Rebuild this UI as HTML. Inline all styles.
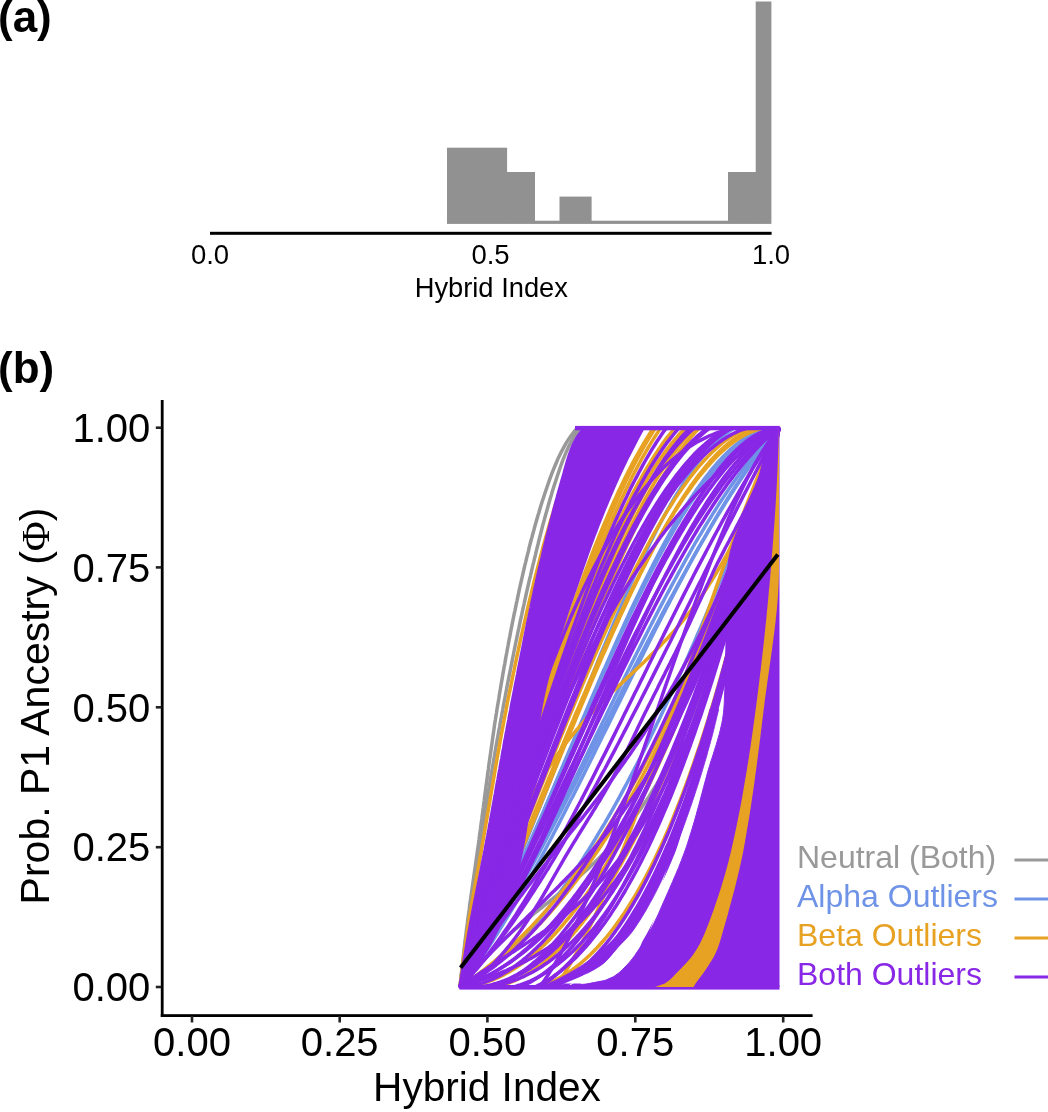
<!DOCTYPE html>
<html><head><meta charset="utf-8"><title>Genomic clines</title>
<style>
html,body{margin:0;padding:0;background:#fff;}
svg{display:block;font-family:"Liberation Sans",sans-serif;}
</style></head>
<body>
<svg width="1048" height="1112" viewBox="0 0 1048 1112">
<rect width="1048" height="1112" fill="#fff"/>
<text x="-2" y="31.5" font-size="44" text-anchor="start" fill="#000" font-weight="bold" >(a)</text>
<text x="-2" y="383" font-size="44" text-anchor="start" fill="#000" font-weight="bold" >(b)</text>
<rect x="447" y="147.7" width="60.1" height="76.20000000000002" fill="#919191"/>
<rect x="506.5" y="172" width="28.49999999999998" height="51.900000000000006" fill="#919191"/>
<rect x="534.4" y="220.7" width="25.700000000000024" height="3.200000000000017" fill="#919191"/>
<rect x="559.5" y="196.6" width="32.1" height="27.30000000000001" fill="#919191"/>
<rect x="591" y="220.7" width="137.6" height="3.200000000000017" fill="#919191"/>
<rect x="728" y="172" width="28.300000000000047" height="51.900000000000006" fill="#919191"/>
<rect x="755.7" y="1.5" width="15.699999999999909" height="222.4" fill="#919191"/>
<rect x="210" y="231.8" width="561.6" height="3" fill="#000"/>
<text x="210" y="264.3" font-size="27.5" text-anchor="middle" fill="#000" font-weight="normal" >0.0</text>
<text x="490.5" y="264.3" font-size="27.5" text-anchor="middle" fill="#000" font-weight="normal" >0.5</text>
<text x="771" y="264.3" font-size="27.5" text-anchor="middle" fill="#000" font-weight="normal" >1.0</text>
<text x="491.3" y="297" font-size="27.3" text-anchor="middle" fill="#000" font-weight="normal" >Hybrid Index</text>
<rect x="160.8" y="400" width="2.8" height="617" fill="#000"/>
<rect x="160.8" y="1014.2" width="651.8" height="2.8" fill="#000"/>
<rect x="155.8" y="426.4" width="5.5" height="2.6" fill="#222"/>
<text x="150.3" y="441.9" font-size="40" text-anchor="end" fill="#000" font-weight="normal" >1.00</text>
<rect x="155.8" y="566.1" width="5.5" height="2.6" fill="#222"/>
<text x="150.3" y="581.6" font-size="40" text-anchor="end" fill="#000" font-weight="normal" >0.75</text>
<rect x="155.8" y="706.0" width="5.5" height="2.6" fill="#222"/>
<text x="150.3" y="721.5" font-size="40" text-anchor="end" fill="#000" font-weight="normal" >0.50</text>
<rect x="155.8" y="845.9000000000001" width="5.5" height="2.6" fill="#222"/>
<text x="150.3" y="861.4000000000001" font-size="40" text-anchor="end" fill="#000" font-weight="normal" >0.25</text>
<rect x="155.8" y="985.7" width="5.5" height="2.6" fill="#222"/>
<text x="150.3" y="1001.2" font-size="40" text-anchor="end" fill="#000" font-weight="normal" >0.00</text>
<rect x="190.7" y="1016" width="2.6" height="6.5" fill="#222"/>
<text x="192" y="1056" font-size="40" text-anchor="middle" fill="#000" font-weight="normal" >0.00</text>
<rect x="338.4" y="1016" width="2.6" height="6.5" fill="#222"/>
<text x="339.7" y="1056" font-size="40" text-anchor="middle" fill="#000" font-weight="normal" >0.25</text>
<rect x="486.09999999999997" y="1016" width="2.6" height="6.5" fill="#222"/>
<text x="487.4" y="1056" font-size="40" text-anchor="middle" fill="#000" font-weight="normal" >0.50</text>
<rect x="634.0" y="1016" width="2.6" height="6.5" fill="#222"/>
<text x="635.3" y="1056" font-size="40" text-anchor="middle" fill="#000" font-weight="normal" >0.75</text>
<rect x="781.9000000000001" y="1016" width="2.6" height="6.5" fill="#222"/>
<text x="783.2" y="1056" font-size="40" text-anchor="middle" fill="#000" font-weight="normal" >1.00</text>
<text x="487.0" y="1101" font-size="40.6" text-anchor="middle" fill="#000" font-weight="normal" >Hybrid Index</text>
<text transform="translate(48.8,706) rotate(-90)" font-size="41" text-anchor="middle">Prob. P1 Ancestry (<tspan font-family="Liberation Serif, serif">Φ</tspan>)</text>
<text x="797" y="868.2" font-size="32" text-anchor="start" fill="#999999" font-weight="normal" >Neutral (Both)</text>
<rect x="1014.5" y="858.5" width="34" height="3" fill="#999999"/>
<text x="797" y="907.2" font-size="32" text-anchor="start" fill="#6f93e6" font-weight="normal" >Alpha Outliers</text>
<rect x="1014.5" y="897.5" width="34" height="3" fill="#6f93e6"/>
<text x="797" y="946.2" font-size="32" text-anchor="start" fill="#e8a223" font-weight="normal" >Beta Outliers</text>
<rect x="1014.5" y="936.5" width="34" height="3" fill="#e8a223"/>
<text x="797" y="985.2" font-size="32" text-anchor="start" fill="#8927e6" font-weight="normal" >Both Outliers</text>
<rect x="1014.5" y="975.5" width="34" height="3" fill="#8927e6"/>
<path d="M460.0,987.0 L460.4,983.5 L460.7,980.0 L461.1,976.5 L461.5,972.9 L461.9,969.4 L462.3,965.9 L462.7,962.4 L463.1,958.9 L463.5,955.4 L463.9,951.8 L464.3,948.3 L464.7,944.8 L465.1,941.3 L465.5,937.8 L466.0,934.3 L466.4,930.7 L466.8,927.2 L467.3,923.7 L467.7,920.2 L468.2,916.7 L468.7,913.2 L469.2,909.7 L469.6,906.1 L470.1,902.6 L470.6,899.1 L471.1,895.6 L471.6,892.1 L472.1,888.6 L472.6,885.0 L473.1,881.5 L473.6,878.0 L474.1,874.5 L474.6,871.0 L475.1,867.5 L475.6,863.9 L476.1,860.4 L476.6,856.9 L477.1,853.4 L477.6,849.9 L478.1,846.4 L478.6,842.9 L479.1,839.3 L479.5,835.8 L480.0,832.3 L480.5,828.8 L480.9,825.3 L481.4,821.8 L481.9,818.2 L482.3,814.7 L482.8,811.2 L483.3,807.7 L483.7,804.2 L484.2,800.7 L484.6,797.2 L485.1,793.6 L485.6,790.1 L486.0,786.6 L486.5,783.1 L487.0,779.6 L487.4,776.1 L487.9,772.5 L488.4,769.0 L488.8,765.5 L489.3,762.0 L489.8,758.5 L490.3,755.0 L490.8,751.4 L491.3,747.9 L491.8,744.4 L492.3,740.9 L492.8,737.4 L493.3,733.9 L493.8,730.4 L494.3,726.8 L494.8,723.3 L495.4,719.8 L495.9,716.3 L496.5,712.8 L497.0,709.3 L497.6,705.7 L498.2,702.2 L498.8,698.7 L499.3,695.2 L499.9,691.7 L500.5,688.2 L501.1,684.6 L501.7,681.1 L502.3,677.6 L502.9,674.1 L503.5,670.6 L504.1,667.1 L504.8,663.6 L505.4,660.0 L506.0,656.5 L506.7,653.0 L507.3,649.5 L508.0,646.0 L508.6,642.5 L509.3,638.9 L510.0,635.4 L510.6,631.9 L511.3,628.4 L512.0,624.9 L512.7,621.4 L513.4,617.8 L514.1,614.3 L514.9,610.8 L515.6,607.3 L516.3,603.8 L517.1,600.3 L517.8,596.8 L518.6,593.2 L519.3,589.7 L520.1,586.2 L520.9,582.7 L521.7,579.2 L522.5,575.7 L523.3,572.1 L524.1,568.6 L524.9,565.1 L525.8,561.6 L526.6,558.1 L527.5,554.6 L528.4,551.1 L529.2,547.5 L530.1,544.0 L531.0,540.5 L532.0,537.0 L532.9,533.5 L533.9,530.0 L534.8,526.4 L535.8,522.9 L536.8,519.4 L537.8,515.9 L538.9,512.4 L539.9,508.9 L541.0,505.3 L542.1,501.8 L543.3,498.3 L544.4,494.8 L545.6,491.3 L546.8,487.8 L548.0,484.3 L549.2,480.7 L550.5,477.2 L551.8,473.7 L553.2,470.2 L554.6,466.7 L556.1,463.2 L557.6,459.6 L559.3,456.1 L561.0,452.6 L562.8,449.1 L564.7,445.6 L566.7,442.1 L569.1,438.5 L571.6,435.0 L574.2,431.5 L577.0,428.0 L779.0,428.0" fill="none" stroke="#999999" stroke-width="3.5" stroke-linejoin="round"/>
<path d="M460.0,987.0 L460.4,983.5 L460.8,980.0 L461.2,976.5 L461.6,972.9 L462.0,969.4 L462.4,965.9 L462.9,962.4 L463.3,958.9 L463.7,955.4 L464.2,951.8 L464.6,948.3 L465.1,944.8 L465.5,941.3 L466.0,937.8 L466.4,934.3 L466.9,930.7 L467.4,927.2 L467.9,923.7 L468.3,920.2 L468.8,916.7 L469.3,913.2 L469.8,909.7 L470.4,906.1 L470.9,902.6 L471.4,899.1 L471.9,895.6 L472.5,892.1 L473.0,888.6 L473.5,885.0 L474.1,881.5 L474.6,878.0 L475.2,874.5 L475.7,871.0 L476.3,867.5 L476.8,863.9 L477.4,860.4 L477.9,856.9 L478.5,853.4 L479.0,849.9 L479.6,846.4 L480.2,842.9 L480.7,839.3 L481.3,835.8 L481.8,832.3 L482.4,828.8 L483.0,825.3 L483.5,821.8 L484.1,818.2 L484.7,814.7 L485.2,811.2 L485.8,807.7 L486.4,804.2 L486.9,800.7 L487.5,797.2 L488.1,793.6 L488.7,790.1 L489.3,786.6 L489.8,783.1 L490.4,779.6 L491.0,776.1 L491.6,772.5 L492.2,769.0 L492.8,765.5 L493.4,762.0 L494.0,758.5 L494.6,755.0 L495.2,751.4 L495.8,747.9 L496.4,744.4 L497.0,740.9 L497.7,737.4 L498.3,733.9 L498.9,730.4 L499.6,726.8 L500.2,723.3 L500.8,719.8 L501.5,716.3 L502.1,712.8 L502.8,709.3 L503.4,705.7 L504.1,702.2 L504.8,698.7 L505.4,695.2 L506.1,691.7 L506.8,688.2 L507.4,684.6 L508.1,681.1 L508.8,677.6 L509.5,674.1 L510.2,670.6 L510.9,667.1 L511.6,663.6 L512.3,660.0 L513.0,656.5 L513.7,653.0 L514.4,649.5 L515.1,646.0 L515.8,642.5 L516.6,638.9 L517.3,635.4 L518.0,631.9 L518.8,628.4 L519.5,624.9 L520.2,621.4 L521.0,617.8 L521.8,614.3 L522.5,610.8 L523.3,607.3 L524.1,603.8 L524.8,600.3 L525.6,596.8 L526.4,593.2 L527.2,589.7 L528.0,586.2 L528.8,582.7 L529.6,579.2 L530.5,575.7 L531.3,572.1 L532.1,568.6 L532.9,565.1 L533.8,561.6 L534.6,558.1 L535.5,554.6 L536.3,551.1 L537.2,547.5 L538.1,544.0 L538.9,540.5 L539.8,537.0 L540.7,533.5 L541.6,530.0 L542.5,526.4 L543.4,522.9 L544.4,519.4 L545.3,515.9 L546.3,512.4 L547.3,508.9 L548.3,505.3 L549.3,501.8 L550.3,498.3 L551.4,494.8 L552.4,491.3 L553.5,487.8 L554.6,484.3 L555.8,480.7 L556.9,477.2 L558.1,473.7 L559.3,470.2 L560.5,466.7 L561.8,463.2 L563.1,459.6 L564.5,456.1 L566.0,452.6 L567.6,449.1 L569.2,445.6 L571.0,442.1 L573.0,438.5 L575.3,435.0 L577.6,431.5 L580.0,428.0 L779.0,428.0" fill="none" stroke="#999999" stroke-width="3.5" stroke-linejoin="round"/>
<path d="M460.0,987.0 L462.0,984.4 L464.0,981.9 L466.0,979.4 L468.0,977.0 L470.0,974.6 L472.0,972.2 L474.0,969.9 L476.1,967.6 L478.1,965.3 L480.1,963.1 L482.1,961.0 L484.1,958.8 L486.1,956.7 L488.1,954.7 L490.1,952.6 L492.1,950.6 L494.1,948.6 L496.1,946.7 L498.1,944.8 L500.1,942.9 L502.1,941.0 L504.1,939.2 L506.1,937.3 L508.2,935.5 L510.2,933.7 L512.2,932.0 L514.2,930.2 L516.2,928.5 L518.2,926.8 L520.2,925.1 L522.2,923.4 L524.2,921.7 L526.2,920.1 L528.2,918.4 L530.2,916.8 L532.2,915.2 L534.2,913.5 L536.2,911.9 L538.2,910.3 L540.3,908.7 L542.3,907.1 L544.3,905.5 L546.3,903.9 L548.3,902.3 L550.3,900.7 L552.3,899.1 L554.3,897.4 L556.3,895.8 L558.3,894.2 L560.3,892.6 L562.3,890.9 L564.3,889.3 L566.3,887.6 L568.3,886.0 L570.3,884.3 L572.4,882.6 L574.4,880.9 L576.4,879.1 L578.4,877.4 L580.4,875.6 L582.4,873.8 L584.4,872.0 L586.4,870.2 L588.4,868.4 L590.4,866.5 L592.4,864.6 L594.4,862.7 L596.4,860.7 L598.4,858.8 L600.4,856.8 L602.4,854.7 L604.5,852.7 L606.5,850.6 L608.5,848.4 L610.5,846.3 L612.5,844.1 L614.5,841.8 L616.5,839.6 L618.5,837.2 L620.5,834.9 L622.5,832.5 L624.5,830.1 L626.5,827.6 L628.5,825.0 L630.5,822.5 L632.5,819.8 L634.5,817.2 L636.6,814.5 L638.6,811.7 L640.6,808.9 L642.6,806.0 L644.6,803.1 L646.6,800.1 L648.6,797.1 L650.6,794.0 L652.6,790.8 L654.6,787.6 L656.6,784.4 L658.6,781.0 L660.6,777.7 L662.6,774.2 L664.6,770.7 L666.6,767.1 L668.7,763.4 L670.7,759.7 L672.7,755.9 L674.7,752.1 L676.7,748.2 L678.7,744.2 L680.7,740.1 L682.7,735.9 L684.7,731.7 L686.7,727.4 L688.7,723.1 L690.7,718.6 L692.7,714.1 L694.7,709.5 L696.7,704.8 L698.7,700.0 L700.8,695.1 L702.8,690.2 L704.8,685.1 L706.8,680.0 L708.8,674.8 L710.8,669.5 L712.8,664.1 L714.8,658.6 L716.8,653.0 L718.8,647.4 L720.8,641.6 L722.8,635.7 L724.8,629.8 L726.8,623.7 L728.8,617.6 L730.8,611.3 L732.9,604.9 L734.9,598.5 L736.9,591.9 L738.9,585.2 L740.9,578.5 L742.9,571.6 L744.9,564.6 L746.9,557.5 L748.9,550.3 L750.9,542.9 L752.9,535.5 L754.9,527.9 L756.9,520.3 L758.9,512.5 L760.9,504.6 L762.9,496.6 L765.0,488.4 L767.0,480.2 L769.0,471.8 L771.0,463.3 L773.0,454.6 L775.0,445.9 L777.0,437.0 L779.0,428.0" fill="none" stroke="#999999" stroke-width="3.5" stroke-linejoin="round"/>
<path d="M460.0,987.0 L462.0,984.4 L464.0,981.9 L466.0,979.2 L468.0,976.6 L470.0,973.8 L472.0,971.1 L474.0,968.3 L476.1,965.5 L478.1,962.6 L480.1,959.7 L482.1,956.8 L484.1,953.8 L486.1,950.9 L488.1,947.8 L490.1,944.8 L492.1,941.7 L494.1,938.5 L496.1,935.4 L498.1,932.2 L500.1,928.9 L502.1,925.7 L504.1,922.4 L506.1,919.1 L508.2,915.8 L510.2,912.4 L512.2,909.0 L514.2,905.6 L516.2,902.1 L518.2,898.7 L520.2,895.2 L522.2,891.6 L524.2,888.1 L526.2,884.5 L528.2,880.9 L530.2,877.3 L532.2,873.7 L534.2,870.0 L536.2,866.3 L538.2,862.6 L540.3,858.9 L542.3,855.2 L544.3,851.4 L546.3,847.6 L548.3,843.8 L550.3,840.0 L552.3,836.2 L554.3,832.3 L556.3,828.5 L558.3,824.6 L560.3,820.7 L562.3,816.8 L564.3,812.9 L566.3,808.9 L568.3,805.0 L570.3,801.0 L572.4,797.1 L574.4,793.1 L576.4,789.1 L578.4,785.1 L580.4,781.1 L582.4,777.1 L584.4,773.1 L586.4,769.0 L588.4,765.0 L590.4,761.0 L592.4,756.9 L594.4,752.9 L596.4,748.8 L598.4,744.7 L600.4,740.7 L602.4,736.6 L604.5,732.5 L606.5,728.4 L608.5,724.4 L610.5,720.3 L612.5,716.2 L614.5,712.1 L616.5,708.0 L618.5,703.9 L620.5,699.9 L622.5,695.8 L624.5,691.7 L626.5,687.7 L628.5,683.6 L630.5,679.5 L632.5,675.5 L634.5,671.4 L636.6,667.4 L638.6,663.3 L640.6,659.3 L642.6,655.3 L644.6,651.2 L646.6,647.2 L648.6,643.2 L650.6,639.2 L652.6,635.3 L654.6,631.3 L656.6,627.3 L658.6,623.4 L660.6,619.4 L662.6,615.5 L664.6,611.6 L666.6,607.7 L668.7,603.8 L670.7,600.0 L672.7,596.1 L674.7,592.3 L676.7,588.5 L678.7,584.7 L680.7,580.9 L682.7,577.1 L684.7,573.4 L686.7,569.6 L688.7,565.9 L690.7,562.2 L692.7,558.6 L694.7,554.9 L696.7,551.3 L698.7,547.7 L700.8,544.1 L702.8,540.5 L704.8,537.0 L706.8,533.5 L708.8,530.0 L710.8,526.6 L712.8,523.1 L714.8,519.7 L716.8,516.3 L718.8,513.0 L720.8,509.7 L722.8,506.4 L724.8,503.1 L726.8,499.9 L728.8,496.7 L730.8,493.5 L732.9,490.4 L734.9,487.3 L736.9,484.2 L738.9,481.1 L740.9,478.1 L742.9,475.1 L744.9,472.2 L746.9,469.3 L748.9,466.4 L750.9,463.6 L752.9,460.8 L754.9,458.0 L756.9,455.3 L758.9,452.6 L760.9,450.0 L762.9,447.4 L765.0,444.8 L767.0,442.3 L769.0,439.8 L771.0,437.3 L773.0,434.9 L775.0,432.6 L777.0,430.3 L779.0,428.0" fill="none" stroke="#6f93e6" stroke-width="3.5" stroke-linejoin="round"/>
<path d="M460.0,987.0 L462.0,983.5 L464.0,979.9 L466.0,976.2 L468.0,972.6 L470.0,968.9 L472.0,965.1 L474.0,961.3 L476.1,957.5 L478.1,953.6 L480.1,949.7 L482.1,945.7 L484.1,941.7 L486.1,937.7 L488.1,933.7 L490.1,929.6 L492.1,925.5 L494.1,921.3 L496.1,917.1 L498.1,912.9 L500.1,908.6 L502.1,904.4 L504.1,900.1 L506.1,895.7 L508.2,891.4 L510.2,887.0 L512.2,882.6 L514.2,878.2 L516.2,873.7 L518.2,869.2 L520.2,864.7 L522.2,860.2 L524.2,855.7 L526.2,851.1 L528.2,846.6 L530.2,842.0 L532.2,837.4 L534.2,832.8 L536.2,828.1 L538.2,823.5 L540.3,818.8 L542.3,814.2 L544.3,809.5 L546.3,804.8 L548.3,800.1 L550.3,795.4 L552.3,790.7 L554.3,786.0 L556.3,781.3 L558.3,776.5 L560.3,771.8 L562.3,767.1 L564.3,762.3 L566.3,757.6 L568.3,752.9 L570.3,748.1 L572.4,743.4 L574.4,738.7 L576.4,733.9 L578.4,729.2 L580.4,724.5 L582.4,719.8 L584.4,715.1 L586.4,710.4 L588.4,705.7 L590.4,701.0 L592.4,696.4 L594.4,691.7 L596.4,687.1 L598.4,682.4 L600.4,677.8 L602.4,673.2 L604.5,668.6 L606.5,664.1 L608.5,659.5 L610.5,655.0 L612.5,650.5 L614.5,646.0 L616.5,641.5 L618.5,637.0 L620.5,632.6 L622.5,628.2 L624.5,623.8 L626.5,619.5 L628.5,615.1 L630.5,610.8 L632.5,606.6 L634.5,602.3 L636.6,598.1 L638.6,593.9 L640.6,589.8 L642.6,585.6 L644.6,581.5 L646.6,577.5 L648.6,573.5 L650.6,569.5 L652.6,565.5 L654.6,561.6 L656.6,557.7 L658.6,553.9 L660.6,550.1 L662.6,546.3 L664.6,542.6 L666.6,539.0 L668.7,535.3 L670.7,531.7 L672.7,528.2 L674.7,524.7 L676.7,521.3 L678.7,517.9 L680.7,514.5 L682.7,511.2 L684.7,508.0 L686.7,504.8 L688.7,501.6 L690.7,498.5 L692.7,495.5 L694.7,492.5 L696.7,489.6 L698.7,486.7 L700.8,483.9 L702.8,481.1 L704.8,478.4 L706.8,475.8 L708.8,473.2 L710.8,470.7 L712.8,468.2 L714.8,465.9 L716.8,463.5 L718.8,461.3 L720.8,459.1 L722.8,456.9 L724.8,454.9 L726.8,452.9 L728.8,451.0 L730.8,449.1 L732.9,447.3 L734.9,445.6 L736.9,444.0 L738.9,442.4 L740.9,440.9 L742.9,439.5 L744.9,438.2 L746.9,436.9 L748.9,435.8 L750.9,434.6 L752.9,433.6 L754.9,432.7 L756.9,431.8 L758.9,431.0 L760.9,430.4 L762.9,429.7 L765.0,429.2 L767.0,428.8 L769.0,428.4 L771.0,428.2 L773.0,428.0 L775.0,428.0 L777.0,428.0 L779.0,428.0" fill="none" stroke="#6f93e6" stroke-width="3.5" stroke-linejoin="round"/>
<path d="M460.0,987.0 L462.0,984.1 L464.0,981.2 L466.0,978.2 L468.0,975.2 L470.0,972.1 L472.0,969.1 L474.0,966.0 L476.1,962.8 L478.1,959.7 L480.1,956.4 L482.1,953.2 L484.1,949.9 L486.1,946.7 L488.1,943.3 L490.1,940.0 L492.1,936.6 L494.1,933.2 L496.1,929.8 L498.1,926.3 L500.1,922.8 L502.1,919.3 L504.1,915.7 L506.1,912.2 L508.2,908.6 L510.2,905.0 L512.2,901.4 L514.2,897.7 L516.2,894.0 L518.2,890.3 L520.2,886.6 L522.2,882.9 L524.2,879.1 L526.2,875.3 L528.2,871.5 L530.2,867.7 L532.2,863.9 L534.2,860.0 L536.2,856.2 L538.2,852.3 L540.3,848.4 L542.3,844.5 L544.3,840.5 L546.3,836.6 L548.3,832.6 L550.3,828.7 L552.3,824.7 L554.3,820.7 L556.3,816.7 L558.3,812.7 L560.3,808.7 L562.3,804.6 L564.3,800.6 L566.3,796.5 L568.3,792.5 L570.3,788.4 L572.4,784.3 L574.4,780.2 L576.4,776.2 L578.4,772.1 L580.4,768.0 L582.4,763.9 L584.4,759.8 L586.4,755.7 L588.4,751.6 L590.4,747.4 L592.4,743.3 L594.4,739.2 L596.4,735.1 L598.4,731.0 L600.4,726.9 L602.4,722.8 L604.5,718.7 L606.5,714.5 L608.5,710.4 L610.5,706.3 L612.5,702.2 L614.5,698.1 L616.5,694.1 L618.5,690.0 L620.5,685.9 L622.5,681.8 L624.5,677.8 L626.5,673.7 L628.5,669.7 L630.5,665.6 L632.5,661.6 L634.5,657.6 L636.6,653.5 L638.6,649.5 L640.6,645.6 L642.6,641.6 L644.6,637.6 L646.6,633.7 L648.6,629.7 L650.6,625.8 L652.6,621.9 L654.6,618.0 L656.6,614.1 L658.6,610.2 L660.6,606.4 L662.6,602.6 L664.6,598.8 L666.6,595.0 L668.7,591.2 L670.7,587.4 L672.7,583.7 L674.7,580.0 L676.7,576.3 L678.7,572.6 L680.7,569.0 L682.7,565.3 L684.7,561.7 L686.7,558.1 L688.7,554.6 L690.7,551.0 L692.7,547.5 L694.7,544.0 L696.7,540.6 L698.7,537.2 L700.8,533.8 L702.8,530.4 L704.8,527.0 L706.8,523.7 L708.8,520.4 L710.8,517.2 L712.8,513.9 L714.8,510.7 L716.8,507.6 L718.8,504.4 L720.8,501.3 L722.8,498.3 L724.8,495.2 L726.8,492.2 L728.8,489.3 L730.8,486.3 L732.9,483.4 L734.9,480.6 L736.9,477.8 L738.9,475.0 L740.9,472.2 L742.9,469.5 L744.9,466.9 L746.9,464.2 L748.9,461.6 L750.9,459.1 L752.9,456.6 L754.9,454.1 L756.9,451.7 L758.9,449.3 L760.9,447.0 L762.9,444.7 L765.0,442.5 L767.0,440.2 L769.0,438.1 L771.0,436.0 L773.0,433.9 L775.0,431.9 L777.0,429.9 L779.0,428.0" fill="none" stroke="#6f93e6" stroke-width="3.5" stroke-linejoin="round"/>
<path d="M460.0,987.0 L462.0,986.0 L464.0,985.0 L466.0,983.9 L468.0,982.8 L470.0,981.6 L472.0,980.4 L474.0,979.2 L476.1,977.9 L478.1,976.6 L480.1,975.2 L482.1,973.8 L484.1,972.4 L486.1,971.0 L488.1,969.5 L490.1,967.9 L492.1,966.4 L494.1,964.8 L496.1,963.1 L498.1,961.4 L500.1,959.7 L502.1,958.0 L504.1,956.2 L506.1,954.3 L508.2,952.5 L510.2,950.6 L512.2,948.6 L514.2,946.7 L516.2,944.7 L518.2,942.6 L520.2,940.6 L522.2,938.4 L524.2,936.3 L526.2,934.1 L528.2,931.9 L530.2,929.7 L532.2,927.4 L534.2,925.1 L536.2,922.7 L538.2,920.3 L540.3,917.9 L542.3,915.5 L544.3,913.0 L546.3,910.5 L548.3,907.9 L550.3,905.3 L552.3,902.7 L554.3,900.1 L556.3,897.4 L558.3,894.7 L560.3,891.9 L562.3,889.1 L564.3,886.3 L566.3,883.5 L568.3,880.6 L570.3,877.7 L572.4,874.8 L574.4,871.8 L576.4,868.8 L578.4,865.8 L580.4,862.7 L582.4,859.6 L584.4,856.5 L586.4,853.3 L588.4,850.1 L590.4,846.9 L592.4,843.7 L594.4,840.4 L596.4,837.1 L598.4,833.7 L600.4,830.4 L602.4,827.0 L604.5,823.6 L606.5,820.1 L608.5,816.6 L610.5,813.1 L612.5,809.6 L614.5,806.0 L616.5,802.4 L618.5,798.8 L620.5,795.1 L622.5,791.4 L624.5,787.7 L626.5,784.0 L628.5,780.2 L630.5,776.4 L632.5,772.6 L634.5,768.7 L636.6,764.9 L638.6,760.9 L640.6,757.0 L642.6,753.1 L644.6,749.1 L646.6,745.1 L648.6,741.0 L650.6,736.9 L652.6,732.9 L654.6,728.7 L656.6,724.6 L658.6,720.4 L660.6,716.2 L662.6,712.0 L664.6,707.8 L666.6,703.5 L668.7,699.2 L670.7,694.9 L672.7,690.5 L674.7,686.2 L676.7,681.8 L678.7,677.3 L680.7,672.9 L682.7,668.4 L684.7,663.9 L686.7,659.4 L688.7,654.9 L690.7,650.3 L692.7,645.7 L694.7,641.1 L696.7,636.5 L698.7,631.8 L700.8,627.1 L702.8,622.4 L704.8,617.7 L706.8,612.9 L708.8,608.2 L710.8,603.4 L712.8,598.6 L714.8,593.7 L716.8,588.9 L718.8,584.0 L720.8,579.1 L722.8,574.1 L724.8,569.2 L726.8,564.2 L728.8,559.2 L730.8,554.2 L732.9,549.2 L734.9,544.1 L736.9,539.1 L738.9,534.0 L740.9,528.9 L742.9,523.7 L744.9,518.6 L746.9,513.4 L748.9,508.2 L750.9,503.0 L752.9,497.8 L754.9,492.5 L756.9,487.2 L758.9,481.9 L760.9,476.6 L762.9,471.3 L765.0,466.0 L767.0,460.6 L769.0,455.2 L771.0,449.8 L773.0,444.4 L775.0,438.9 L777.0,433.5 L779.0,428.0" fill="none" stroke="#6f93e6" stroke-width="3.5" stroke-linejoin="round"/>
<path d="M460.0,987.0 L462.0,984.0 L464.0,981.0 L466.0,978.0 L468.0,975.0 L470.0,971.9 L472.0,968.8 L474.0,965.7 L476.1,962.5 L478.1,959.3 L480.1,956.1 L482.1,952.9 L484.1,949.6 L486.1,946.4 L488.1,943.1 L490.1,939.7 L492.1,936.4 L494.1,933.0 L496.1,929.6 L498.1,926.2 L500.1,922.8 L502.1,919.4 L504.1,915.9 L506.1,912.4 L508.2,908.9 L510.2,905.4 L512.2,901.8 L514.2,898.3 L516.2,894.7 L518.2,891.1 L520.2,887.5 L522.2,883.8 L524.2,880.2 L526.2,876.5 L528.2,872.9 L530.2,869.2 L532.2,865.5 L534.2,861.7 L536.2,858.0 L538.2,854.3 L540.3,850.5 L542.3,846.7 L544.3,842.9 L546.3,839.2 L548.3,835.3 L550.3,831.5 L552.3,827.7 L554.3,823.9 L556.3,820.0 L558.3,816.2 L560.3,812.3 L562.3,808.4 L564.3,804.6 L566.3,800.7 L568.3,796.8 L570.3,792.9 L572.4,789.0 L574.4,785.1 L576.4,781.1 L578.4,777.2 L580.4,773.3 L582.4,769.3 L584.4,765.4 L586.4,761.5 L588.4,757.5 L590.4,753.6 L592.4,749.6 L594.4,745.7 L596.4,741.7 L598.4,737.8 L600.4,733.8 L602.4,729.9 L604.5,725.9 L606.5,722.0 L608.5,718.0 L610.5,714.1 L612.5,710.1 L614.5,706.2 L616.5,702.2 L618.5,698.3 L620.5,694.4 L622.5,690.4 L624.5,686.5 L626.5,682.6 L628.5,678.6 L630.5,674.7 L632.5,670.8 L634.5,666.9 L636.6,663.0 L638.6,659.1 L640.6,655.2 L642.6,651.4 L644.6,647.5 L646.6,643.6 L648.6,639.8 L650.6,636.0 L652.6,632.1 L654.6,628.3 L656.6,624.5 L658.6,620.7 L660.6,616.9 L662.6,613.1 L664.6,609.4 L666.6,605.6 L668.7,601.9 L670.7,598.2 L672.7,594.5 L674.7,590.8 L676.7,587.1 L678.7,583.4 L680.7,579.8 L682.7,576.1 L684.7,572.5 L686.7,568.9 L688.7,565.3 L690.7,561.8 L692.7,558.2 L694.7,554.7 L696.7,551.2 L698.7,547.7 L700.8,544.2 L702.8,540.7 L704.8,537.3 L706.8,533.9 L708.8,530.5 L710.8,527.1 L712.8,523.8 L714.8,520.4 L716.8,517.1 L718.8,513.8 L720.8,510.6 L722.8,507.3 L724.8,504.1 L726.8,500.9 L728.8,497.8 L730.8,494.6 L732.9,491.5 L734.9,488.4 L736.9,485.4 L738.9,482.4 L740.9,479.4 L742.9,476.4 L744.9,473.4 L746.9,470.5 L748.9,467.6 L750.9,464.8 L752.9,461.9 L754.9,459.1 L756.9,456.3 L758.9,453.6 L760.9,450.9 L762.9,448.2 L765.0,445.6 L767.0,443.0 L769.0,440.4 L771.0,437.8 L773.0,435.3 L775.0,432.9 L777.0,430.4 L779.0,428.0" fill="none" stroke="#6f93e6" stroke-width="3.5" stroke-linejoin="round"/>
<path d="M460.0,987.0 L462.0,983.4 L464.0,979.7 L466.0,976.1 L468.0,972.3 L470.0,968.6 L472.0,964.8 L474.0,960.9 L476.1,957.0 L478.1,953.1 L480.1,949.2 L482.1,945.2 L484.1,941.2 L486.1,937.2 L488.1,933.1 L490.1,929.0 L492.1,924.8 L494.1,920.7 L496.1,916.5 L498.1,912.3 L500.1,908.0 L502.1,903.8 L504.1,899.5 L506.1,895.2 L508.2,890.8 L510.2,886.4 L512.2,882.1 L514.2,877.7 L516.2,873.2 L518.2,868.8 L520.2,864.3 L522.2,859.8 L524.2,855.3 L526.2,850.8 L528.2,846.3 L530.2,841.8 L532.2,837.2 L534.2,832.6 L536.2,828.0 L538.2,823.5 L540.3,818.8 L542.3,814.2 L544.3,809.6 L546.3,805.0 L548.3,800.3 L550.3,795.7 L552.3,791.1 L554.3,786.4 L556.3,781.7 L558.3,777.1 L560.3,772.4 L562.3,767.8 L564.3,763.1 L566.3,758.4 L568.3,753.8 L570.3,749.1 L572.4,744.4 L574.4,739.8 L576.4,735.1 L578.4,730.5 L580.4,725.8 L582.4,721.2 L584.4,716.6 L586.4,712.0 L588.4,707.4 L590.4,702.8 L592.4,698.2 L594.4,693.6 L596.4,689.0 L598.4,684.5 L600.4,679.9 L602.4,675.4 L604.5,670.9 L606.5,666.4 L608.5,661.9 L610.5,657.5 L612.5,653.0 L614.5,648.6 L616.5,644.2 L618.5,639.8 L620.5,635.4 L622.5,631.1 L624.5,626.8 L626.5,622.5 L628.5,618.2 L630.5,614.0 L632.5,609.8 L634.5,605.6 L636.6,601.5 L638.6,597.3 L640.6,593.2 L642.6,589.2 L644.6,585.1 L646.6,581.1 L648.6,577.1 L650.6,573.2 L652.6,569.3 L654.6,565.4 L656.6,561.6 L658.6,557.8 L660.6,554.1 L662.6,550.3 L664.6,546.7 L666.6,543.0 L668.7,539.4 L670.7,535.9 L672.7,532.3 L674.7,528.9 L676.7,525.4 L678.7,522.1 L680.7,518.7 L682.7,515.4 L684.7,512.2 L686.7,509.0 L688.7,505.9 L690.7,502.8 L692.7,499.7 L694.7,496.7 L696.7,493.8 L698.7,490.9 L700.8,488.1 L702.8,485.3 L704.8,482.6 L706.8,479.9 L708.8,477.3 L710.8,474.7 L712.8,472.2 L714.8,469.8 L716.8,467.4 L718.8,465.1 L720.8,462.9 L722.8,460.7 L724.8,458.5 L726.8,456.5 L728.8,454.5 L730.8,452.6 L732.9,450.7 L734.9,448.9 L736.9,447.2 L738.9,445.5 L740.9,443.9 L742.9,442.4 L744.9,440.9 L746.9,439.6 L748.9,438.3 L750.9,437.0 L752.9,435.9 L754.9,434.8 L756.9,433.8 L758.9,432.9 L760.9,432.0 L762.9,431.2 L765.0,430.5 L767.0,429.9 L769.0,429.4 L771.0,429.0 L773.0,428.6 L775.0,428.3 L777.0,428.1 L779.0,428.0" fill="none" stroke="#6f93e6" stroke-width="3.5" stroke-linejoin="round"/>
<path d="M460.0,987.0 L462.0,983.2 L464.0,979.4 L466.0,975.6 L468.0,971.7 L470.0,967.7 L472.0,963.7 L474.0,959.7 L476.1,955.6 L478.1,951.4 L480.1,947.2 L482.1,943.0 L484.1,938.7 L486.1,934.4 L488.1,930.0 L490.1,925.6 L492.1,921.2 L494.1,916.7 L496.1,912.2 L498.1,907.7 L500.1,903.1 L502.1,898.5 L504.1,893.9 L506.1,889.2 L508.2,884.5 L510.2,879.8 L512.2,875.0 L514.2,870.2 L516.2,865.4 L518.2,860.6 L520.2,855.7 L522.2,850.9 L524.2,846.0 L526.2,841.0 L528.2,836.1 L530.2,831.2 L532.2,826.2 L534.2,821.2 L536.2,816.2 L538.2,811.2 L540.3,806.2 L542.3,801.1 L544.3,796.1 L546.3,791.0 L548.3,786.0 L550.3,780.9 L552.3,775.8 L554.3,770.7 L556.3,765.7 L558.3,760.6 L560.3,755.5 L562.3,750.4 L564.3,745.3 L566.3,740.2 L568.3,735.1 L570.3,730.0 L572.4,725.0 L574.4,719.9 L576.4,714.8 L578.4,709.8 L580.4,704.7 L582.4,699.7 L584.4,694.7 L586.4,689.7 L588.4,684.7 L590.4,679.7 L592.4,674.7 L594.4,669.8 L596.4,664.8 L598.4,659.9 L600.4,655.0 L602.4,650.1 L604.5,645.3 L606.5,640.4 L608.5,635.6 L610.5,630.9 L612.5,626.1 L614.5,621.4 L616.5,616.7 L618.5,612.0 L620.5,607.4 L622.5,602.7 L624.5,598.2 L626.5,593.6 L628.5,589.1 L630.5,584.6 L632.5,580.2 L634.5,575.8 L636.6,571.5 L638.6,567.1 L640.6,562.9 L642.6,558.6 L644.6,554.4 L646.6,550.3 L648.6,546.2 L650.6,542.1 L652.6,538.1 L654.6,534.2 L656.6,530.2 L658.6,526.4 L660.6,522.6 L662.6,518.8 L664.6,515.1 L666.6,511.5 L668.7,507.9 L670.7,504.4 L672.7,500.9 L674.7,497.5 L676.7,494.1 L678.7,490.8 L680.7,487.6 L682.7,484.4 L684.7,481.3 L686.7,478.3 L688.7,475.3 L690.7,472.4 L692.7,469.6 L694.7,466.8 L696.7,464.1 L698.7,461.5 L700.8,458.9 L702.8,456.5 L704.8,454.1 L706.8,451.7 L708.8,449.5 L710.8,447.3 L712.8,445.2 L714.8,443.2 L716.8,441.3 L718.8,439.5 L720.8,437.7 L722.8,436.0 L724.8,434.5 L726.8,433.0 L728.8,431.5 L730.8,430.2 L732.9,429.0 L734.9,428.0 L736.9,428.0 L738.9,428.0 L740.9,428.0 L742.9,428.0 L744.9,428.0 L746.9,428.0 L748.9,428.0 L750.9,428.0 L752.9,428.0 L754.9,428.0 L756.9,428.0 L758.9,428.0 L760.9,428.0 L762.9,428.0 L765.0,428.0 L767.0,428.0 L769.0,428.0 L771.0,428.0 L773.0,428.0 L775.0,428.0 L777.0,428.0 L779.0,428.0" fill="none" stroke="#6f93e6" stroke-width="3.5" stroke-linejoin="round"/>
<path d="M460.0,987.0 L460.4,983.5 L460.8,980.0 L461.2,976.5 L461.7,972.9 L462.1,969.4 L462.5,965.9 L463.0,962.4 L463.5,958.9 L463.9,955.4 L464.4,951.8 L464.9,948.3 L465.4,944.8 L465.9,941.3 L466.4,937.8 L466.9,934.3 L467.4,930.7 L467.9,927.2 L468.5,923.7 L469.0,920.2 L469.6,916.7 L470.2,913.2 L470.8,909.7 L471.4,906.1 L472.0,902.6 L472.6,899.1 L473.2,895.6 L473.8,892.1 L474.5,888.6 L475.1,885.0 L475.7,881.5 L476.4,878.0 L477.0,874.5 L477.7,871.0 L478.3,867.5 L479.0,863.9 L479.6,860.4 L480.2,856.9 L480.9,853.4 L481.5,849.9 L482.1,846.4 L482.7,842.9 L483.3,839.3 L483.9,835.8 L484.5,832.3 L485.1,828.8 L485.7,825.3 L486.3,821.8 L486.9,818.2 L487.5,814.7 L488.1,811.2 L488.7,807.7 L489.3,804.2 L489.9,800.7 L490.5,797.2 L491.1,793.6 L491.7,790.1 L492.3,786.6 L492.9,783.1 L493.5,779.6 L494.1,776.1 L494.7,772.5 L495.3,769.0 L495.9,765.5 L496.5,762.0 L497.1,758.5 L497.7,755.0 L498.4,751.4 L499.0,747.9 L499.6,744.4 L500.2,740.9 L500.9,737.4 L501.5,733.9 L502.2,730.4 L502.8,726.8 L503.5,723.3 L504.1,719.8 L504.8,716.3 L505.5,712.8 L506.2,709.3 L506.8,705.7 L507.5,702.2 L508.2,698.7 L508.9,695.2 L509.6,691.7 L510.4,688.2 L511.1,684.6 L511.8,681.1 L512.5,677.6 L513.2,674.1 L514.0,670.6 L514.7,667.1 L515.4,663.6 L516.2,660.0 L516.9,656.5 L517.7,653.0 L518.4,649.5 L519.2,646.0 L519.9,642.5 L520.7,638.9 L521.5,635.4 L522.3,631.9 L523.1,628.4 L523.9,624.9 L524.7,621.4 L525.5,617.8 L526.3,614.3 L527.1,610.8 L527.9,607.3 L528.7,603.8 L529.6,600.3 L530.4,596.8 L531.3,593.2 L532.1,589.7 L533.0,586.2 L533.8,582.7 L534.7,579.2 L535.6,575.7 L536.5,572.1 L537.4,568.6 L538.3,565.1 L539.2,561.6 L540.1,558.1 L541.1,554.6 L542.0,551.1 L542.9,547.5 L543.9,544.0 L544.9,540.5 L545.9,537.0 L546.9,533.5 L547.9,530.0 L548.9,526.4 L549.9,522.9 L550.9,519.4 L552.0,515.9 L553.1,512.4 L554.1,508.9 L555.2,505.3 L556.3,501.8 L557.5,498.3 L558.6,494.8 L559.7,491.3 L560.9,487.8 L562.1,484.3 L563.2,480.7 L564.4,477.2 L565.6,473.7 L566.8,470.2 L567.9,466.7 L569.2,463.2 L570.5,459.6 L571.8,456.1 L573.3,452.6 L574.9,449.1 L576.7,445.6 L578.7,442.1 L581.2,438.5 L583.9,435.0 L586.9,431.5 L590.0,428.0 L779.0,428.0" fill="none" stroke="#e8a223" stroke-width="3.5" stroke-linejoin="round"/>
<path d="M460.0,987.0 L462.0,979.8 L464.0,972.6 L466.0,965.6 L468.0,958.8 L470.0,952.0 L472.0,945.4 L474.0,938.9 L476.1,932.5 L478.1,926.2 L480.1,920.1 L482.1,914.0 L484.1,908.1 L486.1,902.3 L488.1,896.6 L490.1,891.0 L492.1,885.5 L494.1,880.1 L496.1,874.8 L498.1,869.6 L500.1,864.5 L502.1,859.5 L504.1,854.6 L506.1,849.8 L508.2,845.1 L510.2,840.5 L512.2,836.0 L514.2,831.6 L516.2,827.2 L518.2,823.0 L520.2,818.8 L522.2,814.7 L524.2,810.7 L526.2,806.8 L528.2,802.9 L530.2,799.2 L532.2,795.5 L534.2,791.9 L536.2,788.3 L538.2,784.8 L540.3,781.4 L542.3,778.1 L544.3,774.8 L546.3,771.6 L548.3,768.4 L550.3,765.4 L552.3,762.3 L554.3,759.4 L556.3,756.5 L558.3,753.6 L560.3,750.8 L562.3,748.0 L564.3,745.3 L566.3,742.7 L568.3,740.1 L570.3,737.5 L572.4,735.0 L574.4,732.6 L576.4,730.1 L578.4,727.8 L580.4,725.4 L582.4,723.1 L584.4,720.8 L586.4,718.6 L588.4,716.4 L590.4,714.2 L592.4,712.0 L594.4,709.9 L596.4,707.8 L598.4,705.8 L600.4,703.7 L602.4,701.7 L604.5,699.7 L606.5,697.7 L608.5,695.7 L610.5,693.8 L612.5,691.8 L614.5,689.9 L616.5,688.0 L618.5,686.1 L620.5,684.2 L622.5,682.3 L624.5,680.4 L626.5,678.5 L628.5,676.6 L630.5,674.8 L632.5,672.9 L634.5,671.0 L636.6,669.1 L638.6,667.2 L640.6,665.3 L642.6,663.4 L644.6,661.5 L646.6,659.5 L648.6,657.6 L650.6,655.6 L652.6,653.6 L654.6,651.6 L656.6,649.6 L658.6,647.6 L660.6,645.5 L662.6,643.4 L664.6,641.3 L666.6,639.2 L668.7,637.0 L670.7,634.8 L672.7,632.6 L674.7,630.3 L676.7,628.0 L678.7,625.6 L680.7,623.3 L682.7,620.9 L684.7,618.4 L686.7,615.9 L688.7,613.3 L690.7,610.8 L692.7,608.1 L694.7,605.4 L696.7,602.7 L698.7,599.9 L700.8,597.1 L702.8,594.2 L704.8,591.2 L706.8,588.2 L708.8,585.1 L710.8,582.0 L712.8,578.8 L714.8,575.5 L716.8,572.2 L718.8,568.8 L720.8,565.3 L722.8,561.8 L724.8,558.2 L726.8,554.5 L728.8,550.8 L730.8,546.9 L732.9,543.0 L734.9,539.0 L736.9,535.0 L738.9,530.8 L740.9,526.6 L742.9,522.2 L744.9,517.8 L746.9,513.3 L748.9,508.7 L750.9,504.1 L752.9,499.3 L754.9,494.4 L756.9,489.4 L758.9,484.4 L760.9,479.2 L762.9,474.0 L765.0,468.6 L767.0,463.1 L769.0,457.5 L771.0,451.8 L773.0,446.1 L775.0,440.1 L777.0,434.1 L779.0,428.0" fill="none" stroke="#e8a223" stroke-width="3.5" stroke-linejoin="round"/>
<path d="M460.0,987.0 L462.0,983.0 L464.0,978.9 L466.0,974.8 L468.0,970.7 L470.0,966.5 L472.0,962.3 L474.0,958.1 L476.1,953.8 L478.1,949.5 L480.1,945.2 L482.1,940.8 L484.1,936.4 L486.1,932.0 L488.1,927.5 L490.1,923.1 L492.1,918.6 L494.1,914.1 L496.1,909.5 L498.1,904.9 L500.1,900.3 L502.1,895.7 L504.1,891.1 L506.1,886.5 L508.2,881.8 L510.2,877.1 L512.2,872.4 L514.2,867.7 L516.2,862.9 L518.2,858.2 L520.2,853.4 L522.2,848.6 L524.2,843.8 L526.2,839.0 L528.2,834.2 L530.2,829.4 L532.2,824.6 L534.2,819.7 L536.2,814.9 L538.2,810.0 L540.3,805.2 L542.3,800.3 L544.3,795.4 L546.3,790.6 L548.3,785.7 L550.3,780.8 L552.3,775.9 L554.3,771.1 L556.3,766.2 L558.3,761.3 L560.3,756.4 L562.3,751.6 L564.3,746.7 L566.3,741.9 L568.3,737.0 L570.3,732.2 L572.4,727.3 L574.4,722.5 L576.4,717.7 L578.4,712.9 L580.4,708.1 L582.4,703.3 L584.4,698.6 L586.4,693.8 L588.4,689.1 L590.4,684.3 L592.4,679.6 L594.4,674.9 L596.4,670.3 L598.4,665.6 L600.4,661.0 L602.4,656.4 L604.5,651.8 L606.5,647.2 L608.5,642.6 L610.5,638.1 L612.5,633.6 L614.5,629.1 L616.5,624.7 L618.5,620.3 L620.5,615.9 L622.5,611.5 L624.5,607.2 L626.5,602.9 L628.5,598.6 L630.5,594.3 L632.5,590.1 L634.5,586.0 L636.6,581.8 L638.6,577.7 L640.6,573.6 L642.6,569.6 L644.6,565.6 L646.6,561.7 L648.6,557.7 L650.6,553.9 L652.6,550.0 L654.6,546.2 L656.6,542.5 L658.6,538.8 L660.6,535.1 L662.6,531.5 L664.6,527.9 L666.6,524.4 L668.7,520.9 L670.7,517.5 L672.7,514.1 L674.7,510.8 L676.7,507.5 L678.7,504.3 L680.7,501.1 L682.7,498.0 L684.7,495.0 L686.7,491.9 L688.7,489.0 L690.7,486.1 L692.7,483.3 L694.7,480.5 L696.7,477.8 L698.7,475.1 L700.8,472.5 L702.8,470.0 L704.8,467.5 L706.8,465.1 L708.8,462.8 L710.8,460.5 L712.8,458.3 L714.8,456.1 L716.8,454.1 L718.8,452.1 L720.8,450.1 L722.8,448.3 L724.8,446.5 L726.8,444.7 L728.8,443.1 L730.8,441.5 L732.9,440.0 L734.9,438.6 L736.9,437.2 L738.9,436.0 L740.9,434.8 L742.9,433.7 L744.9,432.6 L746.9,431.7 L748.9,430.8 L750.9,430.0 L752.9,429.3 L754.9,428.7 L756.9,428.1 L758.9,428.0 L760.9,428.0 L762.9,428.0 L765.0,428.0 L767.0,428.0 L769.0,428.0 L771.0,428.0 L773.0,428.0 L775.0,428.0 L777.0,428.0 L779.0,428.0" fill="none" stroke="#e8a223" stroke-width="3.5" stroke-linejoin="round"/>
<path d="M460.0,987.0 L462.0,979.9 L464.0,972.8 L466.0,965.7 L468.0,958.6 L470.0,951.5 L472.0,944.4 L474.0,937.4 L476.1,930.3 L478.1,923.2 L480.1,916.2 L482.1,909.1 L484.1,902.1 L486.1,895.1 L488.1,888.0 L490.1,881.0 L492.1,874.1 L494.1,867.1 L496.1,860.1 L498.1,853.2 L500.1,846.3 L502.1,839.3 L504.1,832.5 L506.1,825.6 L508.2,818.7 L510.2,811.9 L512.2,805.1 L514.2,798.3 L516.2,791.6 L518.2,784.8 L520.2,778.1 L522.2,771.4 L524.2,764.8 L526.2,758.1 L528.2,751.5 L530.2,744.9 L532.2,738.4 L534.2,731.9 L536.2,725.4 L538.2,719.0 L540.3,712.5 L542.3,706.2 L544.3,699.8 L546.3,693.5 L548.3,687.2 L550.3,681.0 L552.3,674.8 L554.3,668.6 L556.3,662.5 L558.3,656.4 L560.3,650.4 L562.3,644.4 L564.3,638.5 L566.3,632.6 L568.3,626.7 L570.3,620.9 L572.4,615.1 L574.4,609.4 L576.4,603.7 L578.4,598.1 L580.4,592.5 L582.4,587.0 L584.4,581.5 L586.4,576.1 L588.4,570.8 L590.4,565.4 L592.4,560.2 L594.4,555.0 L596.4,549.9 L598.4,544.8 L600.4,539.7 L602.4,534.8 L604.5,529.9 L606.5,525.0 L608.5,520.2 L610.5,515.5 L612.5,510.9 L614.5,506.3 L616.5,501.7 L618.5,497.3 L620.5,492.9 L622.5,488.6 L624.5,484.3 L626.5,480.1 L628.5,476.0 L630.5,471.9 L632.5,468.0 L634.5,464.1 L636.6,460.2 L638.6,456.5 L640.6,452.8 L642.6,449.2 L644.6,445.7 L646.6,442.2 L648.6,438.8 L650.6,435.6 L652.6,432.3 L654.6,429.2 L656.6,428.0 L658.6,428.0 L660.6,428.0 L662.6,428.0 L664.6,428.0 L666.6,428.0 L668.7,428.0 L670.7,428.0 L672.7,428.0 L674.7,428.0 L676.7,428.0 L678.7,428.0 L680.7,428.0 L682.7,428.0 L684.7,428.0 L686.7,428.0 L688.7,428.0 L690.7,428.0 L692.7,428.0 L694.7,428.0 L696.7,428.0 L698.7,428.0 L700.8,428.0 L702.8,428.0 L704.8,428.0 L706.8,428.0 L708.8,428.0 L710.8,428.0 L712.8,428.0 L714.8,428.0 L716.8,428.0 L718.8,428.0 L720.8,428.0 L722.8,428.0 L724.8,428.0 L726.8,428.0 L728.8,428.0 L730.8,428.0 L732.9,428.0 L734.9,428.0 L736.9,428.0 L738.9,428.0 L740.9,428.0 L742.9,428.0 L744.9,428.0 L746.9,428.0 L748.9,428.0 L750.9,428.0 L752.9,428.0 L754.9,428.0 L756.9,428.0 L758.9,428.0 L760.9,428.0 L762.9,428.0 L765.0,428.0 L767.0,428.0 L769.0,428.0 L771.0,428.0 L773.0,428.0 L775.0,428.0 L777.0,428.0 L779.0,428.0" fill="none" stroke="#e8a223" stroke-width="3.5" stroke-linejoin="round"/>
<path d="M460.0,987.0 L462.0,985.7 L464.0,984.3 L466.0,982.9 L468.0,981.5 L470.0,980.1 L472.0,978.6 L474.0,977.2 L476.1,975.7 L478.1,974.2 L480.1,972.7 L482.1,971.1 L484.1,969.6 L486.1,968.0 L488.1,966.4 L490.1,964.8 L492.1,963.1 L494.1,961.5 L496.1,959.8 L498.1,958.1 L500.1,956.3 L502.1,954.6 L504.1,952.8 L506.1,951.0 L508.2,949.2 L510.2,947.4 L512.2,945.5 L514.2,943.6 L516.2,941.7 L518.2,939.8 L520.2,937.8 L522.2,935.8 L524.2,933.8 L526.2,931.8 L528.2,929.7 L530.2,927.7 L532.2,925.6 L534.2,923.4 L536.2,921.3 L538.2,919.1 L540.3,916.9 L542.3,914.7 L544.3,912.4 L546.3,910.2 L548.3,907.9 L550.3,905.5 L552.3,903.2 L554.3,900.8 L556.3,898.4 L558.3,896.0 L560.3,893.5 L562.3,891.0 L564.3,888.5 L566.3,886.0 L568.3,883.4 L570.3,880.8 L572.4,878.2 L574.4,875.5 L576.4,872.8 L578.4,870.1 L580.4,867.4 L582.4,864.6 L584.4,861.8 L586.4,859.0 L588.4,856.2 L590.4,853.3 L592.4,850.4 L594.4,847.4 L596.4,844.5 L598.4,841.5 L600.4,838.4 L602.4,835.4 L604.5,832.3 L606.5,829.2 L608.5,826.0 L610.5,822.8 L612.5,819.6 L614.5,816.4 L616.5,813.1 L618.5,809.8 L620.5,806.4 L622.5,803.1 L624.5,799.7 L626.5,796.2 L628.5,792.8 L630.5,789.3 L632.5,785.7 L634.5,782.2 L636.6,778.6 L638.6,774.9 L640.6,771.3 L642.6,767.6 L644.6,763.8 L646.6,760.1 L648.6,756.3 L650.6,752.4 L652.6,748.6 L654.6,744.6 L656.6,740.7 L658.6,736.7 L660.6,732.7 L662.6,728.7 L664.6,724.6 L666.6,720.5 L668.7,716.3 L670.7,712.1 L672.7,707.9 L674.7,703.7 L676.7,699.4 L678.7,695.0 L680.7,690.7 L682.7,686.2 L684.7,681.8 L686.7,677.3 L688.7,672.8 L690.7,668.2 L692.7,663.7 L694.7,659.0 L696.7,654.3 L698.7,649.6 L700.8,644.9 L702.8,640.1 L704.8,635.3 L706.8,630.4 L708.8,625.5 L710.8,620.6 L712.8,615.6 L714.8,610.6 L716.8,605.5 L718.8,600.4 L720.8,595.3 L722.8,590.1 L724.8,584.9 L726.8,579.6 L728.8,574.3 L730.8,569.0 L732.9,563.6 L734.9,558.1 L736.9,552.7 L738.9,547.2 L740.9,541.6 L742.9,536.0 L744.9,530.4 L746.9,524.7 L748.9,519.0 L750.9,513.2 L752.9,507.4 L754.9,501.6 L756.9,495.7 L758.9,489.8 L760.9,483.8 L762.9,477.8 L765.0,471.7 L767.0,465.6 L769.0,459.4 L771.0,453.2 L773.0,447.0 L775.0,440.7 L777.0,434.4 L779.0,428.0" fill="none" stroke="#e8a223" stroke-width="3.5" stroke-linejoin="round"/>
<path d="M460.0,987.0 L462.0,982.3 L464.0,977.5 L466.0,972.8 L468.0,968.0 L470.0,963.2 L472.0,958.4 L474.0,953.5 L476.1,948.7 L478.1,943.8 L480.1,938.9 L482.1,934.0 L484.1,929.1 L486.1,924.1 L488.1,919.2 L490.1,914.2 L492.1,909.3 L494.1,904.3 L496.1,899.3 L498.1,894.3 L500.1,889.3 L502.1,884.3 L504.1,879.2 L506.1,874.2 L508.2,869.2 L510.2,864.1 L512.2,859.1 L514.2,854.0 L516.2,849.0 L518.2,843.9 L520.2,838.9 L522.2,833.8 L524.2,828.8 L526.2,823.7 L528.2,818.6 L530.2,813.6 L532.2,808.5 L534.2,803.5 L536.2,798.4 L538.2,793.4 L540.3,788.3 L542.3,783.3 L544.3,778.3 L546.3,773.3 L548.3,768.3 L550.3,763.3 L552.3,758.3 L554.3,753.3 L556.3,748.3 L558.3,743.4 L560.3,738.4 L562.3,733.5 L564.3,728.6 L566.3,723.6 L568.3,718.8 L570.3,713.9 L572.4,709.0 L574.4,704.2 L576.4,699.4 L578.4,694.6 L580.4,689.8 L582.4,685.0 L584.4,680.3 L586.4,675.5 L588.4,670.8 L590.4,666.2 L592.4,661.5 L594.4,656.9 L596.4,652.3 L598.4,647.7 L600.4,643.1 L602.4,638.6 L604.5,634.1 L606.5,629.6 L608.5,625.2 L610.5,620.8 L612.5,616.4 L614.5,612.0 L616.5,607.7 L618.5,603.4 L620.5,599.2 L622.5,594.9 L624.5,590.8 L626.5,586.6 L628.5,582.5 L630.5,578.4 L632.5,574.4 L634.5,570.4 L636.6,566.4 L638.6,562.5 L640.6,558.6 L642.6,554.8 L644.6,551.0 L646.6,547.2 L648.6,543.5 L650.6,539.8 L652.6,536.2 L654.6,532.6 L656.6,529.1 L658.6,525.6 L660.6,522.2 L662.6,518.8 L664.6,515.4 L666.6,512.1 L668.7,508.9 L670.7,505.7 L672.7,502.5 L674.7,499.4 L676.7,496.4 L678.7,493.4 L680.7,490.5 L682.7,487.6 L684.7,484.8 L686.7,482.0 L688.7,479.3 L690.7,476.7 L692.7,474.1 L694.7,471.6 L696.7,469.1 L698.7,466.7 L700.8,464.3 L702.8,462.0 L704.8,459.8 L706.8,457.7 L708.8,455.6 L710.8,453.5 L712.8,451.6 L714.8,449.7 L716.8,447.8 L718.8,446.1 L720.8,444.4 L722.8,442.7 L724.8,441.2 L726.8,439.7 L728.8,438.3 L730.8,436.9 L732.9,435.7 L734.9,434.5 L736.9,433.3 L738.9,432.3 L740.9,431.3 L742.9,430.4 L744.9,429.6 L746.9,428.8 L748.9,428.2 L750.9,428.0 L752.9,428.0 L754.9,428.0 L756.9,428.0 L758.9,428.0 L760.9,428.0 L762.9,428.0 L765.0,428.0 L767.0,428.0 L769.0,428.0 L771.0,428.0 L773.0,428.0 L775.0,428.0 L777.0,428.0 L779.0,428.0" fill="none" stroke="#e8a223" stroke-width="3.5" stroke-linejoin="round"/>
<path d="M460.0,987.0 L462.0,980.1 L464.0,973.2 L466.0,966.3 L468.0,959.4 L470.0,952.5 L472.0,945.7 L474.0,938.8 L476.1,931.9 L478.1,925.0 L480.1,918.1 L482.1,911.3 L484.1,904.4 L486.1,897.6 L488.1,890.7 L490.1,883.9 L492.1,877.1 L494.1,870.3 L496.1,863.5 L498.1,856.7 L500.1,849.9 L502.1,843.2 L504.1,836.5 L506.1,829.7 L508.2,823.0 L510.2,816.3 L512.2,809.7 L514.2,803.0 L516.2,796.4 L518.2,789.8 L520.2,783.2 L522.2,776.7 L524.2,770.1 L526.2,763.6 L528.2,757.2 L530.2,750.7 L532.2,744.3 L534.2,737.9 L536.2,731.5 L538.2,725.2 L540.3,718.9 L542.3,712.6 L544.3,706.3 L546.3,700.1 L548.3,693.9 L550.3,687.8 L552.3,681.7 L554.3,675.6 L556.3,669.6 L558.3,663.6 L560.3,657.6 L562.3,651.7 L564.3,645.8 L566.3,640.0 L568.3,634.2 L570.3,628.5 L572.4,622.8 L574.4,617.1 L576.4,611.5 L578.4,605.9 L580.4,600.4 L582.4,594.9 L584.4,589.5 L586.4,584.1 L588.4,578.8 L590.4,573.6 L592.4,568.3 L594.4,563.2 L596.4,558.1 L598.4,553.0 L600.4,548.0 L602.4,543.1 L604.5,538.2 L606.5,533.4 L608.5,528.6 L610.5,523.9 L612.5,519.2 L614.5,514.7 L616.5,510.1 L618.5,505.7 L620.5,501.3 L622.5,496.9 L624.5,492.7 L626.5,488.5 L628.5,484.4 L630.5,480.3 L632.5,476.3 L634.5,472.4 L636.6,468.5 L638.6,464.7 L640.6,461.0 L642.6,457.4 L644.6,453.8 L646.6,450.4 L648.6,447.0 L650.6,443.6 L652.6,440.4 L654.6,437.2 L656.6,434.1 L658.6,431.1 L660.6,428.1 L662.6,428.0 L664.6,428.0 L666.6,428.0 L668.7,428.0 L670.7,428.0 L672.7,428.0 L674.7,428.0 L676.7,428.0 L678.7,428.0 L680.7,428.0 L682.7,428.0 L684.7,428.0 L686.7,428.0 L688.7,428.0 L690.7,428.0 L692.7,428.0 L694.7,428.0 L696.7,428.0 L698.7,428.0 L700.8,428.0 L702.8,428.0 L704.8,428.0 L706.8,428.0 L708.8,428.0 L710.8,428.0 L712.8,428.0 L714.8,428.0 L716.8,428.0 L718.8,428.0 L720.8,428.0 L722.8,428.0 L724.8,428.0 L726.8,428.0 L728.8,428.0 L730.8,428.0 L732.9,428.0 L734.9,428.0 L736.9,428.0 L738.9,428.0 L740.9,428.0 L742.9,428.0 L744.9,428.0 L746.9,428.0 L748.9,428.0 L750.9,428.0 L752.9,428.0 L754.9,428.0 L756.9,428.0 L758.9,428.0 L760.9,428.0 L762.9,428.0 L765.0,428.0 L767.0,428.0 L769.0,428.0 L771.0,428.0 L773.0,428.0 L775.0,428.0 L777.0,428.0 L779.0,428.0" fill="none" stroke="#e8a223" stroke-width="3.5" stroke-linejoin="round"/>
<path d="M460.0,987.0 L462.0,980.4 L464.0,973.8 L466.0,967.2 L468.0,960.6 L470.0,954.0 L472.0,947.5 L474.0,940.9 L476.1,934.3 L478.1,927.8 L480.1,921.3 L482.1,914.8 L484.1,908.3 L486.1,901.8 L488.1,895.3 L490.1,888.8 L492.1,882.4 L494.1,875.9 L496.1,869.5 L498.1,863.1 L500.1,856.7 L502.1,850.3 L504.1,844.0 L506.1,837.7 L508.2,831.4 L510.2,825.1 L512.2,818.8 L514.2,812.6 L516.2,806.3 L518.2,800.1 L520.2,794.0 L522.2,787.8 L524.2,781.7 L526.2,775.6 L528.2,769.5 L530.2,763.4 L532.2,757.4 L534.2,751.4 L536.2,745.5 L538.2,739.5 L540.3,733.6 L542.3,727.8 L544.3,721.9 L546.3,716.1 L548.3,710.3 L550.3,704.6 L552.3,698.9 L554.3,693.2 L556.3,687.5 L558.3,681.9 L560.3,676.4 L562.3,670.8 L564.3,665.3 L566.3,659.9 L568.3,654.5 L570.3,649.1 L572.4,643.7 L574.4,638.4 L576.4,633.2 L578.4,628.0 L580.4,622.8 L582.4,617.7 L584.4,612.6 L586.4,607.6 L588.4,602.6 L590.4,597.6 L592.4,592.7 L594.4,587.9 L596.4,583.1 L598.4,578.3 L600.4,573.6 L602.4,568.9 L604.5,564.3 L606.5,559.8 L608.5,555.3 L610.5,550.8 L612.5,546.4 L614.5,542.0 L616.5,537.8 L618.5,533.5 L620.5,529.3 L622.5,525.2 L624.5,521.1 L626.5,517.1 L628.5,513.2 L630.5,509.3 L632.5,505.4 L634.5,501.6 L636.6,497.9 L638.6,494.3 L640.6,490.7 L642.6,487.1 L644.6,483.7 L646.6,480.3 L648.6,476.9 L650.6,473.7 L652.6,470.4 L654.6,467.3 L656.6,464.2 L658.6,461.2 L660.6,458.3 L662.6,455.4 L664.6,452.6 L666.6,449.9 L668.7,447.2 L670.7,444.6 L672.7,442.1 L674.7,439.6 L676.7,437.3 L678.7,435.0 L680.7,432.7 L682.7,430.6 L684.7,428.5 L686.7,428.0 L688.7,428.0 L690.7,428.0 L692.7,428.0 L694.7,428.0 L696.7,428.0 L698.7,428.0 L700.8,428.0 L702.8,428.0 L704.8,428.0 L706.8,428.0 L708.8,428.0 L710.8,428.0 L712.8,428.0 L714.8,428.0 L716.8,428.0 L718.8,428.0 L720.8,428.0 L722.8,428.0 L724.8,428.0 L726.8,428.0 L728.8,428.0 L730.8,428.0 L732.9,428.0 L734.9,428.0 L736.9,428.0 L738.9,428.0 L740.9,428.0 L742.9,428.0 L744.9,428.0 L746.9,428.0 L748.9,428.0 L750.9,428.0 L752.9,428.0 L754.9,428.0 L756.9,428.0 L758.9,428.0 L760.9,428.0 L762.9,428.0 L765.0,428.0 L767.0,428.0 L769.0,428.0 L771.0,428.0 L773.0,428.0 L775.0,428.0 L777.0,428.0 L779.0,428.0" fill="none" stroke="#e8a223" stroke-width="3.5" stroke-linejoin="round"/>
<path d="M460.0,987.0 L462.0,985.9 L464.0,984.7 L466.0,983.5 L468.0,982.3 L470.0,981.1 L472.0,979.9 L474.0,978.6 L476.1,977.3 L478.1,976.0 L480.1,974.7 L482.1,973.3 L484.1,971.9 L486.1,970.5 L488.1,969.1 L490.1,967.6 L492.1,966.2 L494.1,964.7 L496.1,963.1 L498.1,961.6 L500.1,960.0 L502.1,958.4 L504.1,956.8 L506.1,955.2 L508.2,953.5 L510.2,951.8 L512.2,950.1 L514.2,948.3 L516.2,946.6 L518.2,944.8 L520.2,942.9 L522.2,941.1 L524.2,939.2 L526.2,937.3 L528.2,935.4 L530.2,933.4 L532.2,931.4 L534.2,929.4 L536.2,927.4 L538.2,925.3 L540.3,923.2 L542.3,921.1 L544.3,919.0 L546.3,916.8 L548.3,914.6 L550.3,912.3 L552.3,910.1 L554.3,907.8 L556.3,905.5 L558.3,903.1 L560.3,900.7 L562.3,898.3 L564.3,895.9 L566.3,893.4 L568.3,890.9 L570.3,888.4 L572.4,885.8 L574.4,883.2 L576.4,880.6 L578.4,878.0 L580.4,875.3 L582.4,872.6 L584.4,869.8 L586.4,867.0 L588.4,864.2 L590.4,861.4 L592.4,858.5 L594.4,855.6 L596.4,852.7 L598.4,849.7 L600.4,846.7 L602.4,843.7 L604.5,840.6 L606.5,837.5 L608.5,834.4 L610.5,831.2 L612.5,828.0 L614.5,824.7 L616.5,821.5 L618.5,818.2 L620.5,814.8 L622.5,811.5 L624.5,808.0 L626.5,804.6 L628.5,801.1 L630.5,797.6 L632.5,794.1 L634.5,790.5 L636.6,786.9 L638.6,783.2 L640.6,779.5 L642.6,775.8 L644.6,772.0 L646.6,768.2 L648.6,764.4 L650.6,760.5 L652.6,756.6 L654.6,752.6 L656.6,748.6 L658.6,744.6 L660.6,740.5 L662.6,736.4 L664.6,732.3 L666.6,728.1 L668.7,723.9 L670.7,719.7 L672.7,715.4 L674.7,711.0 L676.7,706.7 L678.7,702.3 L680.7,697.8 L682.7,693.3 L684.7,688.8 L686.7,684.2 L688.7,679.6 L690.7,675.0 L692.7,670.3 L694.7,665.5 L696.7,660.8 L698.7,656.0 L700.8,651.1 L702.8,646.2 L704.8,641.3 L706.8,636.3 L708.8,631.3 L710.8,626.2 L712.8,621.1 L714.8,616.0 L716.8,610.8 L718.8,605.5 L720.8,600.3 L722.8,595.0 L724.8,589.6 L726.8,584.2 L728.8,578.7 L730.8,573.3 L732.9,567.7 L734.9,562.1 L736.9,556.5 L738.9,550.9 L740.9,545.2 L742.9,539.4 L744.9,533.6 L746.9,527.8 L748.9,521.9 L750.9,515.9 L752.9,509.9 L754.9,503.9 L756.9,497.9 L758.9,491.7 L760.9,485.6 L762.9,479.4 L765.0,473.1 L767.0,466.8 L769.0,460.5 L771.0,454.1 L773.0,447.6 L775.0,441.1 L777.0,434.6 L779.0,428.0" fill="none" stroke="#e8a223" stroke-width="3.5" stroke-linejoin="round"/>
<path d="M460.0,987.0 L462.0,981.3 L464.0,975.6 L466.0,969.8 L468.0,964.1 L470.0,958.3 L472.0,952.6 L474.0,946.8 L476.1,941.0 L478.1,935.2 L480.1,929.3 L482.1,923.5 L484.1,917.7 L486.1,911.8 L488.1,906.0 L490.1,900.1 L492.1,894.3 L494.1,888.4 L496.1,882.6 L498.1,876.7 L500.1,870.8 L502.1,865.0 L504.1,859.1 L506.1,853.3 L508.2,847.4 L510.2,841.5 L512.2,835.7 L514.2,829.8 L516.2,824.0 L518.2,818.2 L520.2,812.3 L522.2,806.5 L524.2,800.7 L526.2,794.9 L528.2,789.1 L530.2,783.3 L532.2,777.6 L534.2,771.8 L536.2,766.1 L538.2,760.3 L540.3,754.6 L542.3,748.9 L544.3,743.3 L546.3,737.6 L548.3,732.0 L550.3,726.4 L552.3,720.8 L554.3,715.2 L556.3,709.6 L558.3,704.1 L560.3,698.6 L562.3,693.1 L564.3,687.7 L566.3,682.2 L568.3,676.8 L570.3,671.5 L572.4,666.1 L574.4,660.8 L576.4,655.5 L578.4,650.3 L580.4,645.1 L582.4,639.9 L584.4,634.7 L586.4,629.6 L588.4,624.5 L590.4,619.5 L592.4,614.5 L594.4,609.5 L596.4,604.6 L598.4,599.7 L600.4,594.8 L602.4,590.0 L604.5,585.3 L606.5,580.6 L608.5,575.9 L610.5,571.2 L612.5,566.7 L614.5,562.1 L616.5,557.6 L618.5,553.2 L620.5,548.8 L622.5,544.4 L624.5,540.2 L626.5,535.9 L628.5,531.7 L630.5,527.6 L632.5,523.5 L634.5,519.5 L636.6,515.5 L638.6,511.6 L640.6,507.7 L642.6,503.9 L644.6,500.2 L646.6,496.5 L648.6,492.9 L650.6,489.3 L652.6,485.8 L654.6,482.4 L656.6,479.0 L658.6,475.7 L660.6,472.5 L662.6,469.3 L664.6,466.2 L666.6,463.2 L668.7,460.2 L670.7,457.3 L672.7,454.5 L674.7,451.7 L676.7,449.1 L678.7,446.5 L680.7,443.9 L682.7,441.5 L684.7,439.1 L686.7,436.8 L688.7,434.6 L690.7,432.4 L692.7,430.3 L694.7,428.3 L696.7,428.0 L698.7,428.0 L700.8,428.0 L702.8,428.0 L704.8,428.0 L706.8,428.0 L708.8,428.0 L710.8,428.0 L712.8,428.0 L714.8,428.0 L716.8,428.0 L718.8,428.0 L720.8,428.0 L722.8,428.0 L724.8,428.0 L726.8,428.0 L728.8,428.0 L730.8,428.0 L732.9,428.0 L734.9,428.0 L736.9,428.0 L738.9,428.0 L740.9,428.0 L742.9,428.0 L744.9,428.0 L746.9,428.0 L748.9,428.0 L750.9,428.0 L752.9,428.0 L754.9,428.0 L756.9,428.0 L758.9,428.0 L760.9,428.0 L762.9,428.0 L765.0,428.0 L767.0,428.0 L769.0,428.0 L771.0,428.0 L773.0,428.0 L775.0,428.0 L777.0,428.0 L779.0,428.0" fill="none" stroke="#e8a223" stroke-width="3.5" stroke-linejoin="round"/>
<path d="M460.0,987.0 L462.0,987.0 L464.0,987.0 L466.0,987.0 L468.0,987.0 L470.0,987.0 L472.0,987.0 L474.0,987.0 L476.1,987.0 L478.1,987.0 L480.1,987.0 L482.1,987.0 L484.1,987.0 L486.1,987.0 L488.1,987.0 L490.1,987.0 L492.1,987.0 L494.1,987.0 L496.1,986.8 L498.1,986.4 L500.1,985.8 L502.1,985.3 L504.1,984.7 L506.1,984.0 L508.2,983.3 L510.2,982.5 L512.2,981.7 L514.2,980.9 L516.2,980.0 L518.2,979.0 L520.2,978.0 L522.2,977.0 L524.2,975.9 L526.2,974.7 L528.2,973.5 L530.2,972.3 L532.2,971.0 L534.2,969.6 L536.2,968.2 L538.2,966.8 L540.3,965.3 L542.3,963.8 L544.3,962.2 L546.3,960.5 L548.3,958.9 L550.3,957.1 L552.3,955.3 L554.3,953.5 L556.3,951.6 L558.3,949.7 L560.3,947.7 L562.3,945.7 L564.3,943.6 L566.3,941.5 L568.3,939.3 L570.3,937.0 L572.4,934.8 L574.4,932.4 L576.4,930.1 L578.4,927.6 L580.4,925.1 L582.4,922.6 L584.4,920.0 L586.4,917.4 L588.4,914.7 L590.4,912.0 L592.4,909.2 L594.4,906.4 L596.4,903.5 L598.4,900.6 L600.4,897.6 L602.4,894.6 L604.5,891.5 L606.5,888.4 L608.5,885.2 L610.5,882.0 L612.5,878.7 L614.5,875.4 L616.5,872.0 L618.5,868.5 L620.5,865.1 L622.5,861.5 L624.5,858.0 L626.5,854.3 L628.5,850.6 L630.5,846.9 L632.5,843.1 L634.5,839.3 L636.6,835.4 L638.6,831.5 L640.6,827.5 L642.6,823.4 L644.6,819.4 L646.6,815.2 L648.6,811.0 L650.6,806.8 L652.6,802.5 L654.6,798.2 L656.6,793.8 L658.6,789.3 L660.6,784.8 L662.6,780.3 L664.6,775.7 L666.6,771.0 L668.7,766.3 L670.7,761.6 L672.7,756.8 L674.7,751.9 L676.7,747.0 L678.7,742.1 L680.7,737.1 L682.7,732.0 L684.7,726.9 L686.7,721.7 L688.7,716.5 L690.7,711.2 L692.7,705.9 L694.7,700.6 L696.7,695.1 L698.7,689.7 L700.8,684.1 L702.8,678.6 L704.8,672.9 L706.8,667.3 L708.8,661.5 L710.8,655.7 L712.8,649.9 L714.8,644.0 L716.8,638.1 L718.8,632.1 L720.8,626.0 L722.8,620.0 L724.8,613.8 L726.8,607.6 L728.8,601.4 L730.8,595.0 L732.9,588.7 L734.9,582.3 L736.9,575.8 L738.9,569.3 L740.9,562.7 L742.9,556.1 L744.9,549.5 L746.9,542.7 L748.9,536.0 L750.9,529.1 L752.9,522.2 L754.9,515.3 L756.9,508.3 L758.9,501.3 L760.9,494.2 L762.9,487.1 L765.0,479.9 L767.0,472.6 L769.0,465.3 L771.0,458.0 L773.0,450.5 L775.0,443.1 L777.0,435.6 L779.0,428.0" fill="none" stroke="#e8a223" stroke-width="3.5" stroke-linejoin="round"/>
<path d="M460.0,987.0 L462.0,987.0 L464.0,987.0 L466.0,987.0 L468.0,987.0 L470.0,987.0 L472.0,987.0 L474.0,987.0 L476.1,987.0 L478.1,987.0 L480.1,987.0 L482.1,987.0 L484.1,987.0 L486.1,987.0 L488.1,987.0 L490.1,987.0 L492.1,987.0 L494.1,987.0 L496.1,987.0 L498.1,987.0 L500.1,987.0 L502.1,987.0 L504.1,987.0 L506.1,987.0 L508.2,987.0 L510.2,987.0 L512.2,987.0 L514.2,987.0 L516.2,987.0 L518.2,987.0 L520.2,987.0 L522.2,987.0 L524.2,987.0 L526.2,987.0 L528.2,987.0 L530.2,987.0 L532.2,987.0 L534.2,987.0 L536.2,987.0 L538.2,987.0 L540.3,986.5 L542.3,985.8 L544.3,985.0 L546.3,984.2 L548.3,983.4 L550.3,982.5 L552.3,981.6 L554.3,980.6 L556.3,979.6 L558.3,978.5 L560.3,977.4 L562.3,976.2 L564.3,975.0 L566.3,973.7 L568.3,972.4 L570.3,971.1 L572.4,969.7 L574.4,968.2 L576.4,966.7 L578.4,965.1 L580.4,963.5 L582.4,961.8 L584.4,960.0 L586.4,958.2 L588.4,956.4 L590.4,954.5 L592.4,952.5 L594.4,950.5 L596.4,948.4 L598.4,946.2 L600.4,944.0 L602.4,941.8 L604.5,939.4 L606.5,937.0 L608.5,934.6 L610.5,932.1 L612.5,929.5 L614.5,926.8 L616.5,924.1 L618.5,921.3 L620.5,918.5 L622.5,915.6 L624.5,912.6 L626.5,909.5 L628.5,906.4 L630.5,903.2 L632.5,900.0 L634.5,896.6 L636.6,893.2 L638.6,889.7 L640.6,886.2 L642.6,882.6 L644.6,878.9 L646.6,875.1 L648.6,871.2 L650.6,867.3 L652.6,863.3 L654.6,859.2 L656.6,855.1 L658.6,850.8 L660.6,846.5 L662.6,842.1 L664.6,837.6 L666.6,833.1 L668.7,828.4 L670.7,823.7 L672.7,818.9 L674.7,814.0 L676.7,809.0 L678.7,803.9 L680.7,798.8 L682.7,793.6 L684.7,788.2 L686.7,782.8 L688.7,777.3 L690.7,771.7 L692.7,766.1 L694.7,760.3 L696.7,754.4 L698.7,748.5 L700.8,742.4 L702.8,736.3 L704.8,730.1 L706.8,723.7 L708.8,717.3 L710.8,710.8 L712.8,704.2 L714.8,697.5 L716.8,690.7 L718.8,683.8 L720.8,676.8 L722.8,669.7 L724.8,662.5 L726.8,655.2 L728.8,647.8 L730.8,640.3 L732.9,632.7 L734.9,625.0 L736.9,617.1 L738.9,609.2 L740.9,601.2 L742.9,593.1 L744.9,584.8 L746.9,576.5 L748.9,568.1 L750.9,559.5 L752.9,550.8 L754.9,542.1 L756.9,533.2 L758.9,524.2 L760.9,515.1 L762.9,505.9 L765.0,496.5 L767.0,487.1 L769.0,477.5 L771.0,467.8 L773.0,458.1 L775.0,448.2 L777.0,438.1 L779.0,428.0" fill="none" stroke="#e8a223" stroke-width="3.5" stroke-linejoin="round"/>
<path d="M460.0,987.0 L462.0,980.3 L464.0,973.5 L466.0,966.8 L468.0,960.0 L470.0,953.3 L472.0,946.6 L474.0,939.9 L476.1,933.2 L478.1,926.5 L480.1,919.8 L482.1,913.1 L484.1,906.5 L486.1,899.8 L488.1,893.2 L490.1,886.5 L492.1,879.9 L494.1,873.3 L496.1,866.8 L498.1,860.2 L500.1,853.6 L502.1,847.1 L504.1,840.6 L506.1,834.1 L508.2,827.6 L510.2,821.2 L512.2,814.7 L514.2,808.3 L516.2,801.9 L518.2,795.6 L520.2,789.2 L522.2,782.9 L524.2,776.6 L526.2,770.4 L528.2,764.1 L530.2,757.9 L532.2,751.7 L534.2,745.6 L536.2,739.5 L538.2,733.4 L540.3,727.3 L542.3,721.3 L544.3,715.3 L546.3,709.3 L548.3,703.4 L550.3,697.5 L552.3,691.6 L554.3,685.8 L556.3,680.0 L558.3,674.2 L560.3,668.5 L562.3,662.8 L564.3,657.2 L566.3,651.6 L568.3,646.0 L570.3,640.5 L572.4,635.1 L574.4,629.6 L576.4,624.2 L578.4,618.9 L580.4,613.6 L582.4,608.3 L584.4,603.1 L586.4,598.0 L588.4,592.9 L590.4,587.8 L592.4,582.8 L594.4,577.8 L596.4,572.9 L598.4,568.0 L600.4,563.2 L602.4,558.5 L604.5,553.8 L606.5,549.1 L608.5,544.5 L610.5,540.0 L612.5,535.5 L614.5,531.1 L616.5,526.7 L618.5,522.4 L620.5,518.1 L622.5,513.9 L624.5,509.8 L626.5,505.7 L628.5,501.7 L630.5,497.8 L632.5,493.9 L634.5,490.0 L636.6,486.3 L638.6,482.6 L640.6,479.0 L642.6,475.4 L644.6,471.9 L646.6,468.5 L648.6,465.1 L650.6,461.9 L652.6,458.6 L654.6,455.5 L656.6,452.4 L658.6,449.4 L660.6,446.5 L662.6,443.6 L664.6,440.8 L666.6,438.1 L668.7,435.5 L670.7,433.0 L672.7,430.5 L674.7,428.1 L676.7,428.0 L678.7,428.0 L680.7,428.0 L682.7,428.0 L684.7,428.0 L686.7,428.0 L688.7,428.0 L690.7,428.0 L692.7,428.0 L694.7,428.0 L696.7,428.0 L698.7,428.0 L700.8,428.0 L702.8,428.0 L704.8,428.0 L706.8,428.0 L708.8,428.0 L710.8,428.0 L712.8,428.0 L714.8,428.0 L716.8,428.0 L718.8,428.0 L720.8,428.0 L722.8,428.0 L724.8,428.0 L726.8,428.0 L728.8,428.0 L730.8,428.0 L732.9,428.0 L734.9,428.0 L736.9,428.0 L738.9,428.0 L740.9,428.0 L742.9,428.0 L744.9,428.0 L746.9,428.0 L748.9,428.0 L750.9,428.0 L752.9,428.0 L754.9,428.0 L756.9,428.0 L758.9,428.0 L760.9,428.0 L762.9,428.0 L765.0,428.0 L767.0,428.0 L769.0,428.0 L771.0,428.0 L773.0,428.0 L775.0,428.0 L777.0,428.0 L779.0,428.0" fill="none" stroke="#e8a223" stroke-width="3.5" stroke-linejoin="round"/>
<path d="M460.0,987.0 L462.0,982.6 L464.0,978.2 L466.0,973.8 L468.0,969.4 L470.0,964.9 L472.0,960.4 L474.0,955.9 L476.1,951.3 L478.1,946.8 L480.1,942.2 L482.1,937.6 L484.1,933.0 L486.1,928.3 L488.1,923.7 L490.1,919.0 L492.1,914.3 L494.1,909.6 L496.1,904.9 L498.1,900.2 L500.1,895.4 L502.1,890.7 L504.1,885.9 L506.1,881.1 L508.2,876.3 L510.2,871.5 L512.2,866.7 L514.2,861.9 L516.2,857.1 L518.2,852.3 L520.2,847.4 L522.2,842.6 L524.2,837.7 L526.2,832.9 L528.2,828.0 L530.2,823.2 L532.2,818.3 L534.2,813.5 L536.2,808.6 L538.2,803.7 L540.3,798.9 L542.3,794.0 L544.3,789.2 L546.3,784.3 L548.3,779.4 L550.3,774.6 L552.3,769.8 L554.3,764.9 L556.3,760.1 L558.3,755.3 L560.3,750.5 L562.3,745.7 L564.3,740.9 L566.3,736.1 L568.3,731.3 L570.3,726.5 L572.4,721.8 L574.4,717.0 L576.4,712.3 L578.4,707.6 L580.4,702.9 L582.4,698.2 L584.4,693.6 L586.4,688.9 L588.4,684.3 L590.4,679.7 L592.4,675.1 L594.4,670.5 L596.4,665.9 L598.4,661.4 L600.4,656.9 L602.4,652.4 L604.5,647.9 L606.5,643.5 L608.5,639.1 L610.5,634.7 L612.5,630.3 L614.5,626.0 L616.5,621.7 L618.5,617.4 L620.5,613.1 L622.5,608.9 L624.5,604.7 L626.5,600.6 L628.5,596.4 L630.5,592.3 L632.5,588.3 L634.5,584.2 L636.6,580.2 L638.6,576.3 L640.6,572.3 L642.6,568.5 L644.6,564.6 L646.6,560.8 L648.6,557.0 L650.6,553.3 L652.6,549.6 L654.6,545.9 L656.6,542.3 L658.6,538.7 L660.6,535.2 L662.6,531.7 L664.6,528.3 L666.6,524.9 L668.7,521.5 L670.7,518.2 L672.7,515.0 L674.7,511.7 L676.7,508.6 L678.7,505.5 L680.7,502.4 L682.7,499.4 L684.7,496.4 L686.7,493.5 L688.7,490.7 L690.7,487.9 L692.7,485.1 L694.7,482.4 L696.7,479.8 L698.7,477.2 L700.8,474.7 L702.8,472.2 L704.8,469.8 L706.8,467.4 L708.8,465.2 L710.8,462.9 L712.8,460.8 L714.8,458.6 L716.8,456.6 L718.8,454.6 L720.8,452.7 L722.8,450.8 L724.8,449.1 L726.8,447.3 L728.8,445.7 L730.8,444.1 L732.9,442.6 L734.9,441.1 L736.9,439.7 L738.9,438.4 L740.9,437.2 L742.9,436.0 L744.9,434.9 L746.9,433.9 L748.9,432.9 L750.9,432.1 L752.9,431.3 L754.9,430.5 L756.9,429.9 L758.9,429.3 L760.9,428.8 L762.9,428.4 L765.0,428.1 L767.0,428.0 L769.0,428.0 L771.0,428.0 L773.0,428.0 L775.0,428.0 L777.0,428.0 L779.0,428.0" fill="none" stroke="#e8a223" stroke-width="3.5" stroke-linejoin="round"/>
<path d="M460.0,987.0 L462.0,986.9 L464.0,986.8 L466.0,986.6 L468.0,986.4 L470.0,986.1 L472.0,985.8 L474.0,985.4 L476.1,985.0 L478.1,984.5 L480.1,984.0 L482.1,983.5 L484.1,982.9 L486.1,982.3 L488.1,981.6 L490.1,980.9 L492.1,980.1 L494.1,979.3 L496.1,978.5 L498.1,977.6 L500.1,976.6 L502.1,975.6 L504.1,974.6 L506.1,973.5 L508.2,972.4 L510.2,971.2 L512.2,970.0 L514.2,968.8 L516.2,967.5 L518.2,966.1 L520.2,964.7 L522.2,963.3 L524.2,961.8 L526.2,960.3 L528.2,958.8 L530.2,957.1 L532.2,955.5 L534.2,953.8 L536.2,952.1 L538.2,950.3 L540.3,948.5 L542.3,946.6 L544.3,944.7 L546.3,942.7 L548.3,940.7 L550.3,938.7 L552.3,936.6 L554.3,934.5 L556.3,932.3 L558.3,930.1 L560.3,927.8 L562.3,925.5 L564.3,923.1 L566.3,920.7 L568.3,918.3 L570.3,915.8 L572.4,913.3 L574.4,910.7 L576.4,908.1 L578.4,905.5 L580.4,902.8 L582.4,900.1 L584.4,897.3 L586.4,894.4 L588.4,891.6 L590.4,888.7 L592.4,885.7 L594.4,882.7 L596.4,879.7 L598.4,876.6 L600.4,873.5 L602.4,870.3 L604.5,867.1 L606.5,863.8 L608.5,860.5 L610.5,857.2 L612.5,853.8 L614.5,850.4 L616.5,846.9 L618.5,843.4 L620.5,839.9 L622.5,836.3 L624.5,832.7 L626.5,829.0 L628.5,825.3 L630.5,821.5 L632.5,817.7 L634.5,813.8 L636.6,809.9 L638.6,806.0 L640.6,802.0 L642.6,798.0 L644.6,794.0 L646.6,789.9 L648.6,785.7 L650.6,781.5 L652.6,777.3 L654.6,773.0 L656.6,768.7 L658.6,764.4 L660.6,760.0 L662.6,755.6 L664.6,751.1 L666.6,746.6 L668.7,742.0 L670.7,737.4 L672.7,732.8 L674.7,728.1 L676.7,723.3 L678.7,718.6 L680.7,713.8 L682.7,708.9 L684.7,704.0 L686.7,699.1 L688.7,694.1 L690.7,689.1 L692.7,684.0 L694.7,678.9 L696.7,673.8 L698.7,668.6 L700.8,663.4 L702.8,658.1 L704.8,652.8 L706.8,647.5 L708.8,642.1 L710.8,636.7 L712.8,631.2 L714.8,625.7 L716.8,620.1 L718.8,614.6 L720.8,608.9 L722.8,603.3 L724.8,597.5 L726.8,591.8 L728.8,586.0 L730.8,580.2 L732.9,574.3 L734.9,568.4 L736.9,562.4 L738.9,556.4 L740.9,550.4 L742.9,544.3 L744.9,538.2 L746.9,532.0 L748.9,525.8 L750.9,519.6 L752.9,513.3 L754.9,507.0 L756.9,500.6 L758.9,494.2 L760.9,487.8 L762.9,481.3 L765.0,474.8 L767.0,468.2 L769.0,461.6 L771.0,455.0 L773.0,448.3 L775.0,441.6 L777.0,434.8 L779.0,428.0" fill="none" stroke="#e8a223" stroke-width="3.5" stroke-linejoin="round"/>
<path d="M460.0,987.0 L462.0,981.9 L464.0,976.7 L466.0,971.5 L468.0,966.2 L470.0,961.0 L472.0,955.7 L474.0,950.4 L476.1,945.0 L478.1,939.7 L480.1,934.3 L482.1,928.9 L484.1,923.5 L486.1,918.0 L488.1,912.5 L490.1,907.1 L492.1,901.6 L494.1,896.1 L496.1,890.5 L498.1,885.0 L500.1,879.4 L502.1,873.9 L504.1,868.3 L506.1,862.7 L508.2,857.1 L510.2,851.5 L512.2,845.9 L514.2,840.3 L516.2,834.7 L518.2,829.1 L520.2,823.4 L522.2,817.8 L524.2,812.2 L526.2,806.6 L528.2,800.9 L530.2,795.3 L532.2,789.7 L534.2,784.1 L536.2,778.4 L538.2,772.8 L540.3,767.2 L542.3,761.6 L544.3,756.1 L546.3,750.5 L548.3,744.9 L550.3,739.4 L552.3,733.8 L554.3,728.3 L556.3,722.8 L558.3,717.3 L560.3,711.8 L562.3,706.4 L564.3,700.9 L566.3,695.5 L568.3,690.1 L570.3,684.7 L572.4,679.3 L574.4,674.0 L576.4,668.7 L578.4,663.4 L580.4,658.1 L582.4,652.9 L584.4,647.7 L586.4,642.5 L588.4,637.4 L590.4,632.3 L592.4,627.2 L594.4,622.1 L596.4,617.1 L598.4,612.1 L600.4,607.2 L602.4,602.3 L604.5,597.4 L606.5,592.6 L608.5,587.8 L610.5,583.0 L612.5,578.3 L614.5,573.6 L616.5,569.0 L618.5,564.4 L620.5,559.9 L622.5,555.4 L624.5,551.0 L626.5,546.6 L628.5,542.2 L630.5,537.9 L632.5,533.7 L634.5,529.5 L636.6,525.4 L638.6,521.3 L640.6,517.3 L642.6,513.3 L644.6,509.4 L646.6,505.5 L648.6,501.7 L650.6,498.0 L652.6,494.3 L654.6,490.7 L656.6,487.1 L658.6,483.7 L660.6,480.2 L662.6,476.9 L664.6,473.6 L666.6,470.4 L668.7,467.2 L670.7,464.1 L672.7,461.1 L674.7,458.2 L676.7,455.3 L678.7,452.5 L680.7,449.8 L682.7,447.2 L684.7,444.6 L686.7,442.1 L688.7,439.7 L690.7,437.4 L692.7,435.1 L694.7,432.9 L696.7,430.8 L698.7,428.8 L700.8,428.0 L702.8,428.0 L704.8,428.0 L706.8,428.0 L708.8,428.0 L710.8,428.0 L712.8,428.0 L714.8,428.0 L716.8,428.0 L718.8,428.0 L720.8,428.0 L722.8,428.0 L724.8,428.0 L726.8,428.0 L728.8,428.0 L730.8,428.0 L732.9,428.0 L734.9,428.0 L736.9,428.0 L738.9,428.0 L740.9,428.0 L742.9,428.0 L744.9,428.0 L746.9,428.0 L748.9,428.0 L750.9,428.0 L752.9,428.0 L754.9,428.0 L756.9,428.0 L758.9,428.0 L760.9,428.0 L762.9,428.0 L765.0,428.0 L767.0,428.0 L769.0,428.0 L771.0,428.0 L773.0,428.0 L775.0,428.0 L777.0,428.0 L779.0,428.0" fill="none" stroke="#e8a223" stroke-width="3.5" stroke-linejoin="round"/>
<path d="M460.0,987.0 L462.0,979.5 L464.0,972.0 L466.0,964.5 L468.0,957.0 L470.0,949.6 L472.0,942.1 L474.0,934.7 L476.1,927.3 L478.1,919.9 L480.1,912.5 L482.1,905.2 L484.1,897.9 L486.1,890.6 L488.1,883.3 L490.1,876.0 L492.1,868.8 L494.1,861.6 L496.1,854.4 L498.1,847.2 L500.1,840.1 L502.1,833.0 L504.1,825.9 L506.1,818.9 L508.2,811.9 L510.2,804.9 L512.2,797.9 L514.2,791.0 L516.2,784.1 L518.2,777.2 L520.2,770.4 L522.2,763.6 L524.2,756.9 L526.2,750.1 L528.2,743.5 L530.2,736.8 L532.2,730.2 L534.2,723.6 L536.2,717.1 L538.2,710.6 L540.3,704.1 L542.3,697.7 L544.3,691.4 L546.3,685.0 L548.3,678.8 L550.3,672.5 L552.3,666.3 L554.3,660.2 L556.3,654.1 L558.3,648.0 L560.3,642.0 L562.3,636.0 L564.3,630.1 L566.3,624.3 L568.3,618.5 L570.3,612.7 L572.4,607.0 L574.4,601.3 L576.4,595.7 L578.4,590.2 L580.4,584.7 L582.4,579.3 L584.4,573.9 L586.4,568.5 L588.4,563.3 L590.4,558.1 L592.4,552.9 L594.4,547.8 L596.4,542.8 L598.4,537.8 L600.4,532.9 L602.4,528.1 L604.5,523.3 L606.5,518.6 L608.5,513.9 L610.5,509.3 L612.5,504.8 L614.5,500.3 L616.5,495.9 L618.5,491.6 L620.5,487.4 L622.5,483.2 L624.5,479.1 L626.5,475.0 L628.5,471.1 L630.5,467.2 L632.5,463.3 L634.5,459.6 L636.6,455.9 L638.6,452.3 L640.6,448.8 L642.6,445.3 L644.6,441.9 L646.6,438.6 L648.6,435.4 L650.6,432.3 L652.6,429.2 L654.6,428.0 L656.6,428.0 L658.6,428.0 L660.6,428.0 L662.6,428.0 L664.6,428.0 L666.6,428.0 L668.7,428.0 L670.7,428.0 L672.7,428.0 L674.7,428.0 L676.7,428.0 L678.7,428.0 L680.7,428.0 L682.7,428.0 L684.7,428.0 L686.7,428.0 L688.7,428.0 L690.7,428.0 L692.7,428.0 L694.7,428.0 L696.7,428.0 L698.7,428.0 L700.8,428.0 L702.8,428.0 L704.8,428.0 L706.8,428.0 L708.8,428.0 L710.8,428.0 L712.8,428.0 L714.8,428.0 L716.8,428.0 L718.8,428.0 L720.8,428.0 L722.8,428.0 L724.8,428.0 L726.8,428.0 L728.8,428.0 L730.8,428.0 L732.9,428.0 L734.9,428.0 L736.9,428.0 L738.9,428.0 L740.9,428.0 L742.9,428.0 L744.9,428.0 L746.9,428.0 L748.9,428.0 L750.9,428.0 L752.9,428.0 L754.9,428.0 L756.9,428.0 L758.9,428.0 L760.9,428.0 L762.9,428.0 L765.0,428.0 L767.0,428.0 L769.0,428.0 L771.0,428.0 L773.0,428.0 L775.0,428.0 L777.0,428.0 L779.0,428.0" fill="none" stroke="#e8a223" stroke-width="3.5" stroke-linejoin="round"/>
<path d="M460.0,987.0 L462.0,981.1 L464.0,975.2 L466.0,969.2 L468.0,963.3 L470.0,957.3 L472.0,951.3 L474.0,945.4 L476.1,939.4 L478.1,933.4 L480.1,927.4 L482.1,921.4 L484.1,915.3 L486.1,909.3 L488.1,903.3 L490.1,897.3 L492.1,891.3 L494.1,885.2 L496.1,879.2 L498.1,873.2 L500.1,867.2 L502.1,861.1 L504.1,855.1 L506.1,849.1 L508.2,843.1 L510.2,837.1 L512.2,831.1 L514.2,825.1 L516.2,819.1 L518.2,813.2 L520.2,807.2 L522.2,801.2 L524.2,795.3 L526.2,789.4 L528.2,783.5 L530.2,777.6 L532.2,771.7 L534.2,765.8 L536.2,760.0 L538.2,754.1 L540.3,748.3 L542.3,742.5 L544.3,736.8 L546.3,731.0 L548.3,725.3 L550.3,719.6 L552.3,713.9 L554.3,708.2 L556.3,702.6 L558.3,697.0 L560.3,691.4 L562.3,685.8 L564.3,680.3 L566.3,674.8 L568.3,669.3 L570.3,663.9 L572.4,658.5 L574.4,653.1 L576.4,647.8 L578.4,642.5 L580.4,637.2 L582.4,631.9 L584.4,626.7 L586.4,621.6 L588.4,616.5 L590.4,611.4 L592.4,606.3 L594.4,601.3 L596.4,596.4 L598.4,591.5 L600.4,586.6 L602.4,581.7 L604.5,577.0 L606.5,572.2 L608.5,567.5 L610.5,562.9 L612.5,558.3 L614.5,553.7 L616.5,549.2 L618.5,544.8 L620.5,540.4 L622.5,536.1 L624.5,531.8 L626.5,527.5 L628.5,523.4 L630.5,519.2 L632.5,515.2 L634.5,511.2 L636.6,507.2 L638.6,503.3 L640.6,499.5 L642.6,495.7 L644.6,492.0 L646.6,488.4 L648.6,484.8 L650.6,481.3 L652.6,477.8 L654.6,474.4 L656.6,471.1 L658.6,467.9 L660.6,464.7 L662.6,461.6 L664.6,458.5 L666.6,455.5 L668.7,452.6 L670.7,449.8 L672.7,447.0 L674.7,444.4 L676.7,441.8 L678.7,439.2 L680.7,436.8 L682.7,434.4 L684.7,432.1 L686.7,429.9 L688.7,428.0 L690.7,428.0 L692.7,428.0 L694.7,428.0 L696.7,428.0 L698.7,428.0 L700.8,428.0 L702.8,428.0 L704.8,428.0 L706.8,428.0 L708.8,428.0 L710.8,428.0 L712.8,428.0 L714.8,428.0 L716.8,428.0 L718.8,428.0 L720.8,428.0 L722.8,428.0 L724.8,428.0 L726.8,428.0 L728.8,428.0 L730.8,428.0 L732.9,428.0 L734.9,428.0 L736.9,428.0 L738.9,428.0 L740.9,428.0 L742.9,428.0 L744.9,428.0 L746.9,428.0 L748.9,428.0 L750.9,428.0 L752.9,428.0 L754.9,428.0 L756.9,428.0 L758.9,428.0 L760.9,428.0 L762.9,428.0 L765.0,428.0 L767.0,428.0 L769.0,428.0 L771.0,428.0 L773.0,428.0 L775.0,428.0 L777.0,428.0 L779.0,428.0" fill="none" stroke="#e8a223" stroke-width="3.5" stroke-linejoin="round"/>
<path d="M460.0,987.0 L462.0,987.0 L464.0,987.0 L466.0,987.0 L468.0,987.0 L470.0,987.0 L472.0,987.0 L474.0,987.0 L476.1,987.0 L478.1,987.0 L480.1,987.0 L482.1,987.0 L484.1,987.0 L486.1,987.0 L488.1,987.0 L490.1,987.0 L492.1,987.0 L494.1,987.0 L496.1,987.0 L498.1,987.0 L500.1,987.0 L502.1,987.0 L504.1,987.0 L506.1,987.0 L508.2,987.0 L510.2,987.0 L512.2,987.0 L514.2,987.0 L516.2,987.0 L518.2,987.0 L520.2,987.0 L522.2,987.0 L524.2,987.0 L526.2,987.0 L528.2,987.0 L530.2,987.0 L532.2,987.0 L534.2,987.0 L536.2,987.0 L538.2,987.0 L540.3,987.0 L542.3,987.0 L544.3,987.0 L546.3,987.0 L548.3,987.0 L550.3,987.0 L552.3,987.0 L554.3,987.0 L556.3,985.6 L558.3,982.8 L560.3,979.8 L562.3,976.8 L564.3,973.7 L566.3,970.4 L568.3,967.1 L570.3,963.8 L572.4,960.3 L574.4,956.7 L576.4,953.1 L578.4,949.4 L580.4,945.6 L582.4,941.8 L584.4,937.8 L586.4,933.8 L588.4,929.7 L590.4,925.6 L592.4,921.4 L594.4,917.1 L596.4,912.7 L598.4,908.3 L600.4,903.8 L602.4,899.3 L604.5,894.7 L606.5,890.0 L608.5,885.3 L610.5,880.5 L612.5,875.7 L614.5,870.8 L616.5,865.9 L618.5,860.9 L620.5,855.9 L622.5,850.8 L624.5,845.7 L626.5,840.6 L628.5,835.3 L630.5,830.1 L632.5,824.8 L634.5,819.5 L636.6,814.1 L638.6,808.7 L640.6,803.3 L642.6,797.8 L644.6,792.3 L646.6,786.8 L648.6,781.2 L650.6,775.7 L652.6,770.0 L654.6,764.4 L656.6,758.8 L658.6,753.1 L660.6,747.4 L662.6,741.7 L664.6,735.9 L666.6,730.2 L668.7,724.4 L670.7,718.7 L672.7,712.9 L674.7,707.1 L676.7,701.3 L678.7,695.5 L680.7,689.7 L682.7,683.8 L684.7,678.0 L686.7,672.2 L688.7,666.4 L690.7,660.6 L692.7,654.7 L694.7,648.9 L696.7,643.1 L698.7,637.3 L700.8,631.5 L702.8,625.8 L704.8,620.0 L706.8,614.2 L708.8,608.5 L710.8,602.8 L712.8,597.1 L714.8,591.4 L716.8,585.7 L718.8,580.1 L720.8,574.4 L722.8,568.8 L724.8,563.3 L726.8,557.7 L728.8,552.2 L730.8,546.7 L732.9,541.3 L734.9,535.9 L736.9,530.5 L738.9,525.1 L740.9,519.8 L742.9,514.6 L744.9,509.3 L746.9,504.1 L748.9,499.0 L750.9,493.9 L752.9,488.8 L754.9,483.8 L756.9,478.9 L758.9,474.0 L760.9,469.1 L762.9,464.3 L765.0,459.6 L767.0,454.9 L769.0,450.2 L771.0,445.7 L773.0,441.2 L775.0,436.7 L777.0,432.3 L779.0,428.0" fill="none" stroke="#e8a223" stroke-width="3.5" stroke-linejoin="round"/>
<path d="M460.0,987.0 L460.5,983.5 L461.1,980.0 L461.7,976.5 L462.2,972.9 L462.8,969.4 L463.4,965.9 L463.9,962.4 L464.5,958.9 L465.1,955.4 L465.7,951.8 L466.3,948.3 L466.9,944.8 L467.5,941.3 L468.1,937.8 L468.7,934.3 L469.4,930.7 L470.0,927.2 L470.6,923.7 L471.3,920.2 L472.0,916.7 L472.6,913.2 L473.3,909.7 L474.0,906.1 L474.7,902.6 L475.4,899.1 L476.1,895.6 L476.8,892.1 L477.5,888.6 L478.2,885.0 L478.9,881.5 L479.6,878.0 L480.3,874.5 L481.0,871.0 L481.7,867.5 L482.4,863.9 L483.1,860.4 L483.8,856.9 L484.5,853.4 L485.2,849.9 L485.8,846.4 L486.5,842.9 L487.1,839.3 L487.8,835.8 L488.4,832.3 L489.1,828.8 L489.7,825.3 L490.4,821.8 L491.0,818.2 L491.7,814.7 L492.3,811.2 L492.9,807.7 L493.6,804.2 L494.2,800.7 L494.8,797.2 L495.5,793.6 L496.1,790.1 L496.7,786.6 L497.3,783.1 L498.0,779.6 L498.6,776.1 L499.2,772.5 L499.9,769.0 L500.5,765.5 L501.1,762.0 L501.8,758.5 L502.4,755.0 L503.0,751.4 L503.7,747.9 L504.3,744.4 L504.9,740.9 L505.6,737.4 L506.2,733.9 L506.9,730.4 L507.5,726.8 L508.2,723.3 L508.9,719.8 L509.5,716.3 L510.2,712.8 L510.9,709.3 L511.5,705.7 L512.2,702.2 L512.9,698.7 L513.6,695.2 L514.3,691.7 L514.9,688.2 L515.6,684.6 L516.3,681.1 L517.0,677.6 L517.7,674.1 L518.3,670.6 L519.0,667.1 L519.7,663.6 L520.4,660.0 L521.1,656.5 L521.8,653.0 L522.5,649.5 L523.2,646.0 L523.9,642.5 L524.6,638.9 L525.3,635.4 L526.0,631.9 L526.7,628.4 L527.4,624.9 L528.1,621.4 L528.9,617.8 L529.6,614.3 L530.3,610.8 L531.1,607.3 L531.8,603.8 L532.5,600.3 L533.3,596.8 L534.1,593.2 L534.8,589.7 L535.6,586.2 L536.4,582.7 L537.1,579.2 L537.9,575.7 L538.7,572.1 L539.5,568.6 L540.3,565.1 L541.1,561.6 L542.0,558.1 L542.8,554.6 L543.6,551.1 L544.5,547.5 L545.3,544.0 L546.2,540.5 L547.0,537.0 L547.9,533.5 L548.8,530.0 L549.7,526.4 L550.6,522.9 L551.5,519.4 L552.4,515.9 L553.3,512.4 L554.2,508.9 L555.2,505.3 L556.1,501.8 L557.1,498.3 L558.0,494.8 L559.0,491.3 L560.0,487.8 L561.0,484.3 L562.0,480.7 L563.0,477.2 L564.0,473.7 L564.9,470.2 L565.9,466.7 L566.9,463.2 L568.0,459.6 L569.1,456.1 L570.3,452.6 L571.6,449.1 L573.0,445.6 L574.7,442.1 L576.7,438.5 L579.0,435.0 L581.5,431.5 L584.0,428.0 L779.0,428.0 L779.0,428.0 L643.0,428.0 L641.1,431.5 L639.2,435.0 L637.3,438.5 L635.4,442.1 L633.6,445.6 L631.8,449.1 L630.0,452.6 L628.2,456.1 L626.5,459.6 L624.7,463.2 L623.0,466.7 L621.3,470.2 L619.7,473.7 L618.0,477.2 L616.5,480.7 L614.9,484.3 L613.4,487.8 L611.9,491.3 L610.4,494.8 L608.9,498.3 L607.4,501.8 L606.0,505.3 L604.5,508.9 L603.1,512.4 L601.7,515.9 L600.3,519.4 L598.9,522.9 L597.5,526.4 L596.2,530.0 L594.8,533.5 L593.5,537.0 L592.2,540.5 L590.9,544.0 L589.6,547.5 L588.3,551.1 L587.0,554.6 L585.8,558.1 L584.6,561.6 L583.3,565.1 L582.1,568.6 L580.9,572.1 L579.7,575.7 L578.5,579.2 L577.3,582.7 L576.1,586.2 L574.9,589.7 L573.6,593.2 L572.4,596.8 L571.2,600.3 L570.0,603.8 L568.8,607.3 L567.6,610.8 L566.4,614.3 L565.3,617.8 L564.1,621.4 L562.9,624.9 L561.8,628.4 L560.6,631.9 L559.5,635.4 L558.4,638.9 L557.3,642.5 L556.2,646.0 L555.2,649.5 L554.1,653.0 L553.1,656.5 L552.1,660.0 L551.1,663.6 L550.1,667.1 L549.2,670.6 L548.3,674.1 L547.4,677.6 L546.5,681.1 L545.6,684.6 L544.8,688.2 L544.0,691.7 L543.2,695.2 L542.5,698.7 L541.8,702.2 L541.1,705.7 L540.5,709.3 L539.9,712.8 L539.3,716.3 L538.7,719.8 L538.2,723.3 L537.7,726.8 L537.2,730.4 L536.7,733.9 L536.2,737.4 L535.8,740.9 L535.3,744.4 L534.9,747.9 L534.5,751.4 L534.1,755.0 L533.7,758.5 L533.3,762.0 L533.0,765.5 L532.6,769.0 L532.2,772.5 L531.9,776.1 L531.5,779.6 L531.1,783.1 L530.7,786.6 L530.4,790.1 L530.0,793.6 L529.6,797.2 L529.2,800.7 L528.8,804.2 L528.3,807.7 L527.9,811.2 L527.4,814.7 L527.0,818.2 L526.5,821.8 L526.0,825.3 L525.4,828.8 L524.9,832.3 L524.3,835.8 L523.7,839.3 L523.1,842.9 L522.4,846.4 L521.7,849.9 L521.0,853.4 L520.2,856.9 L519.5,860.4 L518.6,863.9 L517.8,867.5 L516.9,871.0 L515.9,874.5 L514.9,878.0 L513.9,881.5 L512.9,885.0 L511.8,888.6 L510.7,892.1 L509.6,895.6 L508.4,899.1 L507.2,902.6 L505.9,906.1 L504.6,909.7 L503.3,913.2 L501.9,916.7 L500.6,920.2 L499.1,923.7 L497.7,927.2 L496.2,930.7 L494.6,934.3 L492.9,937.8 L491.1,941.3 L489.1,944.8 L487.1,948.3 L485.0,951.8 L482.8,955.4 L480.5,958.9 L478.1,962.4 L475.7,965.9 L473.2,969.4 L470.6,972.9 L468.0,976.5 L465.4,980.0 L462.7,983.5 L460.0,987.0Z" fill="#8927e6" stroke="#8927e6" stroke-width="3.5" stroke-linejoin="round"/>
<path d="M460.0,987.0 L462.0,983.6 L464.0,980.2 L466.0,976.7 L468.0,973.3 L470.0,969.7 L472.0,966.2 L474.0,962.6 L476.1,959.0 L478.1,955.4 L480.1,951.8 L482.1,948.1 L484.1,944.4 L486.1,940.6 L488.1,936.9 L490.1,933.1 L492.1,929.3 L494.1,925.5 L496.1,921.6 L498.1,917.8 L500.1,913.9 L502.1,910.0 L504.1,906.0 L506.1,902.1 L508.2,898.1 L510.2,894.2 L512.2,890.1 L514.2,886.1 L516.2,882.1 L518.2,878.0 L520.2,874.0 L522.2,869.9 L524.2,865.8 L526.2,861.7 L528.2,857.6 L530.2,853.4 L532.2,849.3 L534.2,845.1 L536.2,840.9 L538.2,836.8 L540.3,832.6 L542.3,828.4 L544.3,824.2 L546.3,820.0 L548.3,815.7 L550.3,811.5 L552.3,807.3 L554.3,803.0 L556.3,798.8 L558.3,794.5 L560.3,790.3 L562.3,786.0 L564.3,781.7 L566.3,777.5 L568.3,773.2 L570.3,768.9 L572.4,764.7 L574.4,760.4 L576.4,756.1 L578.4,751.9 L580.4,747.6 L582.4,743.3 L584.4,739.1 L586.4,734.8 L588.4,730.6 L590.4,726.3 L592.4,722.1 L594.4,717.8 L596.4,713.6 L598.4,709.4 L600.4,705.2 L602.4,701.0 L604.5,696.8 L606.5,692.6 L608.5,688.4 L610.5,684.2 L612.5,680.0 L614.5,675.9 L616.5,671.8 L618.5,667.6 L620.5,663.5 L622.5,659.4 L624.5,655.3 L626.5,651.3 L628.5,647.2 L630.5,643.2 L632.5,639.1 L634.5,635.1 L636.6,631.1 L638.6,627.2 L640.6,623.2 L642.6,619.3 L644.6,615.4 L646.6,611.5 L648.6,607.6 L650.6,603.8 L652.6,599.9 L654.6,596.1 L656.6,592.3 L658.6,588.6 L660.6,584.9 L662.6,581.1 L664.6,577.5 L666.6,573.8 L668.7,570.2 L670.7,566.6 L672.7,563.0 L674.7,559.4 L676.7,555.9 L678.7,552.4 L680.7,549.0 L682.7,545.5 L684.7,542.1 L686.7,538.8 L688.7,535.4 L690.7,532.1 L692.7,528.9 L694.7,525.6 L696.7,522.4 L698.7,519.3 L700.8,516.1 L702.8,513.1 L704.8,510.0 L706.8,507.0 L708.8,504.0 L710.8,501.1 L712.8,498.2 L714.8,495.3 L716.8,492.5 L718.8,489.7 L720.8,486.9 L722.8,484.2 L724.8,481.6 L726.8,479.0 L728.8,476.4 L730.8,473.9 L732.9,471.4 L734.9,469.0 L736.9,466.6 L738.9,464.2 L740.9,461.9 L742.9,459.7 L744.9,457.5 L746.9,455.3 L748.9,453.2 L750.9,451.2 L752.9,449.2 L754.9,447.2 L756.9,445.3 L758.9,443.5 L760.9,441.7 L762.9,439.9 L765.0,438.3 L767.0,436.6 L769.0,435.0 L771.0,433.5 L773.0,432.1 L775.0,430.6 L777.0,429.3 L779.0,428.0" fill="none" stroke="#8927e6" stroke-width="3.5" stroke-linejoin="round"/>
<path d="M460.0,987.0 L462.0,983.5 L464.0,980.0 L466.0,976.5 L468.0,972.9 L470.0,969.3 L472.0,965.7 L474.0,962.0 L476.1,958.3 L478.1,954.5 L480.1,950.8 L482.1,947.0 L484.1,943.1 L486.1,939.3 L488.1,935.4 L490.1,931.4 L492.1,927.5 L494.1,923.5 L496.1,919.5 L498.1,915.5 L500.1,911.4 L502.1,907.3 L504.1,903.2 L506.1,899.1 L508.2,895.0 L510.2,890.8 L512.2,886.6 L514.2,882.4 L516.2,878.2 L518.2,873.9 L520.2,869.7 L522.2,865.4 L524.2,861.1 L526.2,856.8 L528.2,852.5 L530.2,848.1 L532.2,843.8 L534.2,839.4 L536.2,835.0 L538.2,830.6 L540.3,826.2 L542.3,821.8 L544.3,817.4 L546.3,813.0 L548.3,808.5 L550.3,804.1 L552.3,799.6 L554.3,795.2 L556.3,790.7 L558.3,786.3 L560.3,781.8 L562.3,777.3 L564.3,772.8 L566.3,768.4 L568.3,763.9 L570.3,759.4 L572.4,754.9 L574.4,750.5 L576.4,746.0 L578.4,741.5 L580.4,737.1 L582.4,732.6 L584.4,728.1 L586.4,723.7 L588.4,719.2 L590.4,714.8 L592.4,710.4 L594.4,705.9 L596.4,701.5 L598.4,697.1 L600.4,692.7 L602.4,688.3 L604.5,684.0 L606.5,679.6 L608.5,675.2 L610.5,670.9 L612.5,666.6 L614.5,662.3 L616.5,658.0 L618.5,653.7 L620.5,649.5 L622.5,645.2 L624.5,641.0 L626.5,636.8 L628.5,632.6 L630.5,628.5 L632.5,624.4 L634.5,620.2 L636.6,616.2 L638.6,612.1 L640.6,608.0 L642.6,604.0 L644.6,600.0 L646.6,596.1 L648.6,592.1 L650.6,588.2 L652.6,584.3 L654.6,580.5 L656.6,576.7 L658.6,572.9 L660.6,569.1 L662.6,565.4 L664.6,561.7 L666.6,558.0 L668.7,554.4 L670.7,550.8 L672.7,547.3 L674.7,543.7 L676.7,540.2 L678.7,536.8 L680.7,533.4 L682.7,530.0 L684.7,526.7 L686.7,523.4 L688.7,520.2 L690.7,517.0 L692.7,513.8 L694.7,510.7 L696.7,507.6 L698.7,504.6 L700.8,501.6 L702.8,498.6 L704.8,495.7 L706.8,492.9 L708.8,490.1 L710.8,487.4 L712.8,484.7 L714.8,482.0 L716.8,479.4 L718.8,476.9 L720.8,474.4 L722.8,471.9 L724.8,469.5 L726.8,467.2 L728.8,464.9 L730.8,462.7 L732.9,460.6 L734.9,458.4 L736.9,456.4 L738.9,454.4 L740.9,452.5 L742.9,450.6 L744.9,448.8 L746.9,447.0 L748.9,445.4 L750.9,443.7 L752.9,442.2 L754.9,440.7 L756.9,439.2 L758.9,437.9 L760.9,436.6 L762.9,435.4 L765.0,434.2 L767.0,433.1 L769.0,432.1 L771.0,431.1 L773.0,430.2 L775.0,429.4 L777.0,428.7 L779.0,428.0" fill="none" stroke="#8927e6" stroke-width="3.5" stroke-linejoin="round"/>
<path d="M460.0,987.0 L462.0,986.4 L464.0,985.8 L466.0,985.2 L468.0,984.5 L470.0,983.7 L472.0,983.0 L474.0,982.2 L476.1,981.4 L478.1,980.5 L480.1,979.6 L482.1,978.7 L484.1,977.7 L486.1,976.7 L488.1,975.6 L490.1,974.6 L492.1,973.4 L494.1,972.3 L496.1,971.1 L498.1,969.9 L500.1,968.6 L502.1,967.3 L504.1,966.0 L506.1,964.6 L508.2,963.2 L510.2,961.8 L512.2,960.3 L514.2,958.8 L516.2,957.3 L518.2,955.7 L520.2,954.1 L522.2,952.4 L524.2,950.7 L526.2,949.0 L528.2,947.2 L530.2,945.4 L532.2,943.6 L534.2,941.7 L536.2,939.8 L538.2,937.8 L540.3,935.8 L542.3,933.8 L544.3,931.8 L546.3,929.7 L548.3,927.5 L550.3,925.4 L552.3,923.2 L554.3,920.9 L556.3,918.6 L558.3,916.3 L560.3,914.0 L562.3,911.6 L564.3,909.1 L566.3,906.7 L568.3,904.2 L570.3,901.6 L572.4,899.0 L574.4,896.4 L576.4,893.8 L578.4,891.1 L580.4,888.4 L582.4,885.6 L584.4,882.8 L586.4,880.0 L588.4,877.1 L590.4,874.2 L592.4,871.2 L594.4,868.2 L596.4,865.2 L598.4,862.1 L600.4,859.0 L602.4,855.9 L604.5,852.7 L606.5,849.5 L608.5,846.3 L610.5,843.0 L612.5,839.6 L614.5,836.3 L616.5,832.9 L618.5,829.4 L620.5,825.9 L622.5,822.4 L624.5,818.9 L626.5,815.3 L628.5,811.6 L630.5,808.0 L632.5,804.3 L634.5,800.5 L636.6,796.7 L638.6,792.9 L640.6,789.0 L642.6,785.1 L644.6,781.2 L646.6,777.2 L648.6,773.2 L650.6,769.1 L652.6,765.1 L654.6,760.9 L656.6,756.8 L658.6,752.5 L660.6,748.3 L662.6,744.0 L664.6,739.7 L666.6,735.3 L668.7,730.9 L670.7,726.5 L672.7,722.0 L674.7,717.5 L676.7,712.9 L678.7,708.3 L680.7,703.7 L682.7,699.0 L684.7,694.3 L686.7,689.5 L688.7,684.7 L690.7,679.9 L692.7,675.0 L694.7,670.1 L696.7,665.2 L698.7,660.2 L700.8,655.2 L702.8,650.1 L704.8,645.0 L706.8,639.8 L708.8,634.7 L710.8,629.4 L712.8,624.2 L714.8,618.9 L716.8,613.5 L718.8,608.1 L720.8,602.7 L722.8,597.2 L724.8,591.7 L726.8,586.2 L728.8,580.6 L730.8,575.0 L732.9,569.3 L734.9,563.6 L736.9,557.9 L738.9,552.1 L740.9,546.3 L742.9,540.4 L744.9,534.5 L746.9,528.6 L748.9,522.6 L750.9,516.6 L752.9,510.5 L754.9,504.4 L756.9,498.3 L758.9,492.1 L760.9,485.8 L762.9,479.6 L765.0,473.3 L767.0,466.9 L769.0,460.5 L771.0,454.1 L773.0,447.6 L775.0,441.1 L777.0,434.6 L779.0,428.0" fill="none" stroke="#8927e6" stroke-width="3.5" stroke-linejoin="round"/>
<path d="M460.0,987.0 L462.0,986.4 L464.0,985.7 L466.0,985.1 L468.0,984.4 L470.0,983.8 L472.0,983.1 L474.0,982.5 L476.1,981.8 L478.1,981.1 L480.1,980.4 L482.1,979.7 L484.1,979.0 L486.1,978.3 L488.1,977.6 L490.1,976.9 L492.1,976.1 L494.1,975.3 L496.1,974.6 L498.1,973.8 L500.1,973.0 L502.1,972.1 L504.1,971.3 L506.1,970.5 L508.2,969.6 L510.2,968.7 L512.2,967.8 L514.2,966.9 L516.2,965.9 L518.2,965.0 L520.2,964.0 L522.2,963.0 L524.2,961.9 L526.2,960.9 L528.2,959.8 L530.2,958.7 L532.2,957.6 L534.2,956.4 L536.2,955.2 L538.2,954.0 L540.3,952.8 L542.3,951.5 L544.3,950.3 L546.3,948.9 L548.3,947.6 L550.3,946.2 L552.3,944.8 L554.3,943.4 L556.3,941.9 L558.3,940.4 L560.3,938.8 L562.3,937.3 L564.3,935.6 L566.3,934.0 L568.3,932.3 L570.3,930.6 L572.4,928.8 L574.4,927.0 L576.4,925.2 L578.4,923.3 L580.4,921.4 L582.4,919.5 L584.4,917.5 L586.4,915.4 L588.4,913.4 L590.4,911.2 L592.4,909.1 L594.4,906.9 L596.4,904.6 L598.4,902.3 L600.4,899.9 L602.4,897.6 L604.5,895.1 L606.5,892.6 L608.5,890.1 L610.5,887.5 L612.5,884.8 L614.5,882.2 L616.5,879.4 L618.5,876.6 L620.5,873.8 L622.5,870.9 L624.5,867.9 L626.5,864.9 L628.5,861.8 L630.5,858.7 L632.5,855.5 L634.5,852.3 L636.6,849.0 L638.6,845.7 L640.6,842.3 L642.6,838.8 L644.6,835.3 L646.6,831.7 L648.6,828.0 L650.6,824.3 L652.6,820.5 L654.6,816.7 L656.6,812.8 L658.6,808.8 L660.6,804.8 L662.6,800.7 L664.6,796.5 L666.6,792.3 L668.7,787.9 L670.7,783.6 L672.7,779.1 L674.7,774.6 L676.7,770.0 L678.7,765.4 L680.7,760.7 L682.7,755.9 L684.7,751.0 L686.7,746.0 L688.7,741.0 L690.7,735.9 L692.7,730.8 L694.7,725.5 L696.7,720.2 L698.7,714.8 L700.8,709.3 L702.8,703.8 L704.8,698.1 L706.8,692.4 L708.8,686.6 L710.8,680.7 L712.8,674.8 L714.8,668.7 L716.8,662.6 L718.8,656.4 L720.8,650.1 L722.8,643.7 L724.8,637.3 L726.8,630.7 L728.8,624.1 L730.8,617.4 L732.9,610.5 L734.9,603.6 L736.9,596.6 L738.9,589.6 L740.9,582.4 L742.9,575.1 L744.9,567.8 L746.9,560.3 L748.9,552.8 L750.9,545.1 L752.9,537.4 L754.9,529.6 L756.9,521.7 L758.9,513.6 L760.9,505.5 L762.9,497.3 L765.0,489.0 L767.0,480.6 L769.0,472.1 L771.0,463.5 L773.0,454.7 L775.0,445.9 L777.0,437.0 L779.0,428.0" fill="none" stroke="#8927e6" stroke-width="3.5" stroke-linejoin="round"/>
<path d="M460.0,987.0 L462.0,983.9 L464.0,980.7 L466.0,977.6 L468.0,974.3 L470.0,971.1 L472.0,967.8 L474.0,964.5 L476.1,961.2 L478.1,957.8 L480.1,954.4 L482.1,951.0 L484.1,947.5 L486.1,944.0 L488.1,940.5 L490.1,936.9 L492.1,933.4 L494.1,929.8 L496.1,926.1 L498.1,922.5 L500.1,918.8 L502.1,915.1 L504.1,911.4 L506.1,907.6 L508.2,903.9 L510.2,900.1 L512.2,896.3 L514.2,892.4 L516.2,888.6 L518.2,884.7 L520.2,880.8 L522.2,876.9 L524.2,873.0 L526.2,869.0 L528.2,865.1 L530.2,861.1 L532.2,857.1 L534.2,853.1 L536.2,849.1 L538.2,845.0 L540.3,841.0 L542.3,836.9 L544.3,832.9 L546.3,828.8 L548.3,824.7 L550.3,820.6 L552.3,816.5 L554.3,812.3 L556.3,808.2 L558.3,804.1 L560.3,799.9 L562.3,795.7 L564.3,791.6 L566.3,787.4 L568.3,783.2 L570.3,779.1 L572.4,774.9 L574.4,770.7 L576.4,766.5 L578.4,762.3 L580.4,758.1 L582.4,753.9 L584.4,749.7 L586.4,745.5 L588.4,741.3 L590.4,737.1 L592.4,732.9 L594.4,728.7 L596.4,724.6 L598.4,720.4 L600.4,716.2 L602.4,712.0 L604.5,707.8 L606.5,703.7 L608.5,699.5 L610.5,695.4 L612.5,691.2 L614.5,687.1 L616.5,682.9 L618.5,678.8 L620.5,674.7 L622.5,670.6 L624.5,666.5 L626.5,662.4 L628.5,658.4 L630.5,654.3 L632.5,650.2 L634.5,646.2 L636.6,642.2 L638.6,638.2 L640.6,634.2 L642.6,630.2 L644.6,626.3 L646.6,622.3 L648.6,618.4 L650.6,614.5 L652.6,610.6 L654.6,606.8 L656.6,602.9 L658.6,599.1 L660.6,595.3 L662.6,591.5 L664.6,587.7 L666.6,584.0 L668.7,580.3 L670.7,576.6 L672.7,572.9 L674.7,569.3 L676.7,565.7 L678.7,562.1 L680.7,558.5 L682.7,555.0 L684.7,551.5 L686.7,548.0 L688.7,544.5 L690.7,541.1 L692.7,537.7 L694.7,534.3 L696.7,531.0 L698.7,527.7 L700.8,524.4 L702.8,521.2 L704.8,518.0 L706.8,514.8 L708.8,511.7 L710.8,508.6 L712.8,505.5 L714.8,502.5 L716.8,499.5 L718.8,496.5 L720.8,493.6 L722.8,490.7 L724.8,487.9 L726.8,485.1 L728.8,482.3 L730.8,479.6 L732.9,476.9 L734.9,474.3 L736.9,471.7 L738.9,469.1 L740.9,466.6 L742.9,464.2 L744.9,461.8 L746.9,459.4 L748.9,457.1 L750.9,454.8 L752.9,452.5 L754.9,450.3 L756.9,448.2 L758.9,446.1 L760.9,444.1 L762.9,442.1 L765.0,440.1 L767.0,438.2 L769.0,436.4 L771.0,434.6 L773.0,432.9 L775.0,431.2 L777.0,429.6 L779.0,428.0" fill="none" stroke="#8927e6" stroke-width="3.5" stroke-linejoin="round"/>
<path d="M460.0,987.0 L462.0,984.9 L464.0,982.9 L466.0,980.7 L468.0,978.6 L470.0,976.4 L472.0,974.2 L474.0,971.9 L476.1,969.6 L478.1,967.3 L480.1,964.9 L482.1,962.5 L484.1,960.1 L486.1,957.7 L488.1,955.2 L490.1,952.7 L492.1,950.2 L494.1,947.6 L496.1,945.0 L498.1,942.4 L500.1,939.7 L502.1,937.0 L504.1,934.3 L506.1,931.6 L508.2,928.8 L510.2,926.0 L512.2,923.2 L514.2,920.4 L516.2,917.5 L518.2,914.6 L520.2,911.7 L522.2,908.7 L524.2,905.7 L526.2,902.7 L528.2,899.7 L530.2,896.6 L532.2,893.6 L534.2,890.5 L536.2,887.4 L538.2,884.2 L540.3,881.0 L542.3,877.9 L544.3,874.6 L546.3,871.4 L548.3,868.2 L550.3,864.9 L552.3,861.6 L554.3,858.3 L556.3,854.9 L558.3,851.6 L560.3,848.2 L562.3,844.8 L564.3,841.4 L566.3,837.9 L568.3,834.5 L570.3,831.0 L572.4,827.5 L574.4,824.0 L576.4,820.5 L578.4,816.9 L580.4,813.4 L582.4,809.8 L584.4,806.2 L586.4,802.6 L588.4,799.0 L590.4,795.3 L592.4,791.7 L594.4,788.0 L596.4,784.3 L598.4,780.6 L600.4,776.9 L602.4,773.2 L604.5,769.5 L606.5,765.7 L608.5,761.9 L610.5,758.2 L612.5,754.4 L614.5,750.6 L616.5,746.8 L618.5,743.0 L620.5,739.1 L622.5,735.3 L624.5,731.4 L626.5,727.6 L628.5,723.7 L630.5,719.8 L632.5,715.9 L634.5,712.0 L636.6,708.1 L638.6,704.2 L640.6,700.3 L642.6,696.3 L644.6,692.4 L646.6,688.5 L648.6,684.5 L650.6,680.6 L652.6,676.6 L654.6,672.6 L656.6,668.6 L658.6,664.7 L660.6,660.7 L662.6,656.7 L664.6,652.7 L666.6,648.7 L668.7,644.7 L670.7,640.7 L672.7,636.7 L674.7,632.7 L676.7,628.7 L678.7,624.7 L680.7,620.6 L682.7,616.6 L684.7,612.6 L686.7,608.6 L688.7,604.6 L690.7,600.6 L692.7,596.5 L694.7,592.5 L696.7,588.5 L698.7,584.5 L700.8,580.5 L702.8,576.4 L704.8,572.4 L706.8,568.4 L708.8,564.4 L710.8,560.4 L712.8,556.4 L714.8,552.4 L716.8,548.4 L718.8,544.4 L720.8,540.4 L722.8,536.4 L724.8,532.5 L726.8,528.5 L728.8,524.5 L730.8,520.6 L732.9,516.6 L734.9,512.7 L736.9,508.7 L738.9,504.8 L740.9,500.9 L742.9,496.9 L744.9,493.0 L746.9,489.1 L748.9,485.2 L750.9,481.3 L752.9,477.5 L754.9,473.6 L756.9,469.7 L758.9,465.9 L760.9,462.0 L762.9,458.2 L765.0,454.4 L767.0,450.6 L769.0,446.8 L771.0,443.0 L773.0,439.2 L775.0,435.5 L777.0,431.7 L779.0,428.0" fill="none" stroke="#8927e6" stroke-width="3.5" stroke-linejoin="round"/>
<path d="M460.0,987.0 L462.0,982.1 L464.0,977.1 L466.0,972.1 L468.0,967.1 L470.0,962.1 L472.0,957.1 L474.0,952.0 L476.1,947.0 L478.1,941.9 L480.1,936.8 L482.1,931.6 L484.1,926.5 L486.1,921.4 L488.1,916.2 L490.1,911.0 L492.1,905.8 L494.1,900.6 L496.1,895.4 L498.1,890.2 L500.1,885.0 L502.1,879.8 L504.1,874.5 L506.1,869.3 L508.2,864.0 L510.2,858.8 L512.2,853.5 L514.2,848.2 L516.2,843.0 L518.2,837.7 L520.2,832.4 L522.2,827.2 L524.2,821.9 L526.2,816.7 L528.2,811.4 L530.2,806.1 L532.2,800.9 L534.2,795.6 L536.2,790.4 L538.2,785.1 L540.3,779.9 L542.3,774.7 L544.3,769.5 L546.3,764.3 L548.3,759.1 L550.3,753.9 L552.3,748.7 L554.3,743.5 L556.3,738.4 L558.3,733.3 L560.3,728.1 L562.3,723.0 L564.3,718.0 L566.3,712.9 L568.3,707.8 L570.3,702.8 L572.4,697.8 L574.4,692.8 L576.4,687.8 L578.4,682.9 L580.4,677.9 L582.4,673.0 L584.4,668.1 L586.4,663.3 L588.4,658.4 L590.4,653.6 L592.4,648.8 L594.4,644.1 L596.4,639.4 L598.4,634.7 L600.4,630.0 L602.4,625.4 L604.5,620.8 L606.5,616.2 L608.5,611.7 L610.5,607.1 L612.5,602.7 L614.5,598.2 L616.5,593.8 L618.5,589.5 L620.5,585.2 L622.5,580.9 L624.5,576.6 L626.5,572.4 L628.5,568.3 L630.5,564.1 L632.5,560.0 L634.5,556.0 L636.6,552.0 L638.6,548.1 L640.6,544.2 L642.6,540.3 L644.6,536.5 L646.6,532.7 L648.6,529.0 L650.6,525.3 L652.6,521.7 L654.6,518.1 L656.6,514.6 L658.6,511.2 L660.6,507.8 L662.6,504.4 L664.6,501.1 L666.6,497.9 L668.7,494.7 L670.7,491.5 L672.7,488.5 L674.7,485.4 L676.7,482.5 L678.7,479.6 L680.7,476.7 L682.7,474.0 L684.7,471.3 L686.7,468.6 L688.7,466.0 L690.7,463.5 L692.7,461.0 L694.7,458.6 L696.7,456.3 L698.7,454.1 L700.8,451.9 L702.8,449.7 L704.8,447.7 L706.8,445.7 L708.8,443.8 L710.8,442.0 L712.8,440.2 L714.8,438.5 L716.8,436.9 L718.8,435.4 L720.8,433.9 L722.8,432.5 L724.8,431.2 L726.8,430.0 L728.8,428.8 L730.8,428.0 L732.9,428.0 L734.9,428.0 L736.9,428.0 L738.9,428.0 L740.9,428.0 L742.9,428.0 L744.9,428.0 L746.9,428.0 L748.9,428.0 L750.9,428.0 L752.9,428.0 L754.9,428.0 L756.9,428.0 L758.9,428.0 L760.9,428.0 L762.9,428.0 L765.0,428.0 L767.0,428.0 L769.0,428.0 L771.0,428.0 L773.0,428.0 L775.0,428.0 L777.0,428.0 L779.0,428.0" fill="none" stroke="#8927e6" stroke-width="3.5" stroke-linejoin="round"/>
<path d="M460.0,987.0 L462.0,987.0 L464.0,987.0 L466.0,987.0 L468.0,987.0 L470.0,987.0 L472.0,987.0 L474.0,987.0 L476.1,987.0 L478.1,987.0 L480.1,987.0 L482.1,987.0 L484.1,987.0 L486.1,987.0 L488.1,987.0 L490.1,987.0 L492.1,987.0 L494.1,987.0 L496.1,987.0 L498.1,987.0 L500.1,987.0 L502.1,987.0 L504.1,987.0 L506.1,987.0 L508.2,987.0 L510.2,987.0 L512.2,987.0 L514.2,987.0 L516.2,987.0 L518.2,987.0 L520.2,987.0 L522.2,987.0 L524.2,987.0 L526.2,987.0 L528.2,987.0 L530.2,987.0 L532.2,987.0 L534.2,987.0 L536.2,987.0 L538.2,987.0 L540.3,987.0 L542.3,987.0 L544.3,987.0 L546.3,987.0 L548.3,987.0 L550.3,987.0 L552.3,987.0 L554.3,987.0 L556.3,986.2 L558.3,985.1 L560.3,984.0 L562.3,982.8 L564.3,981.6 L566.3,980.4 L568.3,979.1 L570.3,977.7 L572.4,976.3 L574.4,974.8 L576.4,973.2 L578.4,971.6 L580.4,970.0 L582.4,968.3 L584.4,966.5 L586.4,964.7 L588.4,962.8 L590.4,960.9 L592.4,958.8 L594.4,956.8 L596.4,954.6 L598.4,952.5 L600.4,950.2 L602.4,947.9 L604.5,945.5 L606.5,943.0 L608.5,940.5 L610.5,938.0 L612.5,935.3 L614.5,932.6 L616.5,929.8 L618.5,927.0 L620.5,924.0 L622.5,921.1 L624.5,918.0 L626.5,914.9 L628.5,911.7 L630.5,908.4 L632.5,905.1 L634.5,901.6 L636.6,898.2 L638.6,894.6 L640.6,891.0 L642.6,887.2 L644.6,883.5 L646.6,879.6 L648.6,875.7 L650.6,871.6 L652.6,867.5 L654.6,863.4 L656.6,859.1 L658.6,854.8 L660.6,850.4 L662.6,845.9 L664.6,841.3 L666.6,836.7 L668.7,831.9 L670.7,827.1 L672.7,822.2 L674.7,817.2 L676.7,812.1 L678.7,807.0 L680.7,801.7 L682.7,796.4 L684.7,791.0 L686.7,785.5 L688.7,779.9 L690.7,774.2 L692.7,768.4 L694.7,762.6 L696.7,756.6 L698.7,750.6 L700.8,744.5 L702.8,738.2 L704.8,731.9 L706.8,725.5 L708.8,719.0 L710.8,712.4 L712.8,705.7 L714.8,698.9 L716.8,692.1 L718.8,685.1 L720.8,678.0 L722.8,670.8 L724.8,663.6 L726.8,656.2 L728.8,648.7 L730.8,641.1 L732.9,633.5 L734.9,625.7 L736.9,617.8 L738.9,609.8 L740.9,601.8 L742.9,593.6 L744.9,585.3 L746.9,576.9 L748.9,568.4 L750.9,559.8 L752.9,551.1 L754.9,542.3 L756.9,533.4 L758.9,524.3 L760.9,515.2 L762.9,506.0 L765.0,496.6 L767.0,487.1 L769.0,477.6 L771.0,467.9 L773.0,458.1 L775.0,448.2 L777.0,438.1 L779.0,428.0" fill="none" stroke="#8927e6" stroke-width="3.5" stroke-linejoin="round"/>
<path d="M460.0,987.0 L462.0,987.0 L464.0,987.0 L466.0,987.0 L468.0,987.0 L470.0,987.0 L472.0,987.0 L474.0,987.0 L476.1,987.0 L478.1,987.0 L480.1,987.0 L482.1,987.0 L484.1,987.0 L486.1,987.0 L488.1,987.0 L490.1,987.0 L492.1,987.0 L494.1,987.0 L496.1,987.0 L498.1,987.0 L500.1,987.0 L502.1,987.0 L504.1,987.0 L506.1,987.0 L508.2,987.0 L510.2,987.0 L512.2,987.0 L514.2,987.0 L516.2,987.0 L518.2,987.0 L520.2,987.0 L522.2,986.1 L524.2,985.2 L526.2,984.2 L528.2,983.2 L530.2,982.1 L532.2,981.0 L534.2,979.8 L536.2,978.5 L538.2,977.2 L540.3,975.8 L542.3,974.4 L544.3,972.9 L546.3,971.4 L548.3,969.8 L550.3,968.2 L552.3,966.5 L554.3,964.7 L556.3,962.9 L558.3,961.0 L560.3,959.1 L562.3,957.2 L564.3,955.1 L566.3,953.0 L568.3,950.9 L570.3,948.7 L572.4,946.5 L574.4,944.2 L576.4,941.8 L578.4,939.4 L580.4,936.9 L582.4,934.4 L584.4,931.8 L586.4,929.2 L588.4,926.5 L590.4,923.8 L592.4,921.0 L594.4,918.2 L596.4,915.3 L598.4,912.3 L600.4,909.3 L602.4,906.2 L604.5,903.1 L606.5,899.9 L608.5,896.7 L610.5,893.4 L612.5,890.1 L614.5,886.7 L616.5,883.3 L618.5,879.8 L620.5,876.2 L622.5,872.6 L624.5,868.9 L626.5,865.2 L628.5,861.5 L630.5,857.7 L632.5,853.8 L634.5,849.8 L636.6,845.9 L638.6,841.8 L640.6,837.7 L642.6,833.6 L644.6,829.4 L646.6,825.2 L648.6,820.9 L650.6,816.5 L652.6,812.1 L654.6,807.6 L656.6,803.1 L658.6,798.5 L660.6,793.9 L662.6,789.2 L664.6,784.5 L666.6,779.7 L668.7,774.9 L670.7,770.0 L672.7,765.1 L674.7,760.1 L676.7,755.0 L678.7,749.9 L680.7,744.8 L682.7,739.5 L684.7,734.3 L686.7,729.0 L688.7,723.6 L690.7,718.2 L692.7,712.7 L694.7,707.2 L696.7,701.6 L698.7,696.0 L700.8,690.3 L702.8,684.6 L704.8,678.8 L706.8,672.9 L708.8,667.1 L710.8,661.1 L712.8,655.1 L714.8,649.1 L716.8,643.0 L718.8,636.8 L720.8,630.6 L722.8,624.3 L724.8,618.0 L726.8,611.7 L728.8,605.2 L730.8,598.8 L732.9,592.3 L734.9,585.7 L736.9,579.1 L738.9,572.4 L740.9,565.7 L742.9,558.9 L744.9,552.0 L746.9,545.2 L748.9,538.2 L750.9,531.2 L752.9,524.2 L754.9,517.1 L756.9,510.0 L758.9,502.8 L760.9,495.5 L762.9,488.2 L765.0,480.9 L767.0,473.5 L769.0,466.0 L771.0,458.5 L773.0,451.0 L775.0,443.4 L777.0,435.7 L779.0,428.0" fill="none" stroke="#8927e6" stroke-width="3.5" stroke-linejoin="round"/>
<path d="M460.0,987.0 L462.0,986.1 L464.0,985.1 L466.0,984.1 L468.0,983.1 L470.0,982.0 L472.0,980.9 L474.0,979.8 L476.1,978.6 L478.1,977.4 L480.1,976.1 L482.1,974.9 L484.1,973.6 L486.1,972.2 L488.1,970.8 L490.1,969.4 L492.1,968.0 L494.1,966.5 L496.1,965.0 L498.1,963.4 L500.1,961.9 L502.1,960.2 L504.1,958.6 L506.1,956.9 L508.2,955.2 L510.2,953.5 L512.2,951.7 L514.2,949.9 L516.2,948.0 L518.2,946.1 L520.2,944.2 L522.2,942.3 L524.2,940.3 L526.2,938.3 L528.2,936.2 L530.2,934.1 L532.2,932.0 L534.2,929.8 L536.2,927.7 L538.2,925.4 L540.3,923.2 L542.3,920.9 L544.3,918.6 L546.3,916.2 L548.3,913.9 L550.3,911.4 L552.3,909.0 L554.3,906.5 L556.3,904.0 L558.3,901.5 L560.3,898.9 L562.3,896.3 L564.3,893.6 L566.3,890.9 L568.3,888.2 L570.3,885.5 L572.4,882.7 L574.4,879.9 L576.4,877.0 L578.4,874.2 L580.4,871.3 L582.4,868.3 L584.4,865.4 L586.4,862.4 L588.4,859.3 L590.4,856.2 L592.4,853.1 L594.4,850.0 L596.4,846.8 L598.4,843.6 L600.4,840.4 L602.4,837.1 L604.5,833.9 L606.5,830.5 L608.5,827.2 L610.5,823.8 L612.5,820.4 L614.5,816.9 L616.5,813.4 L618.5,809.9 L620.5,806.3 L622.5,802.8 L624.5,799.1 L626.5,795.5 L628.5,791.8 L630.5,788.1 L632.5,784.4 L634.5,780.6 L636.6,776.8 L638.6,773.0 L640.6,769.1 L642.6,765.2 L644.6,761.3 L646.6,757.3 L648.6,753.3 L650.6,749.3 L652.6,745.2 L654.6,741.1 L656.6,737.0 L658.6,732.9 L660.6,728.7 L662.6,724.5 L664.6,720.2 L666.6,716.0 L668.7,711.6 L670.7,707.3 L672.7,702.9 L674.7,698.5 L676.7,694.1 L678.7,689.7 L680.7,685.2 L682.7,680.6 L684.7,676.1 L686.7,671.5 L688.7,666.9 L690.7,662.2 L692.7,657.6 L694.7,652.9 L696.7,648.1 L698.7,643.4 L700.8,638.6 L702.8,633.7 L704.8,628.9 L706.8,624.0 L708.8,619.1 L710.8,614.1 L712.8,609.1 L714.8,604.1 L716.8,599.1 L718.8,594.0 L720.8,588.9 L722.8,583.8 L724.8,578.6 L726.8,573.4 L728.8,568.2 L730.8,563.0 L732.9,557.7 L734.9,552.4 L736.9,547.0 L738.9,541.7 L740.9,536.3 L742.9,530.8 L744.9,525.4 L746.9,519.9 L748.9,514.3 L750.9,508.8 L752.9,503.2 L754.9,497.6 L756.9,492.0 L758.9,486.3 L760.9,480.6 L762.9,474.9 L765.0,469.1 L767.0,463.3 L769.0,457.5 L771.0,451.7 L773.0,445.8 L775.0,439.9 L777.0,434.0 L779.0,428.0" fill="none" stroke="#8927e6" stroke-width="3.5" stroke-linejoin="round"/>
<path d="M460.0,987.0 L462.0,981.1 L464.0,975.2 L466.0,969.3 L468.0,963.4 L470.0,957.4 L472.0,951.5 L474.0,945.6 L476.1,939.7 L478.1,933.8 L480.1,927.9 L482.1,922.0 L484.1,916.1 L486.1,910.1 L488.1,904.3 L490.1,898.4 L492.1,892.5 L494.1,886.6 L496.1,880.7 L498.1,874.9 L500.1,869.0 L502.1,863.2 L504.1,857.3 L506.1,851.5 L508.2,845.7 L510.2,839.9 L512.2,834.1 L514.2,828.3 L516.2,822.6 L518.2,816.8 L520.2,811.1 L522.2,805.3 L524.2,799.6 L526.2,794.0 L528.2,788.3 L530.2,782.6 L532.2,777.0 L534.2,771.4 L536.2,765.8 L538.2,760.2 L540.3,754.7 L542.3,749.1 L544.3,743.6 L546.3,738.2 L548.3,732.7 L550.3,727.3 L552.3,721.8 L554.3,716.5 L556.3,711.1 L558.3,705.8 L560.3,700.5 L562.3,695.2 L564.3,689.9 L566.3,684.7 L568.3,679.5 L570.3,674.4 L572.4,669.3 L574.4,664.2 L576.4,659.1 L578.4,654.1 L580.4,649.1 L582.4,644.1 L584.4,639.2 L586.4,634.3 L588.4,629.4 L590.4,624.6 L592.4,619.9 L594.4,615.1 L596.4,610.4 L598.4,605.8 L600.4,601.1 L602.4,596.6 L604.5,592.0 L606.5,587.5 L608.5,583.1 L610.5,578.7 L612.5,574.3 L614.5,570.0 L616.5,565.7 L618.5,561.5 L620.5,557.3 L622.5,553.1 L624.5,549.1 L626.5,545.0 L628.5,541.0 L630.5,537.1 L632.5,533.2 L634.5,529.4 L636.6,525.6 L638.6,521.8 L640.6,518.1 L642.6,514.5 L644.6,510.9 L646.6,507.4 L648.6,504.0 L650.6,500.5 L652.6,497.2 L654.6,493.9 L656.6,490.7 L658.6,487.5 L660.6,484.4 L662.6,481.3 L664.6,478.3 L666.6,475.4 L668.7,472.5 L670.7,469.7 L672.7,466.9 L674.7,464.2 L676.7,461.6 L678.7,459.1 L680.7,456.6 L682.7,454.1 L684.7,451.8 L686.7,449.5 L688.7,447.3 L690.7,445.1 L692.7,443.0 L694.7,441.0 L696.7,439.1 L698.7,437.2 L700.8,435.4 L702.8,433.7 L704.8,432.0 L706.8,430.4 L708.8,428.9 L710.8,428.0 L712.8,428.0 L714.8,428.0 L716.8,428.0 L718.8,428.0 L720.8,428.0 L722.8,428.0 L724.8,428.0 L726.8,428.0 L728.8,428.0 L730.8,428.0 L732.9,428.0 L734.9,428.0 L736.9,428.0 L738.9,428.0 L740.9,428.0 L742.9,428.0 L744.9,428.0 L746.9,428.0 L748.9,428.0 L750.9,428.0 L752.9,428.0 L754.9,428.0 L756.9,428.0 L758.9,428.0 L760.9,428.0 L762.9,428.0 L765.0,428.0 L767.0,428.0 L769.0,428.0 L771.0,428.0 L773.0,428.0 L775.0,428.0 L777.0,428.0 L779.0,428.0" fill="none" stroke="#8927e6" stroke-width="3.5" stroke-linejoin="round"/>
<path d="M460.0,987.0 L462.0,987.0 L464.0,987.0 L466.0,987.0 L468.0,987.0 L470.0,987.0 L472.0,987.0 L474.0,987.0 L476.1,987.0 L478.1,987.0 L480.1,987.0 L482.1,987.0 L484.1,987.0 L486.1,987.0 L488.1,987.0 L490.1,987.0 L492.1,987.0 L494.1,987.0 L496.1,987.0 L498.1,987.0 L500.1,987.0 L502.1,987.0 L504.1,987.0 L506.1,987.0 L508.2,987.0 L510.2,987.0 L512.2,987.0 L514.2,987.0 L516.2,987.0 L518.2,987.0 L520.2,987.0 L522.2,987.0 L524.2,987.0 L526.2,987.0 L528.2,987.0 L530.2,987.0 L532.2,987.0 L534.2,987.0 L536.2,987.0 L538.2,987.0 L540.3,987.0 L542.3,987.0 L544.3,987.0 L546.3,987.0 L548.3,987.0 L550.3,987.0 L552.3,987.0 L554.3,987.0 L556.3,987.0 L558.3,987.0 L560.3,987.0 L562.3,987.0 L564.3,987.0 L566.3,987.0 L568.3,987.0 L570.3,987.0 L572.4,986.0 L574.4,984.7 L576.4,983.4 L578.4,982.0 L580.4,980.6 L582.4,979.0 L584.4,977.5 L586.4,975.8 L588.4,974.2 L590.4,972.4 L592.4,970.6 L594.4,968.7 L596.4,966.7 L598.4,964.7 L600.4,962.7 L602.4,960.5 L604.5,958.3 L606.5,956.0 L608.5,953.7 L610.5,951.3 L612.5,948.8 L614.5,946.2 L616.5,943.6 L618.5,940.9 L620.5,938.1 L622.5,935.2 L624.5,932.3 L626.5,929.3 L628.5,926.2 L630.5,923.1 L632.5,919.8 L634.5,916.5 L636.6,913.2 L638.6,909.7 L640.6,906.1 L642.6,902.5 L644.6,898.8 L646.6,895.0 L648.6,891.1 L650.6,887.2 L652.6,883.1 L654.6,879.0 L656.6,874.8 L658.6,870.5 L660.6,866.1 L662.6,861.6 L664.6,857.1 L666.6,852.4 L668.7,847.7 L670.7,842.9 L672.7,837.9 L674.7,832.9 L676.7,827.8 L678.7,822.6 L680.7,817.3 L682.7,811.9 L684.7,806.4 L686.7,800.9 L688.7,795.2 L690.7,789.4 L692.7,783.5 L694.7,777.6 L696.7,771.5 L698.7,765.3 L700.8,759.0 L702.8,752.7 L704.8,746.2 L706.8,739.6 L708.8,732.9 L710.8,726.1 L712.8,719.2 L714.8,712.2 L716.8,705.1 L718.8,697.9 L720.8,690.6 L722.8,683.1 L724.8,675.6 L726.8,667.9 L728.8,660.2 L730.8,652.3 L732.9,644.3 L734.9,636.2 L736.9,628.0 L738.9,619.7 L740.9,611.2 L742.9,602.7 L744.9,594.0 L746.9,585.2 L748.9,576.3 L750.9,567.3 L752.9,558.1 L754.9,548.8 L756.9,539.5 L758.9,529.9 L760.9,520.3 L762.9,510.6 L765.0,500.7 L767.0,490.7 L769.0,480.5 L771.0,470.3 L773.0,459.9 L775.0,449.4 L777.0,438.8 L779.0,428.0" fill="none" stroke="#8927e6" stroke-width="3.5" stroke-linejoin="round"/>
<path d="M460.0,987.0 L462.0,980.3 L464.0,973.5 L466.0,966.8 L468.0,960.1 L470.0,953.4 L472.0,946.8 L474.0,940.1 L476.1,933.5 L478.1,926.9 L480.1,920.3 L482.1,913.7 L484.1,907.2 L486.1,900.6 L488.1,894.1 L490.1,887.6 L492.1,881.2 L494.1,874.7 L496.1,868.3 L498.1,861.9 L500.1,855.5 L502.1,849.1 L504.1,842.8 L506.1,836.5 L508.2,830.2 L510.2,824.0 L512.2,817.7 L514.2,811.5 L516.2,805.4 L518.2,799.2 L520.2,793.1 L522.2,787.0 L524.2,781.0 L526.2,774.9 L528.2,769.0 L530.2,763.0 L532.2,757.1 L534.2,751.2 L536.2,745.3 L538.2,739.5 L540.3,733.7 L542.3,727.9 L544.3,722.2 L546.3,716.5 L548.3,710.8 L550.3,705.2 L552.3,699.6 L554.3,694.0 L556.3,688.5 L558.3,683.0 L560.3,677.6 L562.3,672.2 L564.3,666.9 L566.3,661.5 L568.3,656.3 L570.3,651.0 L572.4,645.8 L574.4,640.7 L576.4,635.6 L578.4,630.5 L580.4,625.5 L582.4,620.5 L584.4,615.6 L586.4,610.7 L588.4,605.8 L590.4,601.0 L592.4,596.3 L594.4,591.6 L596.4,586.9 L598.4,582.3 L600.4,577.8 L602.4,573.3 L604.5,568.8 L606.5,564.4 L608.5,560.0 L610.5,555.7 L612.5,551.5 L614.5,547.3 L616.5,543.1 L618.5,539.0 L620.5,535.0 L622.5,531.0 L624.5,527.1 L626.5,523.2 L628.5,519.4 L630.5,515.6 L632.5,511.9 L634.5,508.2 L636.6,504.6 L638.6,501.1 L640.6,497.6 L642.6,494.2 L644.6,490.8 L646.6,487.5 L648.6,484.3 L650.6,481.1 L652.6,478.0 L654.6,475.0 L656.6,472.0 L658.6,469.0 L660.6,466.2 L662.6,463.4 L664.6,460.6 L666.6,458.0 L668.7,455.4 L670.7,452.8 L672.7,450.4 L674.7,448.0 L676.7,445.6 L678.7,443.4 L680.7,441.2 L682.7,439.0 L684.7,437.0 L686.7,435.0 L688.7,433.1 L690.7,431.2 L692.7,429.4 L694.7,428.0 L696.7,428.0 L698.7,428.0 L700.8,428.0 L702.8,428.0 L704.8,428.0 L706.8,428.0 L708.8,428.0 L710.8,428.0 L712.8,428.0 L714.8,428.0 L716.8,428.0 L718.8,428.0 L720.8,428.0 L722.8,428.0 L724.8,428.0 L726.8,428.0 L728.8,428.0 L730.8,428.0 L732.9,428.0 L734.9,428.0 L736.9,428.0 L738.9,428.0 L740.9,428.0 L742.9,428.0 L744.9,428.0 L746.9,428.0 L748.9,428.0 L750.9,428.0 L752.9,428.0 L754.9,428.0 L756.9,428.0 L758.9,428.0 L760.9,428.0 L762.9,428.0 L765.0,428.0 L767.0,428.0 L769.0,428.0 L771.0,428.0 L773.0,428.0 L775.0,428.0 L777.0,428.0 L779.0,428.0" fill="none" stroke="#8927e6" stroke-width="3.5" stroke-linejoin="round"/>
<path d="M460.0,987.0 L462.0,987.0 L464.0,987.0 L466.0,987.0 L468.0,987.0 L470.0,987.0 L472.0,987.0 L474.0,987.0 L476.1,987.0 L478.1,987.0 L480.1,986.8 L482.1,986.6 L484.1,986.3 L486.1,985.9 L488.1,985.5 L490.1,985.1 L492.1,984.6 L494.1,984.0 L496.1,983.5 L498.1,982.8 L500.1,982.2 L502.1,981.4 L504.1,980.7 L506.1,979.9 L508.2,979.0 L510.2,978.1 L512.2,977.1 L514.2,976.1 L516.2,975.1 L518.2,974.0 L520.2,972.9 L522.2,971.7 L524.2,970.5 L526.2,969.2 L528.2,967.9 L530.2,966.5 L532.2,965.1 L534.2,963.6 L536.2,962.1 L538.2,960.6 L540.3,959.0 L542.3,957.4 L544.3,955.7 L546.3,953.9 L548.3,952.1 L550.3,950.3 L552.3,948.4 L554.3,946.5 L556.3,944.5 L558.3,942.5 L560.3,940.5 L562.3,938.4 L564.3,936.2 L566.3,934.0 L568.3,931.7 L570.3,929.5 L572.4,927.1 L574.4,924.7 L576.4,922.3 L578.4,919.8 L580.4,917.3 L582.4,914.7 L584.4,912.1 L586.4,909.4 L588.4,906.7 L590.4,903.9 L592.4,901.1 L594.4,898.2 L596.4,895.3 L598.4,892.3 L600.4,889.3 L602.4,886.3 L604.5,883.2 L606.5,880.0 L608.5,876.9 L610.5,873.6 L612.5,870.3 L614.5,867.0 L616.5,863.6 L618.5,860.2 L620.5,856.7 L622.5,853.2 L624.5,849.6 L626.5,846.0 L628.5,842.3 L630.5,838.6 L632.5,834.8 L634.5,831.0 L636.6,827.1 L638.6,823.2 L640.6,819.2 L642.6,815.2 L644.6,811.2 L646.6,807.1 L648.6,802.9 L650.6,798.7 L652.6,794.5 L654.6,790.2 L656.6,785.8 L658.6,781.4 L660.6,777.0 L662.6,772.5 L664.6,768.0 L666.6,763.4 L668.7,758.7 L670.7,754.1 L672.7,749.3 L674.7,744.5 L676.7,739.7 L678.7,734.8 L680.7,729.9 L682.7,724.9 L684.7,719.9 L686.7,714.8 L688.7,709.7 L690.7,704.5 L692.7,699.3 L694.7,694.0 L696.7,688.7 L698.7,683.3 L700.8,677.9 L702.8,672.5 L704.8,666.9 L706.8,661.4 L708.8,655.8 L710.8,650.1 L712.8,644.4 L714.8,638.6 L716.8,632.8 L718.8,627.0 L720.8,621.0 L722.8,615.1 L724.8,609.1 L726.8,603.0 L728.8,596.9 L730.8,590.8 L732.9,584.5 L734.9,578.3 L736.9,572.0 L738.9,565.6 L740.9,559.2 L742.9,552.8 L744.9,546.3 L746.9,539.7 L748.9,533.1 L750.9,526.4 L752.9,519.7 L754.9,513.0 L756.9,506.2 L758.9,499.3 L760.9,492.4 L762.9,485.5 L765.0,478.4 L767.0,471.4 L769.0,464.3 L771.0,457.1 L773.0,449.9 L775.0,442.7 L777.0,435.4 L779.0,428.0" fill="none" stroke="#8927e6" stroke-width="3.5" stroke-linejoin="round"/>
<path d="M460.0,987.0 L462.0,987.0 L464.0,987.0 L466.0,987.0 L468.0,987.0 L470.0,987.0 L472.0,987.0 L474.0,987.0 L476.1,987.0 L478.1,987.0 L480.1,987.0 L482.1,987.0 L484.1,987.0 L486.1,987.0 L488.1,987.0 L490.1,987.0 L492.1,987.0 L494.1,987.0 L496.1,987.0 L498.1,987.0 L500.1,987.0 L502.1,987.0 L504.1,987.0 L506.1,987.0 L508.2,987.0 L510.2,987.0 L512.2,987.0 L514.2,987.0 L516.2,987.0 L518.2,987.0 L520.2,987.0 L522.2,987.0 L524.2,987.0 L526.2,987.0 L528.2,987.0 L530.2,987.0 L532.2,987.0 L534.2,987.0 L536.2,987.0 L538.2,987.0 L540.3,986.3 L542.3,985.1 L544.3,983.8 L546.3,982.4 L548.3,981.0 L550.3,979.5 L552.3,978.0 L554.3,976.4 L556.3,974.7 L558.3,973.0 L560.3,971.2 L562.3,969.3 L564.3,967.4 L566.3,965.5 L568.3,963.4 L570.3,961.4 L572.4,959.2 L574.4,957.0 L576.4,954.8 L578.4,952.4 L580.4,950.1 L582.4,947.6 L584.4,945.1 L586.4,942.6 L588.4,940.0 L590.4,937.3 L592.4,934.6 L594.4,931.8 L596.4,928.9 L598.4,926.0 L600.4,923.1 L602.4,920.0 L604.5,917.0 L606.5,913.8 L608.5,910.6 L610.5,907.4 L612.5,904.0 L614.5,900.7 L616.5,897.2 L618.5,893.7 L620.5,890.2 L622.5,886.6 L624.5,882.9 L626.5,879.2 L628.5,875.4 L630.5,871.6 L632.5,867.7 L634.5,863.7 L636.6,859.7 L638.6,855.6 L640.6,851.5 L642.6,847.3 L644.6,843.0 L646.6,838.7 L648.6,834.4 L650.6,829.9 L652.6,825.5 L654.6,820.9 L656.6,816.3 L658.6,811.7 L660.6,807.0 L662.6,802.2 L664.6,797.4 L666.6,792.5 L668.7,787.5 L670.7,782.5 L672.7,777.5 L674.7,772.4 L676.7,767.2 L678.7,762.0 L680.7,756.7 L682.7,751.3 L684.7,745.9 L686.7,740.5 L688.7,735.0 L690.7,729.4 L692.7,723.7 L694.7,718.1 L696.7,712.3 L698.7,706.5 L700.8,700.7 L702.8,694.7 L704.8,688.8 L706.8,682.7 L708.8,676.6 L710.8,670.5 L712.8,664.3 L714.8,658.0 L716.8,651.7 L718.8,645.4 L720.8,638.9 L722.8,632.4 L724.8,625.9 L726.8,619.3 L728.8,612.7 L730.8,605.9 L732.9,599.2 L734.9,592.4 L736.9,585.5 L738.9,578.5 L740.9,571.5 L742.9,564.5 L744.9,557.4 L746.9,550.2 L748.9,543.0 L750.9,535.7 L752.9,528.4 L754.9,521.0 L756.9,513.6 L758.9,506.1 L760.9,498.5 L762.9,490.9 L765.0,483.2 L767.0,475.5 L769.0,467.7 L771.0,459.9 L773.0,452.0 L775.0,444.1 L777.0,436.1 L779.0,428.0" fill="none" stroke="#8927e6" stroke-width="3.5" stroke-linejoin="round"/>
<path d="M460.0,987.0 L462.0,980.3 L464.0,973.6 L466.0,966.9 L468.0,960.3 L470.0,953.6 L472.0,946.9 L474.0,940.2 L476.1,933.5 L478.1,926.8 L480.1,920.1 L482.1,913.4 L484.1,906.8 L486.1,900.1 L488.1,893.4 L490.1,886.8 L492.1,880.1 L494.1,873.5 L496.1,866.9 L498.1,860.2 L500.1,853.6 L502.1,847.0 L504.1,840.5 L506.1,833.9 L508.2,827.3 L510.2,820.8 L512.2,814.3 L514.2,807.8 L516.2,801.3 L518.2,794.8 L520.2,788.4 L522.2,781.9 L524.2,775.5 L526.2,769.2 L528.2,762.8 L530.2,756.5 L532.2,750.1 L534.2,743.9 L536.2,737.6 L538.2,731.4 L540.3,725.2 L542.3,719.0 L544.3,712.8 L546.3,706.7 L548.3,700.7 L550.3,694.6 L552.3,688.6 L554.3,682.6 L556.3,676.7 L558.3,670.7 L560.3,664.9 L562.3,659.0 L564.3,653.2 L566.3,647.5 L568.3,641.7 L570.3,636.1 L572.4,630.4 L574.4,624.8 L576.4,619.3 L578.4,613.8 L580.4,608.3 L582.4,602.9 L584.4,597.5 L586.4,592.2 L588.4,586.9 L590.4,581.7 L592.4,576.5 L594.4,571.3 L596.4,566.3 L598.4,561.2 L600.4,556.3 L602.4,551.4 L604.5,546.5 L606.5,541.7 L608.5,536.9 L610.5,532.2 L612.5,527.6 L614.5,523.0 L616.5,518.5 L618.5,514.1 L620.5,509.7 L622.5,505.3 L624.5,501.1 L626.5,496.9 L628.5,492.7 L630.5,488.6 L632.5,484.6 L634.5,480.7 L636.6,476.8 L638.6,473.0 L640.6,469.3 L642.6,465.6 L644.6,462.0 L646.6,458.5 L648.6,455.1 L650.6,451.7 L652.6,448.4 L654.6,445.2 L656.6,442.0 L658.6,439.0 L660.6,436.0 L662.6,433.1 L664.6,430.2 L666.6,428.0 L668.7,428.0 L670.7,428.0 L672.7,428.0 L674.7,428.0 L676.7,428.0 L678.7,428.0 L680.7,428.0 L682.7,428.0 L684.7,428.0 L686.7,428.0 L688.7,428.0 L690.7,428.0 L692.7,428.0 L694.7,428.0 L696.7,428.0 L698.7,428.0 L700.8,428.0 L702.8,428.0 L704.8,428.0 L706.8,428.0 L708.8,428.0 L710.8,428.0 L712.8,428.0 L714.8,428.0 L716.8,428.0 L718.8,428.0 L720.8,428.0 L722.8,428.0 L724.8,428.0 L726.8,428.0 L728.8,428.0 L730.8,428.0 L732.9,428.0 L734.9,428.0 L736.9,428.0 L738.9,428.0 L740.9,428.0 L742.9,428.0 L744.9,428.0 L746.9,428.0 L748.9,428.0 L750.9,428.0 L752.9,428.0 L754.9,428.0 L756.9,428.0 L758.9,428.0 L760.9,428.0 L762.9,428.0 L765.0,428.0 L767.0,428.0 L769.0,428.0 L771.0,428.0 L773.0,428.0 L775.0,428.0 L777.0,428.0 L779.0,428.0" fill="none" stroke="#8927e6" stroke-width="3.5" stroke-linejoin="round"/>
<path d="M460.0,987.0 L462.0,986.4 L464.0,985.7 L466.0,985.0 L468.0,984.2 L470.0,983.5 L472.0,982.7 L474.0,981.9 L476.1,981.0 L478.1,980.2 L480.1,979.3 L482.1,978.3 L484.1,977.4 L486.1,976.4 L488.1,975.4 L490.1,974.3 L492.1,973.3 L494.1,972.1 L496.1,971.0 L498.1,969.8 L500.1,968.6 L502.1,967.4 L504.1,966.1 L506.1,964.9 L508.2,963.5 L510.2,962.2 L512.2,960.8 L514.2,959.4 L516.2,957.9 L518.2,956.4 L520.2,954.9 L522.2,953.4 L524.2,951.8 L526.2,950.2 L528.2,948.5 L530.2,946.9 L532.2,945.2 L534.2,943.4 L536.2,941.6 L538.2,939.8 L540.3,938.0 L542.3,936.1 L544.3,934.2 L546.3,932.2 L548.3,930.2 L550.3,928.2 L552.3,926.2 L554.3,924.1 L556.3,922.0 L558.3,919.8 L560.3,917.6 L562.3,915.4 L564.3,913.1 L566.3,910.8 L568.3,908.5 L570.3,906.1 L572.4,903.7 L574.4,901.2 L576.4,898.8 L578.4,896.2 L580.4,893.7 L582.4,891.1 L584.4,888.4 L586.4,885.8 L588.4,883.1 L590.4,880.3 L592.4,877.5 L594.4,874.7 L596.4,871.8 L598.4,868.9 L600.4,866.0 L602.4,863.0 L604.5,860.0 L606.5,856.9 L608.5,853.8 L610.5,850.7 L612.5,847.5 L614.5,844.3 L616.5,841.0 L618.5,837.7 L620.5,834.4 L622.5,831.0 L624.5,827.6 L626.5,824.1 L628.5,820.6 L630.5,817.1 L632.5,813.5 L634.5,809.9 L636.6,806.2 L638.6,802.5 L640.6,798.7 L642.6,794.9 L644.6,791.1 L646.6,787.2 L648.6,783.3 L650.6,779.3 L652.6,775.3 L654.6,771.2 L656.6,767.1 L658.6,763.0 L660.6,758.8 L662.6,754.6 L664.6,750.3 L666.6,746.0 L668.7,741.6 L670.7,737.2 L672.7,732.8 L674.7,728.3 L676.7,723.7 L678.7,719.1 L680.7,714.5 L682.7,709.8 L684.7,705.1 L686.7,700.3 L688.7,695.5 L690.7,690.6 L692.7,685.7 L694.7,680.7 L696.7,675.7 L698.7,670.7 L700.8,665.6 L702.8,660.4 L704.8,655.2 L706.8,650.0 L708.8,644.7 L710.8,639.4 L712.8,634.0 L714.8,628.5 L716.8,623.1 L718.8,617.5 L720.8,611.9 L722.8,606.3 L724.8,600.6 L726.8,594.9 L728.8,589.1 L730.8,583.3 L732.9,577.4 L734.9,571.5 L736.9,565.5 L738.9,559.5 L740.9,553.4 L742.9,547.3 L744.9,541.1 L746.9,534.8 L748.9,528.6 L750.9,522.2 L752.9,515.8 L754.9,509.4 L756.9,502.9 L758.9,496.3 L760.9,489.8 L762.9,483.1 L765.0,476.4 L767.0,469.6 L769.0,462.8 L771.0,456.0 L773.0,449.1 L775.0,442.1 L777.0,435.1 L779.0,428.0" fill="none" stroke="#8927e6" stroke-width="3.5" stroke-linejoin="round"/>
<path d="M460.0,987.0 L462.0,981.2 L464.0,975.5 L466.0,969.7 L468.0,964.0 L470.0,958.2 L472.0,952.5 L474.0,946.8 L476.1,941.1 L478.1,935.4 L480.1,929.7 L482.1,924.0 L484.1,918.3 L486.1,912.7 L488.1,907.0 L490.1,901.4 L492.1,895.7 L494.1,890.1 L496.1,884.5 L498.1,878.9 L500.1,873.3 L502.1,867.8 L504.1,862.2 L506.1,856.7 L508.2,851.1 L510.2,845.6 L512.2,840.2 L514.2,834.7 L516.2,829.2 L518.2,823.8 L520.2,818.4 L522.2,813.0 L524.2,807.6 L526.2,802.2 L528.2,796.9 L530.2,791.5 L532.2,786.2 L534.2,781.0 L536.2,775.7 L538.2,770.5 L540.3,765.2 L542.3,760.0 L544.3,754.9 L546.3,749.7 L548.3,744.6 L550.3,739.5 L552.3,734.4 L554.3,729.4 L556.3,724.4 L558.3,719.4 L560.3,714.4 L562.3,709.4 L564.3,704.5 L566.3,699.6 L568.3,694.8 L570.3,689.9 L572.4,685.1 L574.4,680.4 L576.4,675.6 L578.4,670.9 L580.4,666.2 L582.4,661.6 L584.4,657.0 L586.4,652.4 L588.4,647.8 L590.4,643.3 L592.4,638.8 L594.4,634.4 L596.4,629.9 L598.4,625.5 L600.4,621.2 L602.4,616.9 L604.5,612.6 L606.5,608.4 L608.5,604.2 L610.5,600.0 L612.5,595.9 L614.5,591.8 L616.5,587.7 L618.5,583.7 L620.5,579.7 L622.5,575.8 L624.5,571.9 L626.5,568.1 L628.5,564.3 L630.5,560.5 L632.5,556.8 L634.5,553.1 L636.6,549.4 L638.6,545.8 L640.6,542.3 L642.6,538.8 L644.6,535.3 L646.6,531.9 L648.6,528.5 L650.6,525.2 L652.6,521.9 L654.6,518.7 L656.6,515.5 L658.6,512.4 L660.6,509.3 L662.6,506.2 L664.6,503.2 L666.6,500.3 L668.7,497.4 L670.7,494.6 L672.7,491.8 L674.7,489.0 L676.7,486.3 L678.7,483.7 L680.7,481.1 L682.7,478.6 L684.7,476.1 L686.7,473.7 L688.7,471.3 L690.7,469.0 L692.7,466.7 L694.7,464.5 L696.7,462.4 L698.7,460.3 L700.8,458.3 L702.8,456.3 L704.8,454.4 L706.8,452.5 L708.8,450.7 L710.8,449.0 L712.8,447.3 L714.8,445.7 L716.8,444.1 L718.8,442.6 L720.8,441.2 L722.8,439.8 L724.8,438.5 L726.8,437.2 L728.8,436.0 L730.8,434.9 L732.9,433.8 L734.9,432.8 L736.9,431.9 L738.9,431.0 L740.9,430.2 L742.9,429.5 L744.9,428.8 L746.9,428.2 L748.9,428.0 L750.9,428.0 L752.9,428.0 L754.9,428.0 L756.9,428.0 L758.9,428.0 L760.9,428.0 L762.9,428.0 L765.0,428.0 L767.0,428.0 L769.0,428.0 L771.0,428.0 L773.0,428.0 L775.0,428.0 L777.0,428.0 L779.0,428.0" fill="none" stroke="#8927e6" stroke-width="3.5" stroke-linejoin="round"/>
<path d="M460.0,987.0 L462.0,984.9 L464.0,982.8 L466.0,980.7 L468.0,978.5 L470.0,976.3 L472.0,974.0 L474.0,971.6 L476.1,969.3 L478.1,966.9 L480.1,964.4 L482.1,962.0 L484.1,959.4 L486.1,956.9 L488.1,954.3 L490.1,951.6 L492.1,948.9 L494.1,946.2 L496.1,943.5 L498.1,940.7 L500.1,937.9 L502.1,935.0 L504.1,932.1 L506.1,929.2 L508.2,926.2 L510.2,923.2 L512.2,920.2 L514.2,917.1 L516.2,914.1 L518.2,910.9 L520.2,907.8 L522.2,904.6 L524.2,901.4 L526.2,898.1 L528.2,894.9 L530.2,891.6 L532.2,888.3 L534.2,884.9 L536.2,881.5 L538.2,878.1 L540.3,874.7 L542.3,871.2 L544.3,867.8 L546.3,864.3 L548.3,860.7 L550.3,857.2 L552.3,853.6 L554.3,850.0 L556.3,846.4 L558.3,842.7 L560.3,839.1 L562.3,835.4 L564.3,831.7 L566.3,828.0 L568.3,824.3 L570.3,820.5 L572.4,816.7 L574.4,812.9 L576.4,809.1 L578.4,805.3 L580.4,801.5 L582.4,797.6 L584.4,793.8 L586.4,789.9 L588.4,786.0 L590.4,782.1 L592.4,778.2 L594.4,774.2 L596.4,770.3 L598.4,766.3 L600.4,762.4 L602.4,758.4 L604.5,754.4 L606.5,750.4 L608.5,746.4 L610.5,742.4 L612.5,738.4 L614.5,734.4 L616.5,730.3 L618.5,726.3 L620.5,722.2 L622.5,718.2 L624.5,714.1 L626.5,710.1 L628.5,706.0 L630.5,702.0 L632.5,697.9 L634.5,693.8 L636.6,689.8 L638.6,685.7 L640.6,681.6 L642.6,677.6 L644.6,673.5 L646.6,669.4 L648.6,665.3 L650.6,661.3 L652.6,657.2 L654.6,653.2 L656.6,649.1 L658.6,645.0 L660.6,641.0 L662.6,636.9 L664.6,632.9 L666.6,628.9 L668.7,624.8 L670.7,620.8 L672.7,616.8 L674.7,612.8 L676.7,608.8 L678.7,604.8 L680.7,600.9 L682.7,596.9 L684.7,592.9 L686.7,589.0 L688.7,585.1 L690.7,581.1 L692.7,577.2 L694.7,573.3 L696.7,569.4 L698.7,565.6 L700.8,561.7 L702.8,557.9 L704.8,554.1 L706.8,550.2 L708.8,546.5 L710.8,542.7 L712.8,538.9 L714.8,535.2 L716.8,531.5 L718.8,527.8 L720.8,524.1 L722.8,520.4 L724.8,516.8 L726.8,513.1 L728.8,509.5 L730.8,506.0 L732.9,502.4 L734.9,498.9 L736.9,495.4 L738.9,491.9 L740.9,488.4 L742.9,485.0 L744.9,481.6 L746.9,478.2 L748.9,474.8 L750.9,471.5 L752.9,468.2 L754.9,464.9 L756.9,461.7 L758.9,458.5 L760.9,455.3 L762.9,452.1 L765.0,449.0 L767.0,445.9 L769.0,442.8 L771.0,439.8 L773.0,436.8 L775.0,433.8 L777.0,430.9 L779.0,428.0" fill="none" stroke="#8927e6" stroke-width="3.5" stroke-linejoin="round"/>
<path d="M460.0,987.0 L462.0,983.5 L464.0,980.0 L466.0,976.5 L468.0,972.9 L470.0,969.3 L472.0,965.6 L474.0,961.9 L476.1,958.2 L478.1,954.4 L480.1,950.6 L482.1,946.8 L484.1,942.9 L486.1,939.0 L488.1,935.0 L490.1,931.1 L492.1,927.1 L494.1,923.0 L496.1,919.0 L498.1,914.9 L500.1,910.8 L502.1,906.7 L504.1,902.5 L506.1,898.3 L508.2,894.1 L510.2,889.9 L512.2,885.6 L514.2,881.3 L516.2,877.0 L518.2,872.7 L520.2,868.4 L522.2,864.0 L524.2,859.7 L526.2,855.3 L528.2,850.9 L530.2,846.4 L532.2,842.0 L534.2,837.5 L536.2,833.1 L538.2,828.6 L540.3,824.1 L542.3,819.6 L544.3,815.1 L546.3,810.6 L548.3,806.1 L550.3,801.5 L552.3,797.0 L554.3,792.4 L556.3,787.9 L558.3,783.3 L560.3,778.8 L562.3,774.2 L564.3,769.6 L566.3,765.1 L568.3,760.5 L570.3,755.9 L572.4,751.3 L574.4,746.8 L576.4,742.2 L578.4,737.6 L580.4,733.1 L582.4,728.5 L584.4,724.0 L586.4,719.4 L588.4,714.9 L590.4,710.4 L592.4,705.8 L594.4,701.3 L596.4,696.8 L598.4,692.3 L600.4,687.9 L602.4,683.4 L604.5,678.9 L606.5,674.5 L608.5,670.1 L610.5,665.7 L612.5,661.3 L614.5,656.9 L616.5,652.5 L618.5,648.2 L620.5,643.9 L622.5,639.5 L624.5,635.3 L626.5,631.0 L628.5,626.8 L630.5,622.5 L632.5,618.3 L634.5,614.2 L636.6,610.0 L638.6,605.9 L640.6,601.8 L642.6,597.8 L644.6,593.7 L646.6,589.7 L648.6,585.7 L650.6,581.8 L652.6,577.9 L654.6,574.0 L656.6,570.1 L658.6,566.3 L660.6,562.6 L662.6,558.8 L664.6,555.1 L666.6,551.4 L668.7,547.8 L670.7,544.2 L672.7,540.6 L674.7,537.1 L676.7,533.6 L678.7,530.2 L680.7,526.8 L682.7,523.4 L684.7,520.1 L686.7,516.9 L688.7,513.7 L690.7,510.5 L692.7,507.4 L694.7,504.3 L696.7,501.2 L698.7,498.3 L700.8,495.3 L702.8,492.5 L704.8,489.6 L706.8,486.8 L708.8,484.1 L710.8,481.4 L712.8,478.8 L714.8,476.3 L716.8,473.8 L718.8,471.3 L720.8,468.9 L722.8,466.6 L724.8,464.3 L726.8,462.1 L728.8,459.9 L730.8,457.8 L732.9,455.8 L734.9,453.8 L736.9,451.9 L738.9,450.1 L740.9,448.3 L742.9,446.6 L744.9,445.0 L746.9,443.4 L748.9,441.9 L750.9,440.5 L752.9,439.1 L754.9,437.8 L756.9,436.6 L758.9,435.4 L760.9,434.3 L762.9,433.3 L765.0,432.4 L767.0,431.5 L769.0,430.7 L771.0,430.0 L773.0,429.4 L775.0,428.9 L777.0,428.4 L779.0,428.0" fill="none" stroke="#8927e6" stroke-width="3.5" stroke-linejoin="round"/>
<path d="M460.0,987.0 L462.0,987.0 L464.0,987.0 L466.0,987.0 L468.0,987.0 L470.0,987.0 L472.0,987.0 L474.0,987.0 L476.1,987.0 L478.1,987.0 L480.1,987.0 L482.1,987.0 L484.1,987.0 L486.1,987.0 L488.1,987.0 L490.1,987.0 L492.1,987.0 L494.1,987.0 L496.1,987.0 L498.1,987.0 L500.1,987.0 L502.1,987.0 L504.1,987.0 L506.1,987.0 L508.2,987.0 L510.2,987.0 L512.2,987.0 L514.2,987.0 L516.2,987.0 L518.2,987.0 L520.2,987.0 L522.2,987.0 L524.2,987.0 L526.2,987.0 L528.2,987.0 L530.2,987.0 L532.2,987.0 L534.2,987.0 L536.2,986.3 L538.2,985.3 L540.3,984.3 L542.3,983.2 L544.3,982.1 L546.3,980.9 L548.3,979.7 L550.3,978.4 L552.3,977.1 L554.3,975.7 L556.3,974.3 L558.3,972.8 L560.3,971.3 L562.3,969.7 L564.3,968.0 L566.3,966.3 L568.3,964.5 L570.3,962.7 L572.4,960.8 L574.4,958.9 L576.4,956.9 L578.4,954.9 L580.4,952.8 L582.4,950.6 L584.4,948.4 L586.4,946.2 L588.4,943.8 L590.4,941.5 L592.4,939.0 L594.4,936.5 L596.4,934.0 L598.4,931.4 L600.4,928.7 L602.4,926.0 L604.5,923.2 L606.5,920.3 L608.5,917.4 L610.5,914.5 L612.5,911.4 L614.5,908.3 L616.5,905.2 L618.5,902.0 L620.5,898.7 L622.5,895.4 L624.5,892.0 L626.5,888.5 L628.5,885.0 L630.5,881.4 L632.5,877.8 L634.5,874.1 L636.6,870.3 L638.6,866.5 L640.6,862.6 L642.6,858.7 L644.6,854.6 L646.6,850.6 L648.6,846.4 L650.6,842.2 L652.6,837.9 L654.6,833.6 L656.6,829.2 L658.6,824.7 L660.6,820.2 L662.6,815.6 L664.6,810.9 L666.6,806.2 L668.7,801.4 L670.7,796.5 L672.7,791.6 L674.7,786.6 L676.7,781.5 L678.7,776.3 L680.7,771.1 L682.7,765.9 L684.7,760.5 L686.7,755.1 L688.7,749.6 L690.7,744.1 L692.7,738.5 L694.7,732.8 L696.7,727.0 L698.7,721.2 L700.8,715.3 L702.8,709.3 L704.8,703.3 L706.8,697.2 L708.8,691.0 L710.8,684.7 L712.8,678.4 L714.8,672.0 L716.8,665.6 L718.8,659.0 L720.8,652.4 L722.8,645.7 L724.8,639.0 L726.8,632.1 L728.8,625.2 L730.8,618.2 L732.9,611.2 L734.9,604.1 L736.9,596.9 L738.9,589.6 L740.9,582.2 L742.9,574.8 L744.9,567.3 L746.9,559.7 L748.9,552.1 L750.9,544.3 L752.9,536.5 L754.9,528.7 L756.9,520.7 L758.9,512.7 L760.9,504.5 L762.9,496.3 L765.0,488.1 L767.0,479.7 L769.0,471.3 L771.0,462.8 L773.0,454.2 L775.0,445.6 L777.0,436.8 L779.0,428.0" fill="none" stroke="#8927e6" stroke-width="3.5" stroke-linejoin="round"/>
<path d="M460.0,987.0 L462.0,981.1 L464.0,975.2 L466.0,969.3 L468.0,963.4 L470.0,957.5 L472.0,951.6 L474.0,945.8 L476.1,939.9 L478.1,934.0 L480.1,928.2 L482.1,922.4 L484.1,916.5 L486.1,910.7 L488.1,904.9 L490.1,899.1 L492.1,893.3 L494.1,887.5 L496.1,881.7 L498.1,876.0 L500.1,870.2 L502.1,864.5 L504.1,858.8 L506.1,853.1 L508.2,847.4 L510.2,841.7 L512.2,836.1 L514.2,830.5 L516.2,824.8 L518.2,819.2 L520.2,813.7 L522.2,808.1 L524.2,802.5 L526.2,797.0 L528.2,791.5 L530.2,786.0 L532.2,780.6 L534.2,775.1 L536.2,769.7 L538.2,764.3 L540.3,758.9 L542.3,753.6 L544.3,748.2 L546.3,742.9 L548.3,737.7 L550.3,732.4 L552.3,727.2 L554.3,722.0 L556.3,716.8 L558.3,711.6 L560.3,706.5 L562.3,701.4 L564.3,696.4 L566.3,691.4 L568.3,686.4 L570.3,681.4 L572.4,676.4 L574.4,671.5 L576.4,666.7 L578.4,661.8 L580.4,657.0 L582.4,652.2 L584.4,647.5 L586.4,642.8 L588.4,638.1 L590.4,633.5 L592.4,628.9 L594.4,624.3 L596.4,619.8 L598.4,615.3 L600.4,610.8 L602.4,606.4 L604.5,602.1 L606.5,597.7 L608.5,593.4 L610.5,589.2 L612.5,585.0 L614.5,580.8 L616.5,576.7 L618.5,572.6 L620.5,568.5 L622.5,564.5 L624.5,560.6 L626.5,556.7 L628.5,552.8 L630.5,549.0 L632.5,545.2 L634.5,541.5 L636.6,537.8 L638.6,534.2 L640.6,530.6 L642.6,527.0 L644.6,523.6 L646.6,520.1 L648.6,516.7 L650.6,513.4 L652.6,510.1 L654.6,506.9 L656.6,503.7 L658.6,500.6 L660.6,497.5 L662.6,494.5 L664.6,491.5 L666.6,488.6 L668.7,485.7 L670.7,482.9 L672.7,480.2 L674.7,477.5 L676.7,474.8 L678.7,472.3 L680.7,469.8 L682.7,467.3 L684.7,464.9 L686.7,462.6 L688.7,460.3 L690.7,458.1 L692.7,455.9 L694.7,453.8 L696.7,451.8 L698.7,449.8 L700.8,447.9 L702.8,446.0 L704.8,444.3 L706.8,442.5 L708.8,440.9 L710.8,439.3 L712.8,437.8 L714.8,436.3 L716.8,434.9 L718.8,433.6 L720.8,432.4 L722.8,431.2 L724.8,430.1 L726.8,429.0 L728.8,428.1 L730.8,428.0 L732.9,428.0 L734.9,428.0 L736.9,428.0 L738.9,428.0 L740.9,428.0 L742.9,428.0 L744.9,428.0 L746.9,428.0 L748.9,428.0 L750.9,428.0 L752.9,428.0 L754.9,428.0 L756.9,428.0 L758.9,428.0 L760.9,428.0 L762.9,428.0 L765.0,428.0 L767.0,428.0 L769.0,428.0 L771.0,428.0 L773.0,428.0 L775.0,428.0 L777.0,428.0 L779.0,428.0" fill="none" stroke="#8927e6" stroke-width="3.5" stroke-linejoin="round"/>
<path d="M460.0,987.0 L462.0,980.4 L464.0,973.8 L466.0,967.2 L468.0,960.6 L470.0,954.0 L472.0,947.4 L474.0,940.8 L476.1,934.2 L478.1,927.7 L480.1,921.1 L482.1,914.6 L484.1,908.0 L486.1,901.5 L488.1,895.0 L490.1,888.4 L492.1,882.0 L494.1,875.5 L496.1,869.0 L498.1,862.5 L500.1,856.1 L502.1,849.7 L504.1,843.3 L506.1,836.9 L508.2,830.5 L510.2,824.1 L512.2,817.8 L514.2,811.5 L516.2,805.2 L518.2,798.9 L520.2,792.7 L522.2,786.4 L524.2,780.2 L526.2,774.0 L528.2,767.9 L530.2,761.8 L532.2,755.7 L534.2,749.6 L536.2,743.5 L538.2,737.5 L540.3,731.5 L542.3,725.5 L544.3,719.6 L546.3,713.7 L548.3,707.8 L550.3,702.0 L552.3,696.2 L554.3,690.4 L556.3,684.7 L558.3,679.0 L560.3,673.3 L562.3,667.7 L564.3,662.1 L566.3,656.6 L568.3,651.1 L570.3,645.6 L572.4,640.2 L574.4,634.8 L576.4,629.4 L578.4,624.1 L580.4,618.8 L582.4,613.6 L584.4,608.4 L586.4,603.3 L588.4,598.2 L590.4,593.2 L592.4,588.2 L594.4,583.3 L596.4,578.4 L598.4,573.5 L600.4,568.7 L602.4,564.0 L604.5,559.3 L606.5,554.7 L608.5,550.1 L610.5,545.5 L612.5,541.1 L614.5,536.6 L616.5,532.3 L618.5,528.0 L620.5,523.7 L622.5,519.5 L624.5,515.4 L626.5,511.3 L628.5,507.3 L630.5,503.3 L632.5,499.4 L634.5,495.6 L636.6,491.8 L638.6,488.1 L640.6,484.5 L642.6,480.9 L644.6,477.4 L646.6,473.9 L648.6,470.5 L650.6,467.2 L652.6,464.0 L654.6,460.8 L656.6,457.7 L658.6,454.7 L660.6,451.7 L662.6,448.8 L664.6,446.0 L666.6,443.2 L668.7,440.6 L670.7,438.0 L672.7,435.5 L674.7,433.0 L676.7,430.6 L678.7,428.3 L680.7,428.0 L682.7,428.0 L684.7,428.0 L686.7,428.0 L688.7,428.0 L690.7,428.0 L692.7,428.0 L694.7,428.0 L696.7,428.0 L698.7,428.0 L700.8,428.0 L702.8,428.0 L704.8,428.0 L706.8,428.0 L708.8,428.0 L710.8,428.0 L712.8,428.0 L714.8,428.0 L716.8,428.0 L718.8,428.0 L720.8,428.0 L722.8,428.0 L724.8,428.0 L726.8,428.0 L728.8,428.0 L730.8,428.0 L732.9,428.0 L734.9,428.0 L736.9,428.0 L738.9,428.0 L740.9,428.0 L742.9,428.0 L744.9,428.0 L746.9,428.0 L748.9,428.0 L750.9,428.0 L752.9,428.0 L754.9,428.0 L756.9,428.0 L758.9,428.0 L760.9,428.0 L762.9,428.0 L765.0,428.0 L767.0,428.0 L769.0,428.0 L771.0,428.0 L773.0,428.0 L775.0,428.0 L777.0,428.0 L779.0,428.0" fill="none" stroke="#8927e6" stroke-width="3.5" stroke-linejoin="round"/>
<path d="M460.0,987.0 L462.0,987.0 L464.0,987.0 L466.0,987.0 L468.0,987.0 L470.0,987.0 L472.0,987.0 L474.0,987.0 L476.1,987.0 L478.1,987.0 L480.1,987.0 L482.1,986.8 L484.1,986.5 L486.1,986.2 L488.1,985.8 L490.1,985.4 L492.1,985.0 L494.1,984.5 L496.1,984.0 L498.1,983.4 L500.1,982.8 L502.1,982.1 L504.1,981.4 L506.1,980.7 L508.2,979.9 L510.2,979.0 L512.2,978.1 L514.2,977.2 L516.2,976.2 L518.2,975.2 L520.2,974.2 L522.2,973.1 L524.2,971.9 L526.2,970.7 L528.2,969.5 L530.2,968.2 L532.2,966.9 L534.2,965.5 L536.2,964.1 L538.2,962.6 L540.3,961.1 L542.3,959.6 L544.3,958.0 L546.3,956.3 L548.3,954.6 L550.3,952.9 L552.3,951.1 L554.3,949.3 L556.3,947.4 L558.3,945.5 L560.3,943.5 L562.3,941.5 L564.3,939.4 L566.3,937.3 L568.3,935.2 L570.3,933.0 L572.4,930.7 L574.4,928.4 L576.4,926.1 L578.4,923.7 L580.4,921.2 L582.4,918.7 L584.4,916.2 L586.4,913.6 L588.4,911.0 L590.4,908.3 L592.4,905.6 L594.4,902.8 L596.4,900.0 L598.4,897.1 L600.4,894.2 L602.4,891.2 L604.5,888.2 L606.5,885.1 L608.5,882.0 L610.5,878.9 L612.5,875.7 L614.5,872.4 L616.5,869.1 L618.5,865.7 L620.5,862.3 L622.5,858.8 L624.5,855.3 L626.5,851.8 L628.5,848.2 L630.5,844.5 L632.5,840.8 L634.5,837.0 L636.6,833.2 L638.6,829.4 L640.6,825.5 L642.6,821.5 L644.6,817.5 L646.6,813.4 L648.6,809.3 L650.6,805.1 L652.6,800.9 L654.6,796.7 L656.6,792.3 L658.6,788.0 L660.6,783.6 L662.6,779.1 L664.6,774.6 L666.6,770.0 L668.7,765.4 L670.7,760.7 L672.7,755.9 L674.7,751.2 L676.7,746.3 L678.7,741.4 L680.7,736.5 L682.7,731.5 L684.7,726.5 L686.7,721.4 L688.7,716.2 L690.7,711.0 L692.7,705.7 L694.7,700.4 L696.7,695.1 L698.7,689.6 L700.8,684.2 L702.8,678.7 L704.8,673.1 L706.8,667.4 L708.8,661.8 L710.8,656.0 L712.8,650.2 L714.8,644.4 L716.8,638.5 L718.8,632.5 L720.8,626.5 L722.8,620.4 L724.8,614.3 L726.8,608.1 L728.8,601.9 L730.8,595.6 L732.9,589.3 L734.9,582.9 L736.9,576.4 L738.9,569.9 L740.9,563.4 L742.9,556.7 L744.9,550.1 L746.9,543.3 L748.9,536.6 L750.9,529.7 L752.9,522.8 L754.9,515.9 L756.9,508.9 L758.9,501.8 L760.9,494.7 L762.9,487.5 L765.0,480.2 L767.0,473.0 L769.0,465.6 L771.0,458.2 L773.0,450.7 L775.0,443.2 L777.0,435.6 L779.0,428.0" fill="none" stroke="#8927e6" stroke-width="3.5" stroke-linejoin="round"/>
<path d="M460.0,987.0 L462.0,984.3 L464.0,981.5 L466.0,978.7 L468.0,975.9 L470.0,973.0 L472.0,970.0 L474.0,967.0 L476.1,963.9 L478.1,960.8 L480.1,957.7 L482.1,954.5 L484.1,951.2 L486.1,947.9 L488.1,944.6 L490.1,941.2 L492.1,937.8 L494.1,934.3 L496.1,930.8 L498.1,927.3 L500.1,923.7 L502.1,920.1 L504.1,916.4 L506.1,912.7 L508.2,909.0 L510.2,905.2 L512.2,901.4 L514.2,897.6 L516.2,893.7 L518.2,889.8 L520.2,885.9 L522.2,882.0 L524.2,878.0 L526.2,874.0 L528.2,869.9 L530.2,865.9 L532.2,861.8 L534.2,857.6 L536.2,853.5 L538.2,849.3 L540.3,845.2 L542.3,840.9 L544.3,836.7 L546.3,832.5 L548.3,828.2 L550.3,823.9 L552.3,819.6 L554.3,815.3 L556.3,811.0 L558.3,806.6 L560.3,802.2 L562.3,797.9 L564.3,793.5 L566.3,789.1 L568.3,784.7 L570.3,780.2 L572.4,775.8 L574.4,771.4 L576.4,766.9 L578.4,762.5 L580.4,758.0 L582.4,753.6 L584.4,749.1 L586.4,744.6 L588.4,740.1 L590.4,735.7 L592.4,731.2 L594.4,726.7 L596.4,722.3 L598.4,717.8 L600.4,713.3 L602.4,708.8 L604.5,704.4 L606.5,699.9 L608.5,695.5 L610.5,691.0 L612.5,686.6 L614.5,682.2 L616.5,677.8 L618.5,673.4 L620.5,669.0 L622.5,664.6 L624.5,660.2 L626.5,655.9 L628.5,651.5 L630.5,647.2 L632.5,642.9 L634.5,638.6 L636.6,634.3 L638.6,630.1 L640.6,625.8 L642.6,621.6 L644.6,617.4 L646.6,613.2 L648.6,609.1 L650.6,604.9 L652.6,600.8 L654.6,596.8 L656.6,592.7 L658.6,588.7 L660.6,584.7 L662.6,580.7 L664.6,576.8 L666.6,572.9 L668.7,569.0 L670.7,565.1 L672.7,561.3 L674.7,557.6 L676.7,553.8 L678.7,550.1 L680.7,546.4 L682.7,542.8 L684.7,539.2 L686.7,535.6 L688.7,532.1 L690.7,528.6 L692.7,525.2 L694.7,521.8 L696.7,518.4 L698.7,515.1 L700.8,511.8 L702.8,508.6 L704.8,505.5 L706.8,502.3 L708.8,499.2 L710.8,496.2 L712.8,493.2 L714.8,490.3 L716.8,487.4 L718.8,484.6 L720.8,481.8 L722.8,479.1 L724.8,476.4 L726.8,473.8 L728.8,471.2 L730.8,468.7 L732.9,466.3 L734.9,463.9 L736.9,461.6 L738.9,459.3 L740.9,457.1 L742.9,455.0 L744.9,452.9 L746.9,450.9 L748.9,448.9 L750.9,447.1 L752.9,445.2 L754.9,443.5 L756.9,441.8 L758.9,440.2 L760.9,438.6 L762.9,437.2 L765.0,435.8 L767.0,434.4 L769.0,433.2 L771.0,432.0 L773.0,430.9 L775.0,429.8 L777.0,428.9 L779.0,428.0" fill="none" stroke="#8927e6" stroke-width="3.5" stroke-linejoin="round"/>
<path d="M460.0,987.0 L462.0,986.9 L464.0,986.8 L466.0,986.6 L468.0,986.3 L470.0,986.0 L472.0,985.6 L474.0,985.2 L476.1,984.8 L478.1,984.3 L480.1,983.7 L482.1,983.1 L484.1,982.4 L486.1,981.7 L488.1,981.0 L490.1,980.2 L492.1,979.3 L494.1,978.4 L496.1,977.4 L498.1,976.4 L500.1,975.4 L502.1,974.3 L504.1,973.1 L506.1,971.9 L508.2,970.7 L510.2,969.4 L512.2,968.0 L514.2,966.6 L516.2,965.2 L518.2,963.7 L520.2,962.2 L522.2,960.6 L524.2,958.9 L526.2,957.3 L528.2,955.5 L530.2,953.8 L532.2,952.0 L534.2,950.1 L536.2,948.2 L538.2,946.2 L540.3,944.2 L542.3,942.2 L544.3,940.1 L546.3,937.9 L548.3,935.8 L550.3,933.5 L552.3,931.3 L554.3,928.9 L556.3,926.6 L558.3,924.2 L560.3,921.7 L562.3,919.2 L564.3,916.7 L566.3,914.1 L568.3,911.5 L570.3,908.8 L572.4,906.1 L574.4,903.4 L576.4,900.6 L578.4,897.7 L580.4,894.9 L582.4,891.9 L584.4,889.0 L586.4,886.0 L588.4,882.9 L590.4,879.8 L592.4,876.7 L594.4,873.5 L596.4,870.3 L598.4,867.1 L600.4,863.8 L602.4,860.4 L604.5,857.1 L606.5,853.6 L608.5,850.2 L610.5,846.7 L612.5,843.2 L614.5,839.6 L616.5,836.0 L618.5,832.3 L620.5,828.6 L622.5,824.9 L624.5,821.1 L626.5,817.3 L628.5,813.5 L630.5,809.6 L632.5,805.7 L634.5,801.7 L636.6,797.7 L638.6,793.7 L640.6,789.6 L642.6,785.5 L644.6,781.4 L646.6,777.2 L648.6,772.9 L650.6,768.7 L652.6,764.4 L654.6,760.1 L656.6,755.7 L658.6,751.3 L660.6,746.9 L662.6,742.4 L664.6,737.9 L666.6,733.3 L668.7,728.8 L670.7,724.2 L672.7,719.5 L674.7,714.8 L676.7,710.1 L678.7,705.4 L680.7,700.6 L682.7,695.8 L684.7,690.9 L686.7,686.0 L688.7,681.1 L690.7,676.2 L692.7,671.2 L694.7,666.2 L696.7,661.1 L698.7,656.0 L700.8,650.9 L702.8,645.8 L704.8,640.6 L706.8,635.4 L708.8,630.1 L710.8,624.9 L712.8,619.5 L714.8,614.2 L716.8,608.8 L718.8,603.4 L720.8,598.0 L722.8,592.6 L724.8,587.1 L726.8,581.5 L728.8,576.0 L730.8,570.4 L732.9,564.8 L734.9,559.2 L736.9,553.5 L738.9,547.8 L740.9,542.1 L742.9,536.3 L744.9,530.5 L746.9,524.7 L748.9,518.9 L750.9,513.0 L752.9,507.1 L754.9,501.2 L756.9,495.2 L758.9,489.3 L760.9,483.3 L762.9,477.2 L765.0,471.2 L767.0,465.1 L769.0,459.0 L771.0,452.8 L773.0,446.7 L775.0,440.5 L777.0,434.2 L779.0,428.0" fill="none" stroke="#8927e6" stroke-width="3.5" stroke-linejoin="round"/>
<path d="M460.0,987.0 L462.0,980.8 L464.0,974.6 L466.0,968.5 L468.0,962.3 L470.0,956.1 L472.0,950.0 L474.0,943.8 L476.1,937.7 L478.1,931.5 L480.1,925.4 L482.1,919.3 L484.1,913.2 L486.1,907.1 L488.1,901.0 L490.1,894.9 L492.1,888.8 L494.1,882.8 L496.1,876.7 L498.1,870.7 L500.1,864.7 L502.1,858.7 L504.1,852.7 L506.1,846.8 L508.2,840.8 L510.2,834.9 L512.2,829.0 L514.2,823.1 L516.2,817.2 L518.2,811.4 L520.2,805.5 L522.2,799.7 L524.2,793.9 L526.2,788.1 L528.2,782.4 L530.2,776.7 L532.2,770.9 L534.2,765.3 L536.2,759.6 L538.2,754.0 L540.3,748.4 L542.3,742.8 L544.3,737.2 L546.3,731.7 L548.3,726.2 L550.3,720.8 L552.3,715.3 L554.3,709.9 L556.3,704.5 L558.3,699.2 L560.3,693.9 L562.3,688.6 L564.3,683.3 L566.3,678.1 L568.3,672.9 L570.3,667.8 L572.4,662.6 L574.4,657.6 L576.4,652.5 L578.4,647.5 L580.4,642.5 L582.4,637.6 L584.4,632.7 L586.4,627.8 L588.4,623.0 L590.4,618.2 L592.4,613.5 L594.4,608.8 L596.4,604.2 L598.4,599.5 L600.4,595.0 L602.4,590.4 L604.5,586.0 L606.5,581.5 L608.5,577.1 L610.5,572.8 L612.5,568.5 L614.5,564.2 L616.5,560.0 L618.5,555.8 L620.5,551.7 L622.5,547.7 L624.5,543.6 L626.5,539.7 L628.5,535.8 L630.5,531.9 L632.5,528.1 L634.5,524.3 L636.6,520.6 L638.6,517.0 L640.6,513.4 L642.6,509.8 L644.6,506.3 L646.6,502.9 L648.6,499.5 L650.6,496.2 L652.6,493.0 L654.6,489.7 L656.6,486.6 L658.6,483.5 L660.6,480.5 L662.6,477.5 L664.6,474.6 L666.6,471.8 L668.7,469.0 L670.7,466.3 L672.7,463.6 L674.7,461.0 L676.7,458.5 L678.7,456.0 L680.7,453.6 L682.7,451.3 L684.7,449.0 L686.7,446.8 L688.7,444.7 L690.7,442.6 L692.7,440.6 L694.7,438.7 L696.7,436.9 L698.7,435.1 L700.8,433.4 L702.8,431.7 L704.8,430.1 L706.8,428.7 L708.8,428.0 L710.8,428.0 L712.8,428.0 L714.8,428.0 L716.8,428.0 L718.8,428.0 L720.8,428.0 L722.8,428.0 L724.8,428.0 L726.8,428.0 L728.8,428.0 L730.8,428.0 L732.9,428.0 L734.9,428.0 L736.9,428.0 L738.9,428.0 L740.9,428.0 L742.9,428.0 L744.9,428.0 L746.9,428.0 L748.9,428.0 L750.9,428.0 L752.9,428.0 L754.9,428.0 L756.9,428.0 L758.9,428.0 L760.9,428.0 L762.9,428.0 L765.0,428.0 L767.0,428.0 L769.0,428.0 L771.0,428.0 L773.0,428.0 L775.0,428.0 L777.0,428.0 L779.0,428.0" fill="none" stroke="#8927e6" stroke-width="3.5" stroke-linejoin="round"/>
<path d="M460.0,987.0 L462.0,987.0 L464.0,987.0 L466.0,987.0 L468.0,987.0 L470.0,987.0 L472.0,987.0 L474.0,987.0 L476.1,987.0 L478.1,987.0 L480.1,987.0 L482.1,987.0 L484.1,987.0 L486.1,987.0 L488.1,986.8 L490.1,986.5 L492.1,986.2 L494.1,985.9 L496.1,985.5 L498.1,985.1 L500.1,984.6 L502.1,984.1 L504.1,983.6 L506.1,983.1 L508.2,982.5 L510.2,981.8 L512.2,981.1 L514.2,980.4 L516.2,979.7 L518.2,978.9 L520.2,978.0 L522.2,977.2 L524.2,976.3 L526.2,975.3 L528.2,974.3 L530.2,973.3 L532.2,972.2 L534.2,971.1 L536.2,969.9 L538.2,968.7 L540.3,967.5 L542.3,966.2 L544.3,964.8 L546.3,963.5 L548.3,962.1 L550.3,960.6 L552.3,959.1 L554.3,957.5 L556.3,955.9 L558.3,954.3 L560.3,952.6 L562.3,950.9 L564.3,949.1 L566.3,947.2 L568.3,945.4 L570.3,943.5 L572.4,941.5 L574.4,939.5 L576.4,937.4 L578.4,935.3 L580.4,933.1 L582.4,930.9 L584.4,928.6 L586.4,926.3 L588.4,924.0 L590.4,921.6 L592.4,919.1 L594.4,916.6 L596.4,914.0 L598.4,911.4 L600.4,908.8 L602.4,906.0 L604.5,903.3 L606.5,900.4 L608.5,897.6 L610.5,894.6 L612.5,891.7 L614.5,888.6 L616.5,885.5 L618.5,882.4 L620.5,879.2 L622.5,875.9 L624.5,872.6 L626.5,869.3 L628.5,865.8 L630.5,862.4 L632.5,858.8 L634.5,855.2 L636.6,851.6 L638.6,847.9 L640.6,844.1 L642.6,840.3 L644.6,836.4 L646.6,832.5 L648.6,828.5 L650.6,824.4 L652.6,820.3 L654.6,816.1 L656.6,811.9 L658.6,807.6 L660.6,803.3 L662.6,798.8 L664.6,794.4 L666.6,789.8 L668.7,785.2 L670.7,780.5 L672.7,775.8 L674.7,771.0 L676.7,766.2 L678.7,761.3 L680.7,756.3 L682.7,751.2 L684.7,746.1 L686.7,741.0 L688.7,735.7 L690.7,730.4 L692.7,725.1 L694.7,719.6 L696.7,714.1 L698.7,708.6 L700.8,702.9 L702.8,697.2 L704.8,691.5 L706.8,685.6 L708.8,679.7 L710.8,673.7 L712.8,667.7 L714.8,661.6 L716.8,655.4 L718.8,649.2 L720.8,642.9 L722.8,636.5 L724.8,630.0 L726.8,623.5 L728.8,616.9 L730.8,610.2 L732.9,603.5 L734.9,596.7 L736.9,589.8 L738.9,582.8 L740.9,575.8 L742.9,568.7 L744.9,561.5 L746.9,554.3 L748.9,546.9 L750.9,539.5 L752.9,532.1 L754.9,524.5 L756.9,516.9 L758.9,509.2 L760.9,501.4 L762.9,493.6 L765.0,485.6 L767.0,477.6 L769.0,469.6 L771.0,461.4 L773.0,453.2 L775.0,444.9 L777.0,436.5 L779.0,428.0" fill="none" stroke="#8927e6" stroke-width="3.5" stroke-linejoin="round"/>
<path d="M460.0,987.0 L462.0,987.0 L464.0,987.0 L466.0,987.0 L468.0,987.0 L470.0,987.0 L472.0,987.0 L474.0,987.0 L476.1,987.0 L478.1,987.0 L480.1,987.0 L482.1,987.0 L484.1,987.0 L486.1,987.0 L488.1,986.9 L490.1,986.5 L492.1,986.0 L494.1,985.4 L496.1,984.8 L498.1,984.1 L500.1,983.4 L502.1,982.6 L504.1,981.7 L506.1,980.8 L508.2,979.8 L510.2,978.8 L512.2,977.7 L514.2,976.6 L516.2,975.4 L518.2,974.2 L520.2,972.8 L522.2,971.5 L524.2,970.1 L526.2,968.6 L528.2,967.1 L530.2,965.5 L532.2,963.9 L534.2,962.2 L536.2,960.5 L538.2,958.7 L540.3,956.8 L542.3,954.9 L544.3,953.0 L546.3,951.0 L548.3,948.9 L550.3,946.8 L552.3,944.7 L554.3,942.5 L556.3,940.2 L558.3,937.9 L560.3,935.6 L562.3,933.2 L564.3,930.7 L566.3,928.2 L568.3,925.6 L570.3,923.0 L572.4,920.4 L574.4,917.7 L576.4,914.9 L578.4,912.1 L580.4,909.3 L582.4,906.4 L584.4,903.4 L586.4,900.5 L588.4,897.4 L590.4,894.3 L592.4,891.2 L594.4,888.0 L596.4,884.8 L598.4,881.5 L600.4,878.2 L602.4,874.8 L604.5,871.4 L606.5,868.0 L608.5,864.5 L610.5,860.9 L612.5,857.4 L614.5,853.7 L616.5,850.0 L618.5,846.3 L620.5,842.6 L622.5,838.8 L624.5,834.9 L626.5,831.0 L628.5,827.1 L630.5,823.1 L632.5,819.1 L634.5,815.0 L636.6,810.9 L638.6,806.8 L640.6,802.6 L642.6,798.4 L644.6,794.1 L646.6,789.8 L648.6,785.5 L650.6,781.1 L652.6,776.7 L654.6,772.2 L656.6,767.7 L658.6,763.1 L660.6,758.6 L662.6,753.9 L664.6,749.3 L666.6,744.6 L668.7,739.9 L670.7,735.1 L672.7,730.3 L674.7,725.4 L676.7,720.5 L678.7,715.6 L680.7,710.7 L682.7,705.7 L684.7,700.6 L686.7,695.6 L688.7,690.5 L690.7,685.3 L692.7,680.2 L694.7,675.0 L696.7,669.7 L698.7,664.5 L700.8,659.1 L702.8,653.8 L704.8,648.4 L706.8,643.0 L708.8,637.6 L710.8,632.1 L712.8,626.6 L714.8,621.1 L716.8,615.5 L718.8,609.9 L720.8,604.2 L722.8,598.6 L724.8,592.9 L726.8,587.1 L728.8,581.4 L730.8,575.6 L732.9,569.8 L734.9,563.9 L736.9,558.0 L738.9,552.1 L740.9,546.2 L742.9,540.2 L744.9,534.2 L746.9,528.2 L748.9,522.1 L750.9,516.0 L752.9,509.9 L754.9,503.8 L756.9,497.6 L758.9,491.4 L760.9,485.2 L762.9,478.9 L765.0,472.7 L767.0,466.4 L769.0,460.0 L771.0,453.7 L773.0,447.3 L775.0,440.9 L777.0,434.5 L779.0,428.0" fill="none" stroke="#8927e6" stroke-width="3.5" stroke-linejoin="round"/>
<path d="M460.0,987.0 L462.0,987.0 L464.0,987.0 L466.0,987.0 L468.0,987.0 L470.0,987.0 L472.0,987.0 L474.0,987.0 L476.1,987.0 L478.1,987.0 L480.1,987.0 L482.1,987.0 L484.1,987.0 L486.1,987.0 L488.1,987.0 L490.1,987.0 L492.1,987.0 L494.1,987.0 L496.1,987.0 L498.1,987.0 L500.1,987.0 L502.1,987.0 L504.1,987.0 L506.1,987.0 L508.2,987.0 L510.2,987.0 L512.2,987.0 L514.2,987.0 L516.2,987.0 L518.2,987.0 L520.2,987.0 L522.2,987.0 L524.2,987.0 L526.2,987.0 L528.2,987.0 L530.2,987.0 L532.2,987.0 L534.2,987.0 L536.2,987.0 L538.2,987.0 L540.3,987.0 L542.3,987.0 L544.3,987.0 L546.3,987.0 L548.3,987.0 L550.3,987.0 L552.3,987.0 L554.3,987.0 L556.3,987.0 L558.3,987.0 L560.3,987.0 L562.3,986.7 L564.3,985.6 L566.3,984.5 L568.3,983.4 L570.3,982.2 L572.4,980.9 L574.4,979.6 L576.4,978.2 L578.4,976.8 L580.4,975.3 L582.4,973.8 L584.4,972.2 L586.4,970.5 L588.4,968.8 L590.4,967.0 L592.4,965.1 L594.4,963.2 L596.4,961.3 L598.4,959.2 L600.4,957.1 L602.4,955.0 L604.5,952.8 L606.5,950.5 L608.5,948.1 L610.5,945.7 L612.5,943.2 L614.5,940.6 L616.5,938.0 L618.5,935.3 L620.5,932.5 L622.5,929.6 L624.5,926.7 L626.5,923.7 L628.5,920.7 L630.5,917.5 L632.5,914.3 L634.5,911.0 L636.6,907.6 L638.6,904.2 L640.6,900.6 L642.6,897.0 L644.6,893.4 L646.6,889.6 L648.6,885.7 L650.6,881.8 L652.6,877.8 L654.6,873.7 L656.6,869.5 L658.6,865.2 L660.6,860.9 L662.6,856.5 L664.6,851.9 L666.6,847.3 L668.7,842.6 L670.7,837.8 L672.7,833.0 L674.7,828.0 L676.7,822.9 L678.7,817.8 L680.7,812.5 L682.7,807.2 L684.7,801.8 L686.7,796.3 L688.7,790.6 L690.7,784.9 L692.7,779.1 L694.7,773.2 L696.7,767.2 L698.7,761.1 L700.8,754.9 L702.8,748.6 L704.8,742.2 L706.8,735.7 L708.8,729.1 L710.8,722.4 L712.8,715.5 L714.8,708.6 L716.8,701.6 L718.8,694.5 L720.8,687.2 L722.8,679.9 L724.8,672.4 L726.8,664.9 L728.8,657.2 L730.8,649.4 L732.9,641.6 L734.9,633.6 L736.9,625.4 L738.9,617.2 L740.9,608.9 L742.9,600.4 L744.9,591.9 L746.9,583.2 L748.9,574.4 L750.9,565.5 L752.9,556.4 L754.9,547.3 L756.9,538.0 L758.9,528.6 L760.9,519.1 L762.9,509.5 L765.0,499.7 L767.0,489.9 L769.0,479.9 L771.0,469.7 L773.0,459.5 L775.0,449.1 L777.0,438.6 L779.0,428.0" fill="none" stroke="#8927e6" stroke-width="3.5" stroke-linejoin="round"/>
<path d="M460.0,987.0 L462.0,987.0 L464.0,987.0 L466.0,987.0 L468.0,987.0 L470.0,987.0 L472.0,987.0 L474.0,987.0 L476.1,987.0 L478.1,987.0 L480.1,987.0 L482.1,987.0 L484.1,987.0 L486.1,987.0 L488.1,987.0 L490.1,987.0 L492.1,987.0 L494.1,987.0 L496.1,987.0 L498.1,987.0 L500.1,987.0 L502.1,987.0 L504.1,987.0 L506.1,987.0 L508.2,987.0 L510.2,987.0 L512.2,987.0 L514.2,986.7 L516.2,986.2 L518.2,985.5 L520.2,984.9 L522.2,984.2 L524.2,983.4 L526.2,982.7 L528.2,981.8 L530.2,981.0 L532.2,980.0 L534.2,979.1 L536.2,978.1 L538.2,977.0 L540.3,975.9 L542.3,974.7 L544.3,973.5 L546.3,972.3 L548.3,971.0 L550.3,969.7 L552.3,968.3 L554.3,966.8 L556.3,965.4 L558.3,963.8 L560.3,962.2 L562.3,960.6 L564.3,958.9 L566.3,957.2 L568.3,955.4 L570.3,953.6 L572.4,951.7 L574.4,949.7 L576.4,947.8 L578.4,945.7 L580.4,943.6 L582.4,941.5 L584.4,939.3 L586.4,937.0 L588.4,934.7 L590.4,932.4 L592.4,930.0 L594.4,927.5 L596.4,925.0 L598.4,922.4 L600.4,919.8 L602.4,917.1 L604.5,914.3 L606.5,911.5 L608.5,908.7 L610.5,905.8 L612.5,902.8 L614.5,899.8 L616.5,896.7 L618.5,893.6 L620.5,890.4 L622.5,887.1 L624.5,883.8 L626.5,880.4 L628.5,877.0 L630.5,873.5 L632.5,869.9 L634.5,866.3 L636.6,862.6 L638.6,858.9 L640.6,855.1 L642.6,851.2 L644.6,847.3 L646.6,843.3 L648.6,839.3 L650.6,835.2 L652.6,831.0 L654.6,826.8 L656.6,822.5 L658.6,818.1 L660.6,813.7 L662.6,809.2 L664.6,804.6 L666.6,800.0 L668.7,795.3 L670.7,790.6 L672.7,785.8 L674.7,780.9 L676.7,775.9 L678.7,770.9 L680.7,765.8 L682.7,760.7 L684.7,755.4 L686.7,750.2 L688.7,744.8 L690.7,739.4 L692.7,733.9 L694.7,728.3 L696.7,722.7 L698.7,717.0 L700.8,711.2 L702.8,705.4 L704.8,699.4 L706.8,693.4 L708.8,687.4 L710.8,681.3 L712.8,675.1 L714.8,668.8 L716.8,662.4 L718.8,656.0 L720.8,649.5 L722.8,643.0 L724.8,636.3 L726.8,629.6 L728.8,622.8 L730.8,615.9 L732.9,609.0 L734.9,602.0 L736.9,594.9 L738.9,587.7 L740.9,580.5 L742.9,573.2 L744.9,565.8 L746.9,558.3 L748.9,550.8 L750.9,543.1 L752.9,535.4 L754.9,527.6 L756.9,519.8 L758.9,511.8 L760.9,503.8 L762.9,495.7 L765.0,487.5 L767.0,479.3 L769.0,470.9 L771.0,462.5 L773.0,454.0 L775.0,445.4 L777.0,436.7 L779.0,428.0" fill="none" stroke="#8927e6" stroke-width="3.5" stroke-linejoin="round"/>
<path d="M460.0,987.0 L462.0,980.7 L464.0,974.5 L466.0,968.2 L468.0,962.0 L470.0,955.7 L472.0,949.4 L474.0,943.2 L476.1,936.9 L478.1,930.7 L480.1,924.4 L482.1,918.2 L484.1,911.9 L486.1,905.7 L488.1,899.4 L490.1,893.2 L492.1,887.0 L494.1,880.8 L496.1,874.6 L498.1,868.4 L500.1,862.2 L502.1,856.1 L504.1,849.9 L506.1,843.8 L508.2,837.7 L510.2,831.5 L512.2,825.4 L514.2,819.4 L516.2,813.3 L518.2,807.3 L520.2,801.2 L522.2,795.2 L524.2,789.2 L526.2,783.2 L528.2,777.3 L530.2,771.4 L532.2,765.4 L534.2,759.6 L536.2,753.7 L538.2,747.8 L540.3,742.0 L542.3,736.2 L544.3,730.5 L546.3,724.7 L548.3,719.0 L550.3,713.3 L552.3,707.7 L554.3,702.1 L556.3,696.5 L558.3,690.9 L560.3,685.4 L562.3,679.9 L564.3,674.4 L566.3,669.0 L568.3,663.6 L570.3,658.2 L572.4,652.9 L574.4,647.6 L576.4,642.4 L578.4,637.2 L580.4,632.0 L582.4,626.8 L584.4,621.7 L586.4,616.7 L588.4,611.7 L590.4,606.7 L592.4,601.8 L594.4,596.9 L596.4,592.1 L598.4,587.3 L600.4,582.5 L602.4,577.8 L604.5,573.1 L606.5,568.5 L608.5,564.0 L610.5,559.5 L612.5,555.0 L614.5,550.6 L616.5,546.2 L618.5,541.9 L620.5,537.7 L622.5,533.5 L624.5,529.3 L626.5,525.2 L628.5,521.2 L630.5,517.2 L632.5,513.3 L634.5,509.4 L636.6,505.6 L638.6,501.9 L640.6,498.2 L642.6,494.6 L644.6,491.0 L646.6,487.5 L648.6,484.1 L650.6,480.7 L652.6,477.4 L654.6,474.1 L656.6,470.9 L658.6,467.8 L660.6,464.7 L662.6,461.8 L664.6,458.8 L666.6,456.0 L668.7,453.2 L670.7,450.5 L672.7,447.9 L674.7,445.3 L676.7,442.8 L678.7,440.4 L680.7,438.0 L682.7,435.8 L684.7,433.6 L686.7,431.5 L688.7,429.4 L690.7,428.0 L692.7,428.0 L694.7,428.0 L696.7,428.0 L698.7,428.0 L700.8,428.0 L702.8,428.0 L704.8,428.0 L706.8,428.0 L708.8,428.0 L710.8,428.0 L712.8,428.0 L714.8,428.0 L716.8,428.0 L718.8,428.0 L720.8,428.0 L722.8,428.0 L724.8,428.0 L726.8,428.0 L728.8,428.0 L730.8,428.0 L732.9,428.0 L734.9,428.0 L736.9,428.0 L738.9,428.0 L740.9,428.0 L742.9,428.0 L744.9,428.0 L746.9,428.0 L748.9,428.0 L750.9,428.0 L752.9,428.0 L754.9,428.0 L756.9,428.0 L758.9,428.0 L760.9,428.0 L762.9,428.0 L765.0,428.0 L767.0,428.0 L769.0,428.0 L771.0,428.0 L773.0,428.0 L775.0,428.0 L777.0,428.0 L779.0,428.0" fill="none" stroke="#8927e6" stroke-width="3.5" stroke-linejoin="round"/>
<path d="M460.0,987.0 L462.0,982.3 L464.0,977.7 L466.0,972.9 L468.0,968.2 L470.0,963.4 L472.0,958.6 L474.0,953.8 L476.1,949.0 L478.1,944.1 L480.1,939.2 L482.1,934.3 L484.1,929.4 L486.1,924.4 L488.1,919.5 L490.1,914.5 L492.1,909.5 L494.1,904.4 L496.1,899.4 L498.1,894.4 L500.1,889.3 L502.1,884.2 L504.1,879.1 L506.1,874.0 L508.2,868.9 L510.2,863.8 L512.2,858.6 L514.2,853.5 L516.2,848.3 L518.2,843.2 L520.2,838.0 L522.2,832.8 L524.2,827.7 L526.2,822.5 L528.2,817.3 L530.2,812.1 L532.2,806.9 L534.2,801.8 L536.2,796.6 L538.2,791.4 L540.3,786.2 L542.3,781.0 L544.3,775.9 L546.3,770.7 L548.3,765.5 L550.3,760.4 L552.3,755.2 L554.3,750.1 L556.3,745.0 L558.3,739.9 L560.3,734.8 L562.3,729.7 L564.3,724.6 L566.3,719.5 L568.3,714.5 L570.3,709.4 L572.4,704.4 L574.4,699.4 L576.4,694.4 L578.4,689.4 L580.4,684.5 L582.4,679.5 L584.4,674.6 L586.4,669.7 L588.4,664.9 L590.4,660.0 L592.4,655.2 L594.4,650.4 L596.4,645.6 L598.4,640.9 L600.4,636.2 L602.4,631.5 L604.5,626.8 L606.5,622.2 L608.5,617.6 L610.5,613.0 L612.5,608.5 L614.5,604.0 L616.5,599.5 L618.5,595.1 L620.5,590.7 L622.5,586.4 L624.5,582.0 L626.5,577.8 L628.5,573.5 L630.5,569.3 L632.5,565.1 L634.5,561.0 L636.6,556.9 L638.6,552.9 L640.6,548.9 L642.6,545.0 L644.6,541.1 L646.6,537.2 L648.6,533.4 L650.6,529.7 L652.6,526.0 L654.6,522.3 L656.6,518.7 L658.6,515.1 L660.6,511.6 L662.6,508.2 L664.6,504.8 L666.6,501.4 L668.7,498.2 L670.7,494.9 L672.7,491.8 L674.7,488.7 L676.7,485.6 L678.7,482.6 L680.7,479.7 L682.7,476.8 L684.7,474.0 L686.7,471.3 L688.7,468.6 L690.7,466.0 L692.7,463.4 L694.7,460.9 L696.7,458.5 L698.7,456.2 L700.8,453.9 L702.8,451.7 L704.8,449.6 L706.8,447.5 L708.8,445.5 L710.8,443.6 L712.8,441.7 L714.8,440.0 L716.8,438.3 L718.8,436.7 L720.8,435.1 L722.8,433.7 L724.8,432.3 L726.8,431.0 L728.8,429.8 L730.8,428.6 L732.9,428.0 L734.9,428.0 L736.9,428.0 L738.9,428.0 L740.9,428.0 L742.9,428.0 L744.9,428.0 L746.9,428.0 L748.9,428.0 L750.9,428.0 L752.9,428.0 L754.9,428.0 L756.9,428.0 L758.9,428.0 L760.9,428.0 L762.9,428.0 L765.0,428.0 L767.0,428.0 L769.0,428.0 L771.0,428.0 L773.0,428.0 L775.0,428.0 L777.0,428.0 L779.0,428.0" fill="none" stroke="#8927e6" stroke-width="3.5" stroke-linejoin="round"/>
<path d="M460.0,987.0 L462.0,987.0 L464.0,987.0 L466.0,987.0 L468.0,987.0 L470.0,987.0 L472.0,987.0 L474.0,987.0 L476.1,987.0 L478.1,987.0 L480.1,987.0 L482.1,987.0 L484.1,987.0 L486.1,987.0 L488.1,987.0 L490.1,987.0 L492.1,987.0 L494.1,987.0 L496.1,987.0 L498.1,987.0 L500.1,987.0 L502.1,987.0 L504.1,987.0 L506.1,987.0 L508.2,987.0 L510.2,987.0 L512.2,987.0 L514.2,987.0 L516.2,987.0 L518.2,987.0 L520.2,987.0 L522.2,987.0 L524.2,987.0 L526.2,987.0 L528.2,987.0 L530.2,987.0 L532.2,987.0 L534.2,987.0 L536.2,987.0 L538.2,987.0 L540.3,987.0 L542.3,987.0 L544.3,987.0 L546.3,987.0 L548.3,987.0 L550.3,987.0 L552.3,987.0 L554.3,987.0 L556.3,987.0 L558.3,987.0 L560.3,987.0 L562.3,987.0 L564.3,987.0 L566.3,987.0 L568.3,987.0 L570.3,987.0 L572.4,987.0 L574.4,985.8 L576.4,984.6 L578.4,983.3 L580.4,981.9 L582.4,980.5 L584.4,979.0 L586.4,977.4 L588.4,975.8 L590.4,974.1 L592.4,972.4 L594.4,970.6 L596.4,968.7 L598.4,966.8 L600.4,964.8 L602.4,962.7 L604.5,960.5 L606.5,958.3 L608.5,956.1 L610.5,953.7 L612.5,951.3 L614.5,948.8 L616.5,946.3 L618.5,943.6 L620.5,940.9 L622.5,938.1 L624.5,935.3 L626.5,932.3 L628.5,929.3 L630.5,926.2 L632.5,923.1 L634.5,919.8 L636.6,916.5 L638.6,913.1 L640.6,909.6 L642.6,906.0 L644.6,902.4 L646.6,898.6 L648.6,894.8 L650.6,890.9 L652.6,886.9 L654.6,882.8 L656.6,878.7 L658.6,874.4 L660.6,870.1 L662.6,865.6 L664.6,861.1 L666.6,856.5 L668.7,851.8 L670.7,847.0 L672.7,842.1 L674.7,837.1 L676.7,832.0 L678.7,826.8 L680.7,821.5 L682.7,816.1 L684.7,810.7 L686.7,805.1 L688.7,799.4 L690.7,793.6 L692.7,787.8 L694.7,781.8 L696.7,775.7 L698.7,769.5 L700.8,763.2 L702.8,756.8 L704.8,750.3 L706.8,743.7 L708.8,737.0 L710.8,730.2 L712.8,723.2 L714.8,716.2 L716.8,709.0 L718.8,701.7 L720.8,694.4 L722.8,686.9 L724.8,679.3 L726.8,671.5 L728.8,663.7 L730.8,655.7 L732.9,647.7 L734.9,639.5 L736.9,631.2 L738.9,622.7 L740.9,614.2 L742.9,605.5 L744.9,596.7 L746.9,587.8 L748.9,578.8 L750.9,569.6 L752.9,560.4 L754.9,551.0 L756.9,541.4 L758.9,531.8 L760.9,522.0 L762.9,512.1 L765.0,502.0 L767.0,491.8 L769.0,481.5 L771.0,471.1 L773.0,460.5 L775.0,449.8 L777.0,439.0 L779.0,428.0" fill="none" stroke="#8927e6" stroke-width="3.5" stroke-linejoin="round"/>
<path d="M460.0,987.0 L462.0,981.6 L464.0,976.2 L466.0,970.7 L468.0,965.3 L470.0,959.8 L472.0,954.4 L474.0,948.9 L476.1,943.4 L478.1,938.0 L480.1,932.5 L482.1,927.0 L484.1,921.5 L486.1,916.0 L488.1,910.5 L490.1,905.0 L492.1,899.6 L494.1,894.1 L496.1,888.6 L498.1,883.1 L500.1,877.6 L502.1,872.1 L504.1,866.7 L506.1,861.2 L508.2,855.7 L510.2,850.3 L512.2,844.8 L514.2,839.4 L516.2,833.9 L518.2,828.5 L520.2,823.0 L522.2,817.6 L524.2,812.2 L526.2,806.8 L528.2,801.4 L530.2,796.1 L532.2,790.7 L534.2,785.4 L536.2,780.0 L538.2,774.7 L540.3,769.4 L542.3,764.1 L544.3,758.9 L546.3,753.6 L548.3,748.4 L550.3,743.1 L552.3,737.9 L554.3,732.8 L556.3,727.6 L558.3,722.5 L560.3,717.3 L562.3,712.2 L564.3,707.2 L566.3,702.1 L568.3,697.1 L570.3,692.1 L572.4,687.1 L574.4,682.2 L576.4,677.2 L578.4,672.3 L580.4,667.5 L582.4,662.6 L584.4,657.8 L586.4,653.0 L588.4,648.3 L590.4,643.5 L592.4,638.9 L594.4,634.2 L596.4,629.6 L598.4,625.0 L600.4,620.4 L602.4,615.9 L604.5,611.4 L606.5,607.0 L608.5,602.5 L610.5,598.2 L612.5,593.8 L614.5,589.5 L616.5,585.3 L618.5,581.0 L620.5,576.8 L622.5,572.7 L624.5,568.6 L626.5,564.5 L628.5,560.5 L630.5,556.6 L632.5,552.6 L634.5,548.7 L636.6,544.9 L638.6,541.1 L640.6,537.4 L642.6,533.7 L644.6,530.0 L646.6,526.4 L648.6,522.9 L650.6,519.4 L652.6,515.9 L654.6,512.5 L656.6,509.2 L658.6,505.9 L660.6,502.6 L662.6,499.4 L664.6,496.3 L666.6,493.2 L668.7,490.2 L670.7,487.2 L672.7,484.3 L674.7,481.5 L676.7,478.7 L678.7,475.9 L680.7,473.2 L682.7,470.6 L684.7,468.1 L686.7,465.6 L688.7,463.1 L690.7,460.8 L692.7,458.5 L694.7,456.2 L696.7,454.0 L698.7,451.9 L700.8,449.9 L702.8,447.9 L704.8,446.0 L706.8,444.1 L708.8,442.4 L710.8,440.6 L712.8,439.0 L714.8,437.4 L716.8,435.9 L718.8,434.5 L720.8,433.1 L722.8,431.9 L724.8,430.6 L726.8,429.5 L728.8,428.4 L730.8,428.0 L732.9,428.0 L734.9,428.0 L736.9,428.0 L738.9,428.0 L740.9,428.0 L742.9,428.0 L744.9,428.0 L746.9,428.0 L748.9,428.0 L750.9,428.0 L752.9,428.0 L754.9,428.0 L756.9,428.0 L758.9,428.0 L760.9,428.0 L762.9,428.0 L765.0,428.0 L767.0,428.0 L769.0,428.0 L771.0,428.0 L773.0,428.0 L775.0,428.0 L777.0,428.0 L779.0,428.0" fill="none" stroke="#8927e6" stroke-width="3.5" stroke-linejoin="round"/>
<path d="M460.0,987.0 L462.0,984.4 L464.0,981.7 L466.0,978.9 L468.0,976.1 L470.0,973.2 L472.0,970.2 L474.0,967.2 L476.1,964.2 L478.1,961.0 L480.1,957.8 L482.1,954.6 L484.1,951.3 L486.1,948.0 L488.1,944.5 L490.1,941.1 L492.1,937.6 L494.1,934.0 L496.1,930.4 L498.1,926.8 L500.1,923.1 L502.1,919.3 L504.1,915.5 L506.1,911.7 L508.2,907.8 L510.2,903.9 L512.2,900.0 L514.2,896.0 L516.2,891.9 L518.2,887.9 L520.2,883.8 L522.2,879.6 L524.2,875.4 L526.2,871.2 L528.2,867.0 L530.2,862.7 L532.2,858.4 L534.2,854.1 L536.2,849.7 L538.2,845.3 L540.3,840.9 L542.3,836.5 L544.3,832.0 L546.3,827.5 L548.3,823.0 L550.3,818.5 L552.3,813.9 L554.3,809.4 L556.3,804.8 L558.3,800.2 L560.3,795.6 L562.3,790.9 L564.3,786.3 L566.3,781.6 L568.3,776.9 L570.3,772.3 L572.4,767.6 L574.4,762.9 L576.4,758.2 L578.4,753.5 L580.4,748.7 L582.4,744.0 L584.4,739.3 L586.4,734.6 L588.4,729.8 L590.4,725.1 L592.4,720.4 L594.4,715.7 L596.4,710.9 L598.4,706.2 L600.4,701.5 L602.4,696.8 L604.5,692.1 L606.5,687.4 L608.5,682.7 L610.5,678.1 L612.5,673.4 L614.5,668.8 L616.5,664.1 L618.5,659.5 L620.5,654.9 L622.5,650.3 L624.5,645.7 L626.5,641.2 L628.5,636.6 L630.5,632.1 L632.5,627.6 L634.5,623.2 L636.6,618.7 L638.6,614.3 L640.6,609.9 L642.6,605.5 L644.6,601.2 L646.6,596.9 L648.6,592.6 L650.6,588.4 L652.6,584.1 L654.6,580.0 L656.6,575.8 L658.6,571.7 L660.6,567.6 L662.6,563.6 L664.6,559.6 L666.6,555.6 L668.7,551.7 L670.7,547.8 L672.7,543.9 L674.7,540.1 L676.7,536.4 L678.7,532.7 L680.7,529.0 L682.7,525.4 L684.7,521.8 L686.7,518.3 L688.7,514.9 L690.7,511.4 L692.7,508.1 L694.7,504.8 L696.7,501.5 L698.7,498.3 L700.8,495.2 L702.8,492.1 L704.8,489.1 L706.8,486.1 L708.8,483.2 L710.8,480.4 L712.8,477.6 L714.8,474.9 L716.8,472.2 L718.8,469.6 L720.8,467.1 L722.8,464.7 L724.8,462.3 L726.8,460.0 L728.8,457.7 L730.8,455.6 L732.9,453.5 L734.9,451.5 L736.9,449.5 L738.9,447.7 L740.9,445.9 L742.9,444.2 L744.9,442.5 L746.9,441.0 L748.9,439.5 L750.9,438.1 L752.9,436.8 L754.9,435.6 L756.9,434.5 L758.9,433.4 L760.9,432.5 L762.9,431.6 L765.0,430.8 L767.0,430.2 L769.0,429.6 L771.0,429.1 L773.0,428.6 L775.0,428.3 L777.0,428.1 L779.0,428.0" fill="none" stroke="#8927e6" stroke-width="3.5" stroke-linejoin="round"/>
<path d="M460.0,987.0 L462.0,983.6 L464.0,980.2 L466.0,976.8 L468.0,973.5 L470.0,970.2 L472.0,967.0 L474.0,963.7 L476.1,960.5 L478.1,957.4 L480.1,954.2 L482.1,951.1 L484.1,948.1 L486.1,945.0 L488.1,942.0 L490.1,939.0 L492.1,936.0 L494.1,933.1 L496.1,930.2 L498.1,927.3 L500.1,924.4 L502.1,921.6 L504.1,918.7 L506.1,915.9 L508.2,913.1 L510.2,910.4 L512.2,907.6 L514.2,904.9 L516.2,902.2 L518.2,899.5 L520.2,896.8 L522.2,894.1 L524.2,891.5 L526.2,888.8 L528.2,886.2 L530.2,883.6 L532.2,881.0 L534.2,878.4 L536.2,875.8 L538.2,873.3 L540.3,870.7 L542.3,868.2 L544.3,865.6 L546.3,863.1 L548.3,860.6 L550.3,858.0 L552.3,855.5 L554.3,853.0 L556.3,850.5 L558.3,848.0 L560.3,845.5 L562.3,842.9 L564.3,840.4 L566.3,837.9 L568.3,835.4 L570.3,832.9 L572.4,830.4 L574.4,827.9 L576.4,825.4 L578.4,822.8 L580.4,820.3 L582.4,817.8 L584.4,815.2 L586.4,812.7 L588.4,810.1 L590.4,807.6 L592.4,805.0 L594.4,802.4 L596.4,799.8 L598.4,797.2 L600.4,794.6 L602.4,792.0 L604.5,789.3 L606.5,786.7 L608.5,784.0 L610.5,781.3 L612.5,778.6 L614.5,775.9 L616.5,773.1 L618.5,770.4 L620.5,767.6 L622.5,764.8 L624.5,762.0 L626.5,759.1 L628.5,756.3 L630.5,753.4 L632.5,750.5 L634.5,747.6 L636.6,744.6 L638.6,741.6 L640.6,738.6 L642.6,735.6 L644.6,732.5 L646.6,729.4 L648.6,726.3 L650.6,723.2 L652.6,720.0 L654.6,716.8 L656.6,713.5 L658.6,710.3 L660.6,707.0 L662.6,703.6 L664.6,700.2 L666.6,696.8 L668.7,693.4 L670.7,689.9 L672.7,686.4 L674.7,682.8 L676.7,679.2 L678.7,675.6 L680.7,671.9 L682.7,668.2 L684.7,664.4 L686.7,660.6 L688.7,656.8 L690.7,652.9 L692.7,649.0 L694.7,645.0 L696.7,641.0 L698.7,636.9 L700.8,632.8 L702.8,628.6 L704.8,624.4 L706.8,620.1 L708.8,615.8 L710.8,611.5 L712.8,607.1 L714.8,602.6 L716.8,598.1 L718.8,593.5 L720.8,588.9 L722.8,584.2 L724.8,579.5 L726.8,574.7 L728.8,569.8 L730.8,564.9 L732.9,559.9 L734.9,554.9 L736.9,549.8 L738.9,544.7 L740.9,539.5 L742.9,534.2 L744.9,528.9 L746.9,523.5 L748.9,518.0 L750.9,512.5 L752.9,506.9 L754.9,501.3 L756.9,495.5 L758.9,489.8 L760.9,483.9 L762.9,478.0 L765.0,472.0 L767.0,465.9 L769.0,459.8 L771.0,453.6 L773.0,447.3 L775.0,440.9 L777.0,434.5 L779.0,428.0" fill="none" stroke="#8927e6" stroke-width="3.5" stroke-linejoin="round"/>
<path d="M460.0,987.0 L462.0,985.5 L464.0,984.1 L466.0,982.7 L468.0,981.2 L470.0,979.8 L472.0,978.4 L474.0,977.1 L476.1,975.7 L478.1,974.4 L480.1,973.0 L482.1,971.7 L484.1,970.4 L486.1,969.1 L488.1,967.8 L490.1,966.5 L492.1,965.2 L494.1,963.9 L496.1,962.6 L498.1,961.3 L500.1,960.1 L502.1,958.8 L504.1,957.5 L506.1,956.3 L508.2,955.0 L510.2,953.7 L512.2,952.4 L514.2,951.2 L516.2,949.9 L518.2,948.6 L520.2,947.3 L522.2,946.0 L524.2,944.7 L526.2,943.4 L528.2,942.1 L530.2,940.7 L532.2,939.4 L534.2,938.0 L536.2,936.7 L538.2,935.3 L540.3,933.9 L542.3,932.5 L544.3,931.1 L546.3,929.6 L548.3,928.2 L550.3,926.7 L552.3,925.2 L554.3,923.7 L556.3,922.1 L558.3,920.6 L560.3,919.0 L562.3,917.4 L564.3,915.8 L566.3,914.1 L568.3,912.4 L570.3,910.7 L572.4,909.0 L574.4,907.3 L576.4,905.5 L578.4,903.6 L580.4,901.8 L582.4,899.9 L584.4,898.0 L586.4,896.1 L588.4,894.1 L590.4,892.1 L592.4,890.0 L594.4,887.9 L596.4,885.8 L598.4,883.6 L600.4,881.4 L602.4,879.2 L604.5,876.9 L606.5,874.6 L608.5,872.2 L610.5,869.8 L612.5,867.4 L614.5,864.9 L616.5,862.3 L618.5,859.7 L620.5,857.1 L622.5,854.4 L624.5,851.7 L626.5,848.9 L628.5,846.1 L630.5,843.2 L632.5,840.2 L634.5,837.3 L636.6,834.2 L638.6,831.1 L640.6,827.9 L642.6,824.7 L644.6,821.5 L646.6,818.1 L648.6,814.8 L650.6,811.3 L652.6,807.8 L654.6,804.2 L656.6,800.6 L658.6,796.9 L660.6,793.1 L662.6,789.3 L664.6,785.4 L666.6,781.5 L668.7,777.4 L670.7,773.4 L672.7,769.2 L674.7,765.0 L676.7,760.7 L678.7,756.3 L680.7,751.8 L682.7,747.3 L684.7,742.7 L686.7,738.1 L688.7,733.3 L690.7,728.5 L692.7,723.6 L694.7,718.6 L696.7,713.6 L698.7,708.4 L700.8,703.2 L702.8,697.9 L704.8,692.6 L706.8,687.1 L708.8,681.5 L710.8,675.9 L712.8,670.2 L714.8,664.4 L716.8,658.5 L718.8,652.5 L720.8,646.5 L722.8,640.3 L724.8,634.1 L726.8,627.7 L728.8,621.3 L730.8,614.8 L732.9,608.1 L734.9,601.4 L736.9,594.6 L738.9,587.7 L740.9,580.7 L742.9,573.6 L744.9,566.4 L746.9,559.1 L748.9,551.7 L750.9,544.2 L752.9,536.6 L754.9,528.9 L756.9,521.1 L758.9,513.1 L760.9,505.1 L762.9,497.0 L765.0,488.7 L767.0,480.4 L769.0,471.9 L771.0,463.4 L773.0,454.7 L775.0,445.9 L777.0,437.0 L779.0,428.0" fill="none" stroke="#8927e6" stroke-width="3.5" stroke-linejoin="round"/>
<path d="M460.0,987.0 L462.0,984.6 L464.0,982.3 L466.0,979.9 L468.0,977.6 L470.0,975.4 L472.0,973.1 L474.0,970.9 L476.1,968.7 L478.1,966.5 L480.1,964.3 L482.1,962.1 L484.1,960.0 L486.1,957.9 L488.1,955.8 L490.1,953.7 L492.1,951.6 L494.1,949.6 L496.1,947.5 L498.1,945.5 L500.1,943.5 L502.1,941.5 L504.1,939.5 L506.1,937.5 L508.2,935.5 L510.2,933.5 L512.2,931.6 L514.2,929.6 L516.2,927.7 L518.2,925.7 L520.2,923.8 L522.2,921.8 L524.2,919.9 L526.2,918.0 L528.2,916.0 L530.2,914.1 L532.2,912.2 L534.2,910.2 L536.2,908.3 L538.2,906.4 L540.3,904.4 L542.3,902.5 L544.3,900.5 L546.3,898.6 L548.3,896.6 L550.3,894.6 L552.3,892.6 L554.3,890.7 L556.3,888.7 L558.3,886.7 L560.3,884.6 L562.3,882.6 L564.3,880.6 L566.3,878.5 L568.3,876.4 L570.3,874.4 L572.4,872.3 L574.4,870.1 L576.4,868.0 L578.4,865.9 L580.4,863.7 L582.4,861.5 L584.4,859.3 L586.4,857.1 L588.4,854.8 L590.4,852.5 L592.4,850.2 L594.4,847.9 L596.4,845.6 L598.4,843.2 L600.4,840.8 L602.4,838.3 L604.5,835.9 L606.5,833.4 L608.5,830.9 L610.5,828.3 L612.5,825.8 L614.5,823.2 L616.5,820.5 L618.5,817.9 L620.5,815.1 L622.5,812.4 L624.5,809.6 L626.5,806.8 L628.5,804.0 L630.5,801.1 L632.5,798.1 L634.5,795.2 L636.6,792.2 L638.6,789.1 L640.6,786.0 L642.6,782.9 L644.6,779.7 L646.6,776.5 L648.6,773.2 L650.6,769.9 L652.6,766.6 L654.6,763.2 L656.6,759.7 L658.6,756.2 L660.6,752.7 L662.6,749.1 L664.6,745.4 L666.6,741.7 L668.7,737.9 L670.7,734.1 L672.7,730.3 L674.7,726.4 L676.7,722.4 L678.7,718.4 L680.7,714.3 L682.7,710.1 L684.7,705.9 L686.7,701.7 L688.7,697.3 L690.7,692.9 L692.7,688.5 L694.7,684.0 L696.7,679.4 L698.7,674.8 L700.8,670.1 L702.8,665.3 L704.8,660.5 L706.8,655.6 L708.8,650.6 L710.8,645.6 L712.8,640.5 L714.8,635.3 L716.8,630.0 L718.8,624.7 L720.8,619.3 L722.8,613.9 L724.8,608.3 L726.8,602.7 L728.8,597.0 L730.8,591.3 L732.9,585.4 L734.9,579.5 L736.9,573.5 L738.9,567.4 L740.9,561.3 L742.9,555.0 L744.9,548.7 L746.9,542.3 L748.9,535.8 L750.9,529.2 L752.9,522.6 L754.9,515.8 L756.9,509.0 L758.9,502.1 L760.9,495.1 L762.9,488.0 L765.0,480.8 L767.0,473.6 L769.0,466.2 L771.0,458.7 L773.0,451.2 L775.0,443.6 L777.0,435.8 L779.0,428.0" fill="none" stroke="#8927e6" stroke-width="3.5" stroke-linejoin="round"/>
<path d="M460.0,987.0 L462.0,987.0 L464.0,987.0 L466.0,987.0 L468.0,987.0 L470.0,987.0 L472.0,987.0 L474.0,987.0 L476.1,987.0 L478.1,987.0 L480.1,987.0 L482.1,987.0 L484.1,987.0 L486.1,987.0 L488.1,987.0 L490.1,987.0 L492.1,987.0 L494.1,987.0 L496.1,987.0 L498.1,987.0 L500.1,987.0 L502.1,987.0 L504.1,987.0 L506.1,987.0 L508.2,987.0 L510.2,987.0 L512.2,987.0 L514.2,987.0 L516.2,987.0 L518.2,987.0 L520.2,987.0 L522.2,987.0 L524.2,987.0 L526.2,987.0 L528.2,987.0 L530.2,987.0 L532.2,987.0 L534.2,987.0 L536.2,987.0 L538.2,987.0 L540.3,987.0 L542.3,987.0 L544.3,987.0 L546.3,987.0 L548.3,987.0 L550.3,987.0 L552.3,987.0 L554.3,987.0 L556.3,987.0 L558.3,987.0 L560.3,987.0 L562.3,987.0 L564.3,987.0 L566.3,987.0 L568.3,987.0 L570.3,987.0 L572.4,987.0 L574.4,987.0 L576.4,987.0 L578.4,987.0 L580.4,987.0 L582.4,987.0 L584.4,987.0 L586.4,987.0 L588.4,987.0 L590.4,987.0 L592.4,987.0 L594.4,987.0 L596.4,987.0 L598.4,987.0 L600.4,987.0 L602.4,987.0 L604.5,987.0 L606.5,987.0 L608.5,987.0 L610.5,987.0 L612.5,987.0 L614.5,987.0 L616.5,987.0 L618.5,987.0 L620.5,987.0 L622.5,987.0 L624.5,987.0 L626.5,985.3 L628.5,980.6 L630.5,975.8 L632.5,970.9 L634.5,966.0 L636.6,960.9 L638.6,955.8 L640.6,950.6 L642.6,945.3 L644.6,939.9 L646.6,934.4 L648.6,928.9 L650.6,923.3 L652.6,917.6 L654.6,911.8 L656.6,905.9 L658.6,899.9 L660.6,893.9 L662.6,887.8 L664.6,881.6 L666.6,875.4 L668.7,869.0 L670.7,862.6 L672.7,856.2 L674.7,849.6 L676.7,843.0 L678.7,836.3 L680.7,829.5 L682.7,822.7 L684.7,815.8 L686.7,808.8 L688.7,801.8 L690.7,794.7 L692.7,787.5 L694.7,780.3 L696.7,773.0 L698.7,765.6 L700.8,758.2 L702.8,750.7 L704.8,743.1 L706.8,735.5 L708.8,727.9 L710.8,720.1 L712.8,712.4 L714.8,704.5 L716.8,696.6 L718.8,688.7 L720.8,680.7 L722.8,672.6 L724.8,664.5 L726.8,656.3 L728.8,648.1 L730.8,639.8 L732.9,631.5 L734.9,623.1 L736.9,614.7 L738.9,606.2 L740.9,597.7 L742.9,589.2 L744.9,580.6 L746.9,571.9 L748.9,563.2 L750.9,554.5 L752.9,545.7 L754.9,536.9 L756.9,528.0 L758.9,519.1 L760.9,510.2 L762.9,501.2 L765.0,492.1 L767.0,483.1 L769.0,474.0 L771.0,464.9 L773.0,455.7 L775.0,446.5 L777.0,437.3 L779.0,428.0" fill="none" stroke="#8927e6" stroke-width="3.5" stroke-linejoin="round"/>
<path d="M460.0,987.0 L462.0,980.4 L464.0,973.9 L466.0,967.4 L468.0,960.9 L470.0,954.5 L472.0,948.2 L474.0,941.9 L476.1,935.6 L478.1,929.4 L480.1,923.3 L482.1,917.1 L484.1,911.1 L486.1,905.1 L488.1,899.1 L490.1,893.1 L492.1,887.2 L494.1,881.4 L496.1,875.6 L498.1,869.8 L500.1,864.1 L502.1,858.5 L504.1,852.9 L506.1,847.3 L508.2,841.7 L510.2,836.3 L512.2,830.8 L514.2,825.4 L516.2,820.0 L518.2,814.7 L520.2,809.5 L522.2,804.2 L524.2,799.0 L526.2,793.9 L528.2,788.8 L530.2,783.7 L532.2,778.7 L534.2,773.7 L536.2,768.8 L538.2,763.9 L540.3,759.0 L542.3,754.2 L544.3,749.5 L546.3,744.7 L548.3,740.0 L550.3,735.4 L552.3,730.8 L554.3,726.2 L556.3,721.7 L558.3,717.2 L560.3,712.7 L562.3,708.3 L564.3,704.0 L566.3,699.6 L568.3,695.3 L570.3,691.1 L572.4,686.9 L574.4,682.7 L576.4,678.6 L578.4,674.5 L580.4,670.4 L582.4,666.4 L584.4,662.4 L586.4,658.4 L588.4,654.5 L590.4,650.6 L592.4,646.8 L594.4,643.0 L596.4,639.2 L598.4,635.5 L600.4,631.8 L602.4,628.1 L604.5,624.5 L606.5,620.9 L608.5,617.4 L610.5,613.9 L612.5,610.4 L614.5,607.0 L616.5,603.5 L618.5,600.2 L620.5,596.8 L622.5,593.5 L624.5,590.3 L626.5,587.0 L628.5,583.8 L630.5,580.6 L632.5,577.5 L634.5,574.4 L636.6,571.3 L638.6,568.3 L640.6,565.3 L642.6,562.3 L644.6,559.4 L646.6,556.5 L648.6,553.6 L650.6,550.8 L652.6,548.0 L654.6,545.2 L656.6,542.4 L658.6,539.7 L660.6,537.0 L662.6,534.4 L664.6,531.8 L666.6,529.2 L668.7,526.6 L670.7,524.1 L672.7,521.6 L674.7,519.1 L676.7,516.7 L678.7,514.3 L680.7,511.9 L682.7,509.5 L684.7,507.2 L686.7,504.9 L688.7,502.7 L690.7,500.4 L692.7,498.2 L694.7,496.0 L696.7,493.9 L698.7,491.8 L700.8,489.7 L702.8,487.6 L704.8,485.6 L706.8,483.6 L708.8,481.6 L710.8,479.6 L712.8,477.7 L714.8,475.8 L716.8,473.9 L718.8,472.1 L720.8,470.2 L722.8,468.4 L724.8,466.7 L726.8,464.9 L728.8,463.2 L730.8,461.5 L732.9,459.8 L734.9,458.2 L736.9,456.6 L738.9,455.0 L740.9,453.4 L742.9,451.9 L744.9,450.3 L746.9,448.8 L748.9,447.4 L750.9,445.9 L752.9,444.5 L754.9,443.1 L756.9,441.7 L758.9,440.3 L760.9,439.0 L762.9,437.7 L765.0,436.4 L767.0,435.1 L769.0,433.9 L771.0,432.7 L773.0,431.5 L775.0,430.3 L777.0,429.1 L779.0,428.0" fill="none" stroke="#8927e6" stroke-width="3.5" stroke-linejoin="round"/>
<path d="M460.0,987.0 L462.0,978.1 L464.0,969.3 L466.0,960.6 L468.0,952.0 L470.0,943.4 L472.0,935.0 L474.0,926.6 L476.1,918.3 L478.1,910.1 L480.1,902.0 L482.1,894.0 L484.1,886.0 L486.1,878.2 L488.1,870.4 L490.1,862.7 L492.1,855.1 L494.1,847.5 L496.1,840.1 L498.1,832.7 L500.1,825.4 L502.1,818.2 L504.1,811.1 L506.1,804.0 L508.2,797.1 L510.2,790.2 L512.2,783.3 L514.2,776.6 L516.2,769.9 L518.2,763.4 L520.2,756.9 L522.2,750.4 L524.2,744.1 L526.2,737.8 L528.2,731.6 L530.2,725.5 L532.2,719.4 L534.2,713.4 L536.2,707.5 L538.2,701.7 L540.3,695.9 L542.3,690.3 L544.3,684.6 L546.3,679.1 L548.3,673.6 L550.3,668.2 L552.3,662.9 L554.3,657.7 L556.3,652.5 L558.3,647.4 L560.3,642.3 L562.3,637.3 L564.3,632.4 L566.3,627.6 L568.3,622.8 L570.3,618.1 L572.4,613.5 L574.4,608.9 L576.4,604.4 L578.4,600.0 L580.4,595.6 L582.4,591.3 L584.4,587.1 L586.4,582.9 L588.4,578.8 L590.4,574.7 L592.4,570.7 L594.4,566.8 L596.4,563.0 L598.4,559.2 L600.4,555.4 L602.4,551.8 L604.5,548.2 L606.5,544.6 L608.5,541.1 L610.5,537.7 L612.5,534.3 L614.5,531.0 L616.5,527.8 L618.5,524.6 L620.5,521.5 L622.5,518.4 L624.5,515.4 L626.5,512.4 L628.5,509.5 L630.5,506.7 L632.5,503.9 L634.5,501.2 L636.6,498.5 L638.6,495.9 L640.6,493.3 L642.6,490.8 L644.6,488.4 L646.6,486.0 L648.6,483.6 L650.6,481.3 L652.6,479.1 L654.6,476.9 L656.6,474.7 L658.6,472.7 L660.6,470.6 L662.6,468.6 L664.6,466.7 L666.6,464.8 L668.7,463.0 L670.7,461.2 L672.7,459.5 L674.7,457.8 L676.7,456.1 L678.7,454.6 L680.7,453.0 L682.7,451.5 L684.7,450.1 L686.7,448.7 L688.7,447.3 L690.7,446.0 L692.7,444.7 L694.7,443.5 L696.7,442.3 L698.7,441.2 L700.8,440.1 L702.8,439.1 L704.8,438.1 L706.8,437.1 L708.8,436.2 L710.8,435.3 L712.8,434.5 L714.8,433.7 L716.8,432.9 L718.8,432.2 L720.8,431.6 L722.8,430.9 L724.8,430.4 L726.8,429.8 L728.8,429.3 L730.8,428.8 L732.9,428.4 L734.9,428.0 L736.9,428.0 L738.9,428.0 L740.9,428.0 L742.9,428.0 L744.9,428.0 L746.9,428.0 L748.9,428.0 L750.9,428.0 L752.9,428.0 L754.9,428.0 L756.9,428.0 L758.9,428.0 L760.9,428.0 L762.9,428.0 L765.0,428.0 L767.0,428.0 L769.0,428.0 L771.0,428.0 L773.0,428.0 L775.0,428.0 L777.0,428.0 L779.0,428.0" fill="none" stroke="#8927e6" stroke-width="3.5" stroke-linejoin="round"/>
<path d="M460.0,987.0 L462.0,987.0 L464.0,987.0 L466.0,987.0 L468.0,987.0 L470.0,987.0 L472.0,987.0 L474.0,987.0 L476.1,987.0 L478.1,987.0 L480.1,987.0 L482.1,987.0 L484.1,987.0 L486.1,987.0 L488.1,987.0 L490.1,987.0 L492.1,987.0 L494.1,987.0 L496.1,987.0 L498.1,987.0 L500.1,987.0 L502.1,987.0 L504.1,987.0 L506.1,987.0 L508.2,987.0 L510.2,987.0 L512.2,987.0 L514.2,987.0 L516.2,987.0 L518.2,987.0 L520.2,987.0 L522.2,987.0 L524.2,987.0 L526.2,987.0 L528.2,987.0 L530.2,987.0 L532.2,987.0 L534.2,987.0 L536.2,987.0 L538.2,987.0 L540.3,986.0 L542.3,983.3 L544.3,980.5 L546.3,977.6 L548.3,974.5 L550.3,971.4 L552.3,968.2 L554.3,964.9 L556.3,961.5 L558.3,958.0 L560.3,954.4 L562.3,950.7 L564.3,947.0 L566.3,943.1 L568.3,939.2 L570.3,935.2 L572.4,931.1 L574.4,926.9 L576.4,922.7 L578.4,918.3 L580.4,913.9 L582.4,909.5 L584.4,904.9 L586.4,900.3 L588.4,895.7 L590.4,891.0 L592.4,886.2 L594.4,881.3 L596.4,876.4 L598.4,871.5 L600.4,866.5 L602.4,861.4 L604.5,856.3 L606.5,851.1 L608.5,845.9 L610.5,840.7 L612.5,835.4 L614.5,830.0 L616.5,824.6 L618.5,819.2 L620.5,813.8 L622.5,808.3 L624.5,802.8 L626.5,797.2 L628.5,791.7 L630.5,786.1 L632.5,780.4 L634.5,774.8 L636.6,769.1 L638.6,763.4 L640.6,757.7 L642.6,752.0 L644.6,746.3 L646.6,740.5 L648.6,734.8 L650.6,729.0 L652.6,723.3 L654.6,717.5 L656.6,711.7 L658.6,706.0 L660.6,700.2 L662.6,694.4 L664.6,688.6 L666.6,682.9 L668.7,677.1 L670.7,671.4 L672.7,665.7 L674.7,660.0 L676.7,654.3 L678.7,648.6 L680.7,642.9 L682.7,637.3 L684.7,631.7 L686.7,626.1 L688.7,620.5 L690.7,615.0 L692.7,609.5 L694.7,604.0 L696.7,598.6 L698.7,593.2 L700.8,587.8 L702.8,582.5 L704.8,577.2 L706.8,572.0 L708.8,566.8 L710.8,561.7 L712.8,556.6 L714.8,551.5 L716.8,546.5 L718.8,541.6 L720.8,536.7 L722.8,531.9 L724.8,527.1 L726.8,522.4 L728.8,517.8 L730.8,513.2 L732.9,508.7 L734.9,504.3 L736.9,499.9 L738.9,495.7 L740.9,491.4 L742.9,487.3 L744.9,483.2 L746.9,479.3 L748.9,475.4 L750.9,471.6 L752.9,467.8 L754.9,464.2 L756.9,460.6 L758.9,457.2 L760.9,453.8 L762.9,450.5 L765.0,447.4 L767.0,444.3 L769.0,441.3 L771.0,438.4 L773.0,435.7 L775.0,433.0 L777.0,430.4 L779.0,428.0" fill="none" stroke="#8927e6" stroke-width="3.5" stroke-linejoin="round"/>
<path d="M460.0,987.0 L470.0,987.0 L473.8,983.5 L477.5,980.0 L481.2,976.5 L484.8,972.9 L488.2,969.4 L491.6,965.9 L494.8,962.4 L498.0,958.9 L501.1,955.4 L504.1,951.8 L507.0,948.3 L509.9,944.8 L512.6,941.3 L515.3,937.8 L517.9,934.3 L520.5,930.7 L522.9,927.2 L525.3,923.7 L527.7,920.2 L530.0,916.7 L532.2,913.2 L534.4,909.7 L536.6,906.1 L538.8,902.6 L540.9,899.1 L543.0,895.6 L545.0,892.1 L547.1,888.6 L549.1,885.0 L551.1,881.5 L553.1,878.0 L555.1,874.5 L557.1,871.0 L559.1,867.5 L561.2,863.9 L563.2,860.4 L565.2,856.9 L567.3,853.4 L569.4,849.9 L571.5,846.4 L573.6,842.9 L575.8,839.3 L577.9,835.8 L580.1,832.3 L582.3,828.8 L584.4,825.3 L586.6,821.8 L588.8,818.2 L591.0,814.7 L593.1,811.2 L595.3,807.7 L597.4,804.2 L599.6,800.7 L601.7,797.2 L603.8,793.6 L605.8,790.1 L607.8,786.6 L609.8,783.1 L611.8,779.6 L613.7,776.1 L615.6,772.5 L617.5,769.0 L619.3,765.5 L621.1,762.0 L622.9,758.5 L624.6,755.0 L626.4,751.4 L628.1,747.9 L629.8,744.4 L631.5,740.9 L633.2,737.4 L634.9,733.9 L636.6,730.4 L638.3,726.8 L640.0,723.3 L641.7,719.8 L643.4,716.3 L645.1,712.8 L646.9,709.3 L648.6,705.7 L650.4,702.2 L652.2,698.7 L653.9,695.2 L655.7,691.7 L657.5,688.2 L659.2,684.6 L661.0,681.1 L662.8,677.6 L664.6,674.1 L666.3,670.6 L668.1,667.1 L669.9,663.6 L671.6,660.0 L673.4,656.5 L675.2,653.0 L676.9,649.5 L678.6,646.0 L680.3,642.5 L682.1,638.9 L683.8,635.4 L685.4,631.9 L687.1,628.4 L688.8,624.9 L690.4,621.4 L692.1,617.8 L693.7,614.3 L695.3,610.8 L696.9,607.3 L698.5,603.8 L700.2,600.3 L701.8,596.8 L703.4,593.2 L705.0,589.7 L706.6,586.2 L708.3,582.7 L709.9,579.2 L711.6,575.7 L713.2,572.1 L714.9,568.6 L716.6,565.1 L718.3,561.6 L720.1,558.1 L721.9,554.6 L723.7,551.1 L725.5,547.5 L727.4,544.0 L729.3,540.5 L731.1,537.0 L733.0,533.5 L734.9,530.0 L736.7,526.4 L738.6,522.9 L740.4,519.4 L742.3,515.9 L744.1,512.4 L745.8,508.9 L747.6,505.3 L749.3,501.8 L751.0,498.3 L752.6,494.8 L754.2,491.3 L755.8,487.8 L757.3,484.3 L758.7,480.7 L760.1,477.2 L761.3,473.7 L762.5,470.2 L763.6,466.7 L764.8,463.2 L765.9,459.6 L767.0,456.1 L768.2,452.6 L769.4,449.1 L770.8,445.6 L772.2,442.1 L773.8,438.5 L775.5,435.0 L777.2,431.5 L779.0,428.0" fill="none" stroke="#8927e6" stroke-width="3.5" stroke-linejoin="round"/>
<path d="M460.0,987.0 L540.0,987.0 L548.3,983.5 L556.1,980.0 L562.9,976.5 L569.4,972.9 L575.4,969.4 L581.1,965.9 L586.2,962.4 L591.0,958.9 L595.4,955.4 L599.7,951.8 L603.8,948.3 L607.7,944.8 L611.4,941.3 L614.8,937.8 L618.0,934.3 L620.8,930.7 L623.5,927.2 L626.0,923.7 L628.5,920.2 L630.9,916.7 L633.2,913.2 L635.5,909.7 L637.7,906.1 L639.8,902.6 L641.8,899.1 L643.8,895.6 L645.7,892.1 L647.6,888.6 L649.4,885.0 L651.2,881.5 L652.9,878.0 L654.6,874.5 L656.3,871.0 L657.9,867.5 L659.4,863.9 L661.0,860.4 L662.5,856.9 L664.0,853.4 L665.4,849.9 L666.9,846.4 L668.3,842.9 L669.7,839.3 L671.1,835.8 L672.4,832.3 L673.8,828.8 L675.1,825.3 L676.4,821.8 L677.7,818.2 L679.0,814.7 L680.2,811.2 L681.5,807.7 L682.7,804.2 L683.9,800.7 L685.1,797.2 L686.3,793.6 L687.4,790.1 L688.6,786.6 L689.7,783.1 L690.8,779.6 L691.9,776.1 L693.0,772.5 L694.1,769.0 L695.1,765.5 L696.2,762.0 L697.2,758.5 L698.2,755.0 L699.2,751.4 L700.1,747.9 L701.1,744.4 L702.0,740.9 L703.0,737.4 L703.9,733.9 L704.8,730.4 L705.7,726.8 L706.5,723.3 L707.4,719.8 L708.2,716.3 L709.1,712.8 L709.9,709.3 L718.7,709.3 L717.9,712.8 L717.0,716.3 L716.2,719.8 L715.3,723.3 L714.5,726.8 L713.6,730.4 L712.7,733.9 L711.8,737.4 L710.8,740.9 L709.9,744.4 L708.9,747.9 L707.9,751.4 L707.0,755.0 L706.0,758.5 L704.9,762.0 L703.9,765.5 L702.8,769.0 L701.8,772.5 L700.7,776.1 L699.6,779.6 L698.5,783.1 L697.4,786.6 L696.2,790.1 L695.1,793.6 L693.9,797.2 L692.7,800.7 L691.6,804.2 L690.3,807.7 L689.1,811.2 L687.9,814.7 L686.6,818.2 L685.4,821.8 L684.1,825.3 L682.8,828.8 L681.5,832.3 L680.1,835.8 L678.8,839.3 L677.4,842.9 L676.0,846.4 L674.7,849.9 L673.3,853.4 L671.8,856.9 L670.4,860.4 L668.9,863.9 L667.4,867.5 L665.9,871.0 L664.3,874.5 L662.7,878.0 L661.1,881.5 L659.4,885.0 L657.7,888.6 L655.9,892.1 L654.1,895.6 L652.3,899.1 L650.3,902.6 L648.4,906.1 L646.4,909.7 L644.3,913.2 L642.2,916.7 L640.0,920.2 L637.7,923.7 L635.4,927.2 L633.0,930.7 L630.2,934.3 L627.1,937.8 L623.8,941.3 L620.4,944.8 L617.1,948.3 L614.0,951.8 L611.1,955.4 L607.9,958.9 L603.9,962.4 L599.1,965.9 L593.5,969.4 L587.2,972.9 L579.9,976.5 L571.6,980.0 L562.6,983.5 L552.0,987.0 L460.0,987.0Z" fill="#8927e6" stroke="#8927e6" stroke-width="0.8" stroke-linejoin="round"/>
<path d="M460.0,987.0 L563.0,987.0 L587.5,983.5 L605.8,980.0 L613.8,976.5 L618.8,972.9 L622.6,969.4 L626.1,965.9 L629.3,962.4 L632.2,958.9 L634.8,955.4 L637.2,951.8 L639.6,948.3 L641.9,944.8 L644.1,941.3 L646.2,937.8 L648.2,934.3 L650.1,930.7 L651.9,927.2 L653.7,923.7 L655.4,920.2 L657.1,916.7 L658.7,913.2 L660.2,909.7 L661.8,906.1 L663.3,902.6 L664.9,899.1 L666.4,895.6 L668.0,892.1 L669.5,888.6 L671.1,885.0 L672.6,881.5 L674.1,878.0 L675.6,874.5 L677.1,871.0 L678.6,867.5 L680.0,863.9 L681.4,860.4 L682.7,856.9 L684.0,853.4 L685.3,849.9 L686.5,846.4 L687.7,842.9 L688.8,839.3 L689.9,835.8 L691.0,832.3 L692.1,828.8 L693.1,825.3 L694.2,821.8 L695.2,818.2 L696.2,814.7 L697.1,811.2 L698.1,807.7 L699.1,804.2 L700.0,800.7 L700.9,797.2 L701.9,793.6 L702.8,790.1 L703.7,786.6 L704.7,783.1 L705.6,779.6 L706.6,776.1 L707.5,772.5 L708.6,769.0 L709.6,765.5 L710.7,762.0 L711.8,758.5 L713.0,755.0 L714.1,751.4 L715.2,747.9 L716.3,744.4 L717.3,740.9 L718.3,737.4 L719.3,733.9 L720.2,730.4 L721.0,726.8 L721.8,723.3 L722.5,719.8 L723.0,716.3 L723.5,712.8 L723.8,709.3 L724.1,705.7 L724.3,702.2 L724.4,698.7 L724.6,695.2 L724.7,691.7 L724.9,688.2 L725.0,684.6 L725.1,681.1 L725.2,677.6 L725.3,674.1 L725.4,670.6 L725.5,667.1 L725.6,663.6 L725.6,660.0 L725.7,656.5 L725.8,653.0 L725.8,649.5 L725.9,646.0 L725.9,642.5 L726.0,638.9 L726.0,635.4 L726.1,631.9 L726.1,628.4 L726.2,624.9 L726.2,621.4 L726.3,617.8 L726.4,614.3 L726.4,610.8 L726.5,607.3 L726.6,603.8 L726.7,600.3 L726.8,596.8 L726.9,593.2 L727.0,589.7 L727.1,586.2 L727.2,582.7 L727.4,579.2 L727.6,575.7 L727.7,572.1 L727.9,568.6 L728.1,565.1 L728.5,561.6 L729.0,558.1 L729.7,554.6 L730.5,551.1 L731.5,547.5 L732.5,544.0 L733.6,540.5 L734.9,537.0 L736.2,533.5 L737.6,530.0 L739.0,526.4 L740.5,522.9 L742.0,519.4 L743.6,515.9 L745.1,512.4 L746.7,508.9 L748.2,505.3 L749.7,501.8 L751.2,498.3 L752.7,494.8 L754.1,491.3 L755.4,487.8 L756.6,484.3 L757.8,480.7 L758.8,477.2 L759.8,473.7 L760.7,470.2 L761.5,466.7 L762.4,463.2 L763.3,459.6 L764.2,456.1 L765.3,452.6 L766.4,449.1 L767.8,445.6 L769.4,442.1 L771.4,438.5 L773.8,435.0 L776.3,431.5 L779.0,428.0 L779.0,428.0 L779.0,987.0Z" fill="#8927e6" stroke="#8927e6" stroke-width="1"/>
<rect x="459.5" y="985" width="320" height="4.6" fill="#8927e6"/>
<rect x="575" y="425.9" width="204.5" height="4.4" fill="#8927e6"/>
<path d="M564.4,983.5 L572.7,980.0 L581.0,976.5 L588.6,972.9 L595.0,969.4 L600.6,965.9 L605.4,962.4 L609.4,958.9 L612.6,955.4 L615.5,951.8 L618.6,948.3 L621.9,944.8 L625.3,941.3 L628.6,937.8 L631.7,934.3 L634.5,930.7 L636.9,927.2 L639.2,923.7 L641.5,920.2 L643.7,916.7 L645.8,913.2 L647.9,909.7 L649.9,906.1 L651.8,902.6 L653.8,899.1 L655.6,895.6 L657.4,892.1 L659.2,888.6 L660.9,885.0 L662.6,881.5 L664.2,878.0 L665.8,874.5 L667.4,871.0 L668.9,867.5 L670.4,863.9 L671.9,860.4 L673.3,856.9 L674.8,853.4 L676.2,849.9 L677.5,846.4 L678.9,842.9 L680.3,839.3 L681.6,835.8 L683.0,832.3 L684.3,828.8 L685.6,825.3 L686.9,821.8 L688.1,818.2 L689.4,814.7 L690.6,811.2 L691.8,807.7 L693.1,804.2 L694.2,800.7 L695.4,797.2 L696.6,793.6 L697.7,790.1 L698.9,786.6 L700.0,783.1 L701.1,779.6 L702.2,776.1 L703.3,772.5 L704.3,769.0 L705.4,765.5 L706.4,762.0 L707.5,758.5 L708.5,755.0 L709.4,751.4 L710.4,747.9 L711.4,744.4 L712.3,740.9 L713.3,737.4 L714.2,733.9 L715.1,730.4 L716.0,726.8 L716.8,723.3 L717.7,719.8 L718.5,716.3 L719.4,712.8 L721.0,712.8 L720.2,716.3 L719.4,719.8 L718.6,723.3 L717.8,726.8 L716.9,730.4 L716.1,733.9 L715.2,737.4 L714.3,740.9 L713.4,744.4 L712.5,747.9 L711.6,751.4 L710.7,755.0 L709.7,758.5 L708.8,762.0 L707.9,765.5 L706.9,769.0 L706.0,772.5 L705.1,776.1 L704.1,779.6 L703.2,783.1 L702.2,786.6 L701.3,790.1 L700.4,793.6 L699.4,797.2 L698.5,800.7 L697.5,804.2 L696.5,807.7 L695.6,811.2 L694.6,814.7 L693.6,818.2 L692.6,821.8 L691.5,825.3 L690.5,828.8 L689.4,832.3 L688.3,835.8 L687.2,839.3 L686.0,842.9 L684.8,846.4 L683.6,849.9 L682.3,853.4 L681.0,856.9 L679.7,860.4 L678.3,863.9 L676.9,867.5 L675.4,871.0 L673.9,874.5 L672.4,878.0 L670.9,881.5 L669.4,885.0 L667.8,888.6 L666.3,892.1 L664.7,895.6 L663.2,899.1 L661.6,902.6 L660.1,906.1 L658.5,909.7 L657.0,913.2 L655.4,916.7 L653.7,920.2 L652.0,923.7 L650.2,927.2 L648.4,930.7 L646.5,934.3 L644.5,937.8 L642.4,941.3 L640.2,944.8 L637.9,948.3 L635.5,951.8 L633.1,955.4 L630.5,958.9 L627.6,962.4 L624.4,965.9 L620.9,969.4 L617.1,972.9 L612.1,976.5 L604.1,980.0 L585.6,983.5Z" fill="#ffffff"/>
<path d="M460.0,987.0 L655.0,987.0 L664.8,983.5 L669.7,980.0 L673.3,976.5 L676.5,972.9 L680.0,969.4 L683.4,965.9 L686.7,962.4 L689.8,958.9 L692.6,955.4 L695.1,951.8 L697.3,948.3 L699.3,944.8 L701.1,941.3 L702.7,937.8 L704.3,934.3 L705.7,930.7 L707.1,927.2 L708.5,923.7 L709.8,920.2 L711.1,916.7 L712.4,913.2 L713.7,909.7 L714.9,906.1 L716.1,902.6 L717.3,899.1 L718.5,895.6 L719.6,892.1 L720.8,888.6 L721.8,885.0 L722.9,881.5 L723.9,878.0 L725.0,874.5 L725.9,871.0 L726.9,867.5 L727.8,863.9 L728.8,860.4 L729.6,856.9 L730.5,853.4 L731.3,849.9 L732.1,846.4 L732.9,842.9 L733.7,839.3 L734.5,835.8 L735.2,832.3 L736.0,828.8 L736.7,825.3 L737.4,821.8 L738.1,818.2 L738.8,814.7 L739.5,811.2 L740.2,807.7 L740.9,804.2 L741.5,800.7 L742.2,797.2 L742.8,793.6 L743.4,790.1 L744.0,786.6 L744.6,783.1 L745.2,779.6 L745.8,776.1 L746.4,772.5 L747.0,769.0 L747.5,765.5 L748.1,762.0 L748.7,758.5 L749.2,755.0 L749.7,751.4 L750.3,747.9 L750.8,744.4 L751.3,740.9 L751.8,737.4 L752.3,733.9 L752.8,730.4 L753.3,726.8 L753.8,723.3 L754.3,719.8 L754.8,716.3 L755.2,712.8 L755.7,709.3 L756.2,705.7 L756.6,702.2 L757.1,698.7 L757.5,695.2 L758.0,691.7 L758.4,688.2 L758.9,684.6 L759.3,681.1 L759.7,677.6 L760.1,674.1 L760.6,670.6 L761.0,667.1 L761.4,663.6 L761.8,660.0 L762.2,656.5 L762.6,653.0 L763.0,649.5 L763.4,646.0 L763.8,642.5 L764.2,638.9 L764.5,635.4 L764.9,631.9 L765.3,628.4 L765.6,624.9 L766.0,621.4 L766.4,617.8 L766.7,614.3 L767.0,610.8 L767.4,607.3 L767.7,603.8 L768.1,600.3 L768.4,596.8 L768.7,593.2 L769.0,589.7 L769.4,586.2 L769.7,582.7 L770.0,579.2 L770.3,575.7 L770.6,572.1 L770.9,568.6 L771.2,565.1 L771.4,561.6 L771.7,558.1 L772.0,554.6 L772.3,551.1 L772.6,547.5 L772.8,544.0 L773.1,540.5 L773.4,537.0 L773.6,533.5 L773.9,530.0 L774.2,526.4 L774.4,522.9 L774.7,519.4 L774.9,515.9 L775.1,512.4 L775.4,508.9 L775.6,505.3 L775.8,501.8 L776.0,498.3 L776.2,494.8 L776.4,491.3 L776.6,487.8 L776.8,484.3 L777.0,480.7 L777.1,477.2 L777.3,473.7 L777.5,470.2 L777.6,466.7 L777.8,463.2 L777.9,459.6 L778.1,456.1 L778.2,452.6 L778.3,449.1 L778.5,445.6 L778.6,442.1 L778.7,438.5 L778.8,435.0 L778.9,431.5 L779.0,428.0 L779.0,428.0 L779.0,431.5 L779.0,435.0 L779.0,438.5 L779.0,442.1 L779.0,445.6 L779.0,449.1 L779.0,452.6 L779.0,456.1 L779.0,459.6 L779.0,463.2 L779.0,466.7 L779.0,470.2 L779.0,473.7 L779.0,477.2 L779.0,480.7 L779.0,484.3 L779.0,487.8 L779.0,491.3 L779.0,494.8 L779.0,498.3 L779.0,501.8 L779.0,505.3 L779.0,508.9 L779.0,512.4 L779.0,515.9 L779.0,519.4 L779.0,522.9 L779.0,526.4 L779.0,530.0 L779.0,533.5 L779.0,537.0 L779.0,540.5 L779.0,544.0 L779.0,547.5 L779.0,551.1 L779.0,554.6 L779.0,558.1 L779.0,561.6 L779.0,565.1 L779.0,568.6 L779.0,572.1 L778.9,575.7 L778.8,579.2 L778.7,582.7 L778.5,586.2 L778.3,589.7 L778.1,593.2 L777.9,596.8 L777.6,600.3 L777.3,603.8 L777.0,607.3 L776.7,610.8 L776.3,614.3 L775.9,617.8 L775.6,621.4 L775.1,624.9 L774.7,628.4 L774.3,631.9 L773.8,635.4 L773.4,638.9 L772.9,642.5 L772.4,646.0 L772.0,649.5 L771.5,653.0 L771.0,656.5 L770.5,660.0 L770.0,663.6 L769.5,667.1 L769.0,670.6 L768.5,674.1 L768.0,677.6 L767.5,681.1 L767.0,684.6 L766.5,688.2 L766.0,691.7 L765.5,695.2 L765.0,698.7 L764.6,702.2 L764.2,705.7 L763.7,709.3 L763.3,712.8 L762.9,716.3 L762.4,719.8 L762.0,723.3 L761.6,726.8 L761.1,730.4 L760.7,733.9 L760.3,737.4 L759.8,740.9 L759.4,744.4 L758.9,747.9 L758.5,751.4 L758.0,755.0 L757.6,758.5 L757.1,762.0 L756.7,765.5 L756.2,769.0 L755.7,772.5 L755.2,776.1 L754.8,779.6 L754.3,783.1 L753.8,786.6 L753.3,790.1 L752.8,793.6 L752.2,797.2 L751.7,800.7 L751.2,804.2 L750.7,807.7 L750.1,811.2 L749.6,814.7 L749.0,818.2 L748.4,821.8 L747.8,825.3 L747.2,828.8 L746.6,832.3 L746.0,835.8 L745.4,839.3 L744.8,842.9 L744.1,846.4 L743.5,849.9 L742.8,853.4 L742.1,856.9 L741.3,860.4 L740.6,863.9 L739.8,867.5 L739.0,871.0 L738.1,874.5 L737.3,878.0 L736.4,881.5 L735.6,885.0 L734.7,888.6 L733.8,892.1 L732.8,895.6 L731.9,899.1 L731.0,902.6 L730.0,906.1 L729.0,909.7 L728.1,913.2 L727.1,916.7 L726.1,920.2 L725.1,923.7 L724.1,927.2 L723.1,930.7 L722.1,934.3 L721.1,937.8 L720.1,941.3 L718.9,944.8 L717.7,948.3 L716.2,951.8 L714.5,955.4 L712.5,958.9 L710.3,962.4 L708.1,965.9 L705.8,969.4 L703.4,972.9 L700.8,976.5 L698.1,980.0 L695.6,983.5 L693.5,987.0 L460.0,987.0Z" fill="#e8a223"/>
<path d="M460.6,967.8 L777.8,554.5" stroke="#000" stroke-width="4" fill="none"/>
</svg>
</body></html>
